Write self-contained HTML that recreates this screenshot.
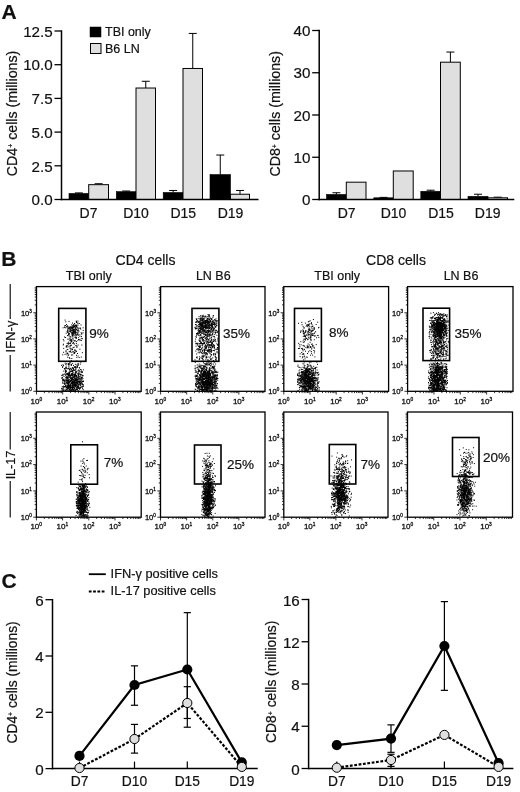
<!DOCTYPE html>
<html><head><meta charset="utf-8"><title>Figure</title>
<style>html,body{margin:0;padding:0;background:#fff}svg{display:block}text{font-family:"Liberation Sans", Arial, Helvetica, sans-serif;fill:#111;stroke:#111;stroke-width:0.2px}.s{stroke-width:0.3px}</style>
</head><body>
<svg width="520" height="792" viewBox="0 0 520 792">
<rect width="520" height="792" fill="#fff"/>
<text x="1.4" y="18.9" font-size="21" text-anchor="start" font-weight="bold" >A</text>
<text x="1.2" y="266.4" font-size="21" text-anchor="start" font-weight="bold" >B</text>
<text x="1.6" y="587.8" font-size="21" text-anchor="start" font-weight="bold" >C</text>
<rect x="69.00" y="193.43" width="19.70" height="6.07" fill="#000" stroke="#000" stroke-width="0.6"/>
<line x1="78.85" y1="193.434" x2="78.85" y2="192.8948" stroke="#000" stroke-width="1" />
<line x1="74.85" y1="192.8948" x2="82.85" y2="192.8948" stroke="#000" stroke-width="1" />
<line x1="98.6" y1="184.672" x2="98.6" y2="183.7284" stroke="#000" stroke-width="1" />
<line x1="94.6" y1="183.7284" x2="102.6" y2="183.7284" stroke="#000" stroke-width="1" />
<rect x="88.70" y="184.67" width="19.80" height="14.83" fill="#dfdfdf" stroke="#000" stroke-width="1"/>
<rect x="116.30" y="191.68" width="19.70" height="7.82" fill="#000" stroke="#000" stroke-width="0.6"/>
<line x1="126.15" y1="191.6816" x2="126.15" y2="191.0076" stroke="#000" stroke-width="1" />
<line x1="122.15" y1="191.0076" x2="130.15" y2="191.0076" stroke="#000" stroke-width="1" />
<line x1="145.75" y1="88.02040000000001" x2="145.75" y2="81.2804" stroke="#000" stroke-width="1" />
<line x1="141.75" y1="81.2804" x2="149.75" y2="81.2804" stroke="#000" stroke-width="1" />
<rect x="136.00" y="88.02" width="19.50" height="111.48" fill="#dfdfdf" stroke="#000" stroke-width="1"/>
<rect x="163.20" y="192.49" width="19.80" height="7.01" fill="#000" stroke="#000" stroke-width="0.6"/>
<line x1="173.1" y1="192.4904" x2="173.1" y2="190.4684" stroke="#000" stroke-width="1" />
<line x1="169.1" y1="190.4684" x2="177.1" y2="190.4684" stroke="#000" stroke-width="1" />
<line x1="192.75" y1="68.47439999999997" x2="192.75" y2="33.4264" stroke="#000" stroke-width="1" />
<line x1="188.75" y1="33.4264" x2="196.75" y2="33.4264" stroke="#000" stroke-width="1" />
<rect x="183.00" y="68.47" width="19.50" height="131.03" fill="#dfdfdf" stroke="#000" stroke-width="1"/>
<rect x="210.00" y="174.56" width="20.50" height="24.94" fill="#000" stroke="#000" stroke-width="0.6"/>
<line x1="220.25" y1="174.562" x2="220.25" y2="155.016" stroke="#000" stroke-width="1" />
<line x1="216.25" y1="155.016" x2="224.25" y2="155.016" stroke="#000" stroke-width="1" />
<line x1="240.0" y1="194.2428" x2="240.0" y2="190.4684" stroke="#000" stroke-width="1" />
<line x1="236.0" y1="190.4684" x2="244.0" y2="190.4684" stroke="#000" stroke-width="1" />
<rect x="230.50" y="194.24" width="19.00" height="5.26" fill="#dfdfdf" stroke="#000" stroke-width="1"/>
<line x1="61.5" y1="30.3" x2="61.5" y2="200.2" stroke="#000" stroke-width="1.5" />
<line x1="60.8" y1="199.5" x2="258.5" y2="199.5" stroke="#000" stroke-width="1.5" />
<line x1="54.5" y1="199.5" x2="61.5" y2="199.5" stroke="#000" stroke-width="1.3" />
<text x="52.7" y="205.2" font-size="15.2" text-anchor="end" font-weight="normal" >0.0</text>
<line x1="54.5" y1="165.8" x2="61.5" y2="165.8" stroke="#000" stroke-width="1.3" />
<text x="52.7" y="171.5" font-size="15.2" text-anchor="end" font-weight="normal" >2.5</text>
<line x1="54.5" y1="132.1" x2="61.5" y2="132.1" stroke="#000" stroke-width="1.3" />
<text x="52.7" y="137.79999999999998" font-size="15.2" text-anchor="end" font-weight="normal" >5.0</text>
<line x1="54.5" y1="98.39999999999999" x2="61.5" y2="98.39999999999999" stroke="#000" stroke-width="1.3" />
<text x="52.7" y="104.1" font-size="15.2" text-anchor="end" font-weight="normal" >7.5</text>
<line x1="54.5" y1="64.69999999999999" x2="61.5" y2="64.69999999999999" stroke="#000" stroke-width="1.3" />
<text x="52.7" y="70.39999999999999" font-size="15.2" text-anchor="end" font-weight="normal" >10.0</text>
<line x1="54.5" y1="31.0" x2="61.5" y2="31.0" stroke="#000" stroke-width="1.3" />
<text x="52.7" y="36.7" font-size="15.2" text-anchor="end" font-weight="normal" >12.5</text>
<text x="88.5" y="217.6" font-size="14" text-anchor="middle" font-weight="normal" >D7</text>
<text x="136" y="217.6" font-size="14" text-anchor="middle" font-weight="normal" >D10</text>
<text x="183.3" y="217.6" font-size="14" text-anchor="middle" font-weight="normal" >D15</text>
<text x="230.5" y="217.6" font-size="14" text-anchor="middle" font-weight="normal" >D19</text>
<text transform="translate(16.6,113.5) rotate(-90)" font-size="14.2" text-anchor="middle">CD4<tspan font-size="7" dy="-3.2">+</tspan><tspan dy="3.2" font-size="14"> </tspan>cells (millions)</text>
<rect x="326.50" y="194.43" width="19.80" height="5.07" fill="#000" stroke="#000" stroke-width="0.6"/>
<line x1="336.4" y1="194.43" x2="336.4" y2="192.74" stroke="#000" stroke-width="1" />
<line x1="332.4" y1="192.74" x2="340.4" y2="192.74" stroke="#000" stroke-width="1" />
<rect x="346.30" y="182.18" width="19.70" height="17.32" fill="#dfdfdf" stroke="#000" stroke-width="1"/>
<rect x="373.80" y="197.81" width="19.50" height="1.69" fill="#000" stroke="#000" stroke-width="0.6"/>
<line x1="383.55" y1="197.81" x2="383.55" y2="197.3875" stroke="#000" stroke-width="1" />
<line x1="379.55" y1="197.3875" x2="387.55" y2="197.3875" stroke="#000" stroke-width="1" />
<rect x="393.30" y="170.98" width="19.90" height="28.52" fill="#dfdfdf" stroke="#000" stroke-width="1"/>
<rect x="420.80" y="191.26" width="19.70" height="8.24" fill="#000" stroke="#000" stroke-width="0.6"/>
<line x1="430.65" y1="191.26125" x2="430.65" y2="190.205" stroke="#000" stroke-width="1" />
<line x1="426.65" y1="190.205" x2="434.65" y2="190.205" stroke="#000" stroke-width="1" />
<line x1="450.4" y1="62.1875" x2="450.4" y2="52.047500000000014" stroke="#000" stroke-width="1" />
<line x1="446.4" y1="52.047500000000014" x2="454.4" y2="52.047500000000014" stroke="#000" stroke-width="1" />
<rect x="440.50" y="62.19" width="19.80" height="137.31" fill="#dfdfdf" stroke="#000" stroke-width="1"/>
<rect x="468.00" y="196.33" width="20.00" height="3.17" fill="#000" stroke="#000" stroke-width="0.6"/>
<line x1="478.0" y1="196.33125" x2="478.0" y2="194.21875" stroke="#000" stroke-width="1" />
<line x1="474.0" y1="194.21875" x2="482.0" y2="194.21875" stroke="#000" stroke-width="1" />
<line x1="497.75" y1="197.81" x2="497.75" y2="197.17625" stroke="#000" stroke-width="1" />
<line x1="493.75" y1="197.17625" x2="501.75" y2="197.17625" stroke="#000" stroke-width="1" />
<rect x="488.00" y="197.81" width="19.50" height="1.69" fill="#dfdfdf" stroke="#000" stroke-width="1"/>
<line x1="319.2" y1="29.8" x2="319.2" y2="200.2" stroke="#000" stroke-width="1.5" />
<line x1="318.5" y1="199.5" x2="514.3" y2="199.5" stroke="#000" stroke-width="1.5" />
<line x1="312.2" y1="199.5" x2="319.2" y2="199.5" stroke="#000" stroke-width="1.3" />
<text x="310.4" y="205.2" font-size="15.2" text-anchor="end" font-weight="normal" >0</text>
<line x1="312.2" y1="157.25" x2="319.2" y2="157.25" stroke="#000" stroke-width="1.3" />
<text x="310.4" y="162.95" font-size="15.2" text-anchor="end" font-weight="normal" >10</text>
<line x1="312.2" y1="115.0" x2="319.2" y2="115.0" stroke="#000" stroke-width="1.3" />
<text x="310.4" y="120.7" font-size="15.2" text-anchor="end" font-weight="normal" >20</text>
<line x1="312.2" y1="72.75000000000001" x2="319.2" y2="72.75000000000001" stroke="#000" stroke-width="1.3" />
<text x="310.4" y="78.45000000000002" font-size="15.2" text-anchor="end" font-weight="normal" >30</text>
<line x1="312.2" y1="30.5" x2="319.2" y2="30.5" stroke="#000" stroke-width="1.3" />
<text x="310.4" y="36.2" font-size="15.2" text-anchor="end" font-weight="normal" >40</text>
<text x="346.7" y="217.6" font-size="14" text-anchor="middle" font-weight="normal" >D7</text>
<text x="393.5" y="217.6" font-size="14" text-anchor="middle" font-weight="normal" >D10</text>
<text x="441" y="217.6" font-size="14" text-anchor="middle" font-weight="normal" >D15</text>
<text x="487.7" y="217.6" font-size="14" text-anchor="middle" font-weight="normal" >D19</text>
<text transform="translate(279.7,113.8) rotate(-90)" font-size="14.2" text-anchor="middle">CD8<tspan font-size="7" dy="-3.2">+</tspan><tspan dy="3.2" font-size="14"> </tspan>cells (millions)</text>
<rect x="90.00" y="27.00" width="11.00" height="10.00" fill="#000" stroke="#000" stroke-width="0.5"/>
<rect x="90.50" y="43.50" width="10.50" height="10.00" fill="#dfdfdf" stroke="#000" stroke-width="1"/>
<text x="105" y="36.3" font-size="12.5" text-anchor="start" font-weight="normal" >TBI only</text>
<text x="105" y="53.3" font-size="12.5" text-anchor="start" font-weight="normal" >B6 LN</text>
<text x="145.5" y="265" font-size="14" text-anchor="middle" font-weight="normal" >CD4 cells</text>
<text x="396" y="265" font-size="14" text-anchor="middle" font-weight="normal" >CD8 cells</text>
<text x="88.8" y="280" font-size="12.5" text-anchor="middle" font-weight="normal" >TBI only</text>
<text x="213.3" y="280" font-size="12.5" text-anchor="middle" font-weight="normal" >LN B6</text>
<text x="337.2" y="280" font-size="12.5" text-anchor="middle" font-weight="normal" >TBI only</text>
<text x="461" y="280" font-size="12.5" text-anchor="middle" font-weight="normal" >LN B6</text>
<path d="M70.3 385.6h1.0M70.5 378.2h1.0M66.0 379.1h1.0M79.2 384.8h1.0M78.7 383.2h1.0M74.6 382.7h1.0M61.2 388.7h1.0M75.3 385.5h1.0M61.0 365.3h1.0M66.2 376.8h1.0M74.0 380.6h1.0M75.4 375.2h1.0M74.0 384.5h1.0M68.0 374.3h1.0M69.8 380.0h1.0M76.1 383.2h1.0M69.1 372.4h1.0M66.7 383.2h1.0M74.8 367.6h1.0M71.3 373.6h1.0M75.2 380.4h1.0M62.5 388.5h1.0M76.4 389.5h1.0M81.4 384.3h1.0M72.8 369.3h1.0M76.0 375.5h1.0M69.1 369.6h1.0M65.7 376.2h1.0M80.4 362.7h1.0M62.5 383.2h1.0M81.4 386.2h1.0M74.3 374.4h1.0M64.7 389.8h1.0M79.2 382.4h1.0M73.6 384.9h1.0M82.4 386.6h1.0M75.4 385.9h1.0M78.2 385.8h1.0M77.5 364.7h1.0M70.8 390.2h1.0M75.6 379.6h1.0M74.1 386.8h1.0M67.7 377.3h1.0M78.8 381.2h1.0M66.3 389.5h1.0M81.5 377.0h1.0M63.0 379.8h1.0M71.0 378.3h1.0M81.1 371.8h1.0M80.2 369.6h1.0M66.9 386.7h1.0M79.3 388.7h1.0M74.2 382.3h1.0M73.0 386.2h1.0M70.9 383.5h1.0M75.7 381.0h1.0M77.0 386.1h1.0M69.2 377.6h1.0M71.9 389.3h1.0M69.8 384.5h1.0M64.7 383.2h1.0M74.6 383.1h1.0M69.2 386.9h1.0M73.8 376.3h1.0M68.4 380.1h1.0M70.5 380.4h1.0M78.6 370.5h1.0M71.6 389.6h1.0M69.8 386.6h1.0M79.1 368.0h1.0M76.4 367.6h1.0M71.0 382.7h1.0M77.2 382.3h1.0M78.8 378.4h1.0M77.9 378.6h1.0M72.9 387.3h1.0M73.4 386.7h1.0M62.1 367.4h1.0M76.0 372.3h1.0M65.3 367.8h1.0M80.2 387.7h1.0M81.6 372.6h1.0M72.0 370.7h1.0M78.4 379.4h1.0M71.4 375.6h1.0M74.6 384.7h1.0M81.7 371.8h1.0M81.4 379.4h1.0M67.2 390.2h1.0M72.7 382.1h1.0M81.3 378.6h1.0M74.1 375.5h1.0M71.9 388.5h1.0M71.6 390.4h1.0M67.6 388.9h1.0M64.0 380.9h1.0M70.8 380.7h1.0M68.2 383.1h1.0M75.5 390.0h1.0M70.7 369.7h1.0M68.4 390.7h1.0M61.3 375.6h1.0M78.5 388.1h1.0M72.0 388.2h1.0M73.1 370.4h1.0M61.8 375.2h1.0M78.0 375.9h1.0M66.1 374.1h1.0M62.0 379.9h1.0M64.3 384.3h1.0M67.8 363.5h1.0M76.7 378.5h1.0M73.9 376.9h1.0M77.1 387.7h1.0M76.3 383.9h1.0M80.7 386.9h1.0M70.1 376.8h1.0M66.0 387.2h1.0M75.6 389.1h1.0M66.1 380.2h1.0M73.9 388.4h1.0M71.8 379.2h1.0M65.4 377.8h1.0M77.8 381.9h1.0M66.5 373.4h1.0M76.0 385.3h1.0M82.9 384.8h1.0M71.6 385.7h1.0M74.1 374.7h1.0M62.9 375.0h1.0M73.9 382.7h1.0M69.4 372.2h1.0M64.2 368.9h1.0M66.3 383.3h1.0M71.6 385.7h1.0M67.3 379.9h1.0M75.0 384.4h1.0M76.1 382.9h1.0M69.9 388.1h1.0M72.3 373.6h1.0M67.9 381.0h1.0M71.3 382.4h1.0M72.0 382.6h1.0M71.1 369.7h1.0M74.7 390.5h1.0M74.8 379.3h1.0M74.9 372.3h1.0M66.0 387.7h1.0M69.5 368.7h1.0M67.0 385.7h1.0M75.2 382.6h1.0M81.6 387.4h1.0M71.9 386.4h1.0M82.8 389.7h1.0M78.7 371.3h1.0M71.0 387.6h1.0M70.1 390.6h1.0M75.9 389.2h1.0M80.1 379.1h1.0M69.8 388.9h1.0M78.4 381.1h1.0M64.4 382.7h1.0M77.1 381.2h1.0M77.5 385.9h1.0M73.3 381.5h1.0M70.4 387.2h1.0M65.1 375.3h1.0M72.0 367.8h1.0M69.2 362.9h1.0M67.6 386.1h1.0M75.7 380.5h1.0M70.5 368.2h1.0M79.1 373.1h1.0M70.8 364.6h1.0M77.1 389.4h1.0M76.1 365.1h1.0M67.9 368.4h1.0M72.2 383.2h1.0M76.1 387.3h1.0M63.5 376.5h1.0M65.1 371.3h1.0M71.5 381.0h1.0M75.2 366.7h1.0M64.0 380.8h1.0M70.7 378.2h1.0M71.6 374.2h1.0M76.6 384.2h1.0M71.4 375.0h1.0M65.6 381.3h1.0M62.2 382.8h1.0M73.0 368.6h1.0M70.4 378.2h1.0M75.0 386.5h1.0M71.8 373.3h1.0M71.1 380.4h1.0M76.8 383.6h1.0M67.3 368.8h1.0M69.6 374.3h1.0M64.8 380.0h1.0M68.8 381.9h1.0M75.4 377.3h1.0M79.2 382.1h1.0M67.1 383.2h1.0M77.0 389.5h1.0M75.3 379.6h1.0M75.3 371.3h1.0M79.7 371.8h1.0M70.5 381.2h1.0M79.6 381.2h1.0M66.8 383.3h1.0M75.8 387.4h1.0M82.8 381.2h1.0M73.7 377.1h1.0M81.2 374.7h1.0M76.4 376.7h1.0M67.5 387.5h1.0M80.7 380.9h1.0M67.6 388.3h1.0M71.7 383.8h1.0M72.0 388.1h1.0M67.8 380.6h1.0M80.9 370.1h1.0M62.2 366.4h1.0M79.6 376.9h1.0M71.6 378.2h1.0M71.2 371.2h1.0M72.2 368.1h1.0M71.5 383.8h1.0M75.0 378.9h1.0M66.1 382.4h1.0M77.0 380.0h1.0M68.9 374.7h1.0M65.9 377.8h1.0M73.9 385.6h1.0M67.4 381.1h1.0M68.6 382.5h1.0M73.0 384.7h1.0M70.4 384.3h1.0M72.3 387.9h1.0M72.0 371.7h1.0M65.2 386.6h1.0M67.8 386.7h1.0M76.8 383.8h1.0M75.3 380.1h1.0M62.8 380.7h1.0M75.0 376.2h1.0M71.4 387.7h1.0M66.3 386.8h1.0M73.0 379.6h1.0M82.0 383.8h1.0M77.8 374.8h1.0M71.9 380.9h1.0M77.8 365.3h1.0M76.8 379.8h1.0M74.9 384.3h1.0M62.3 379.1h1.0M81.7 375.8h1.0M65.4 368.8h1.0M64.1 384.0h1.0M68.6 374.9h1.0M75.4 385.9h1.0M65.4 370.5h1.0M73.9 383.2h1.0M63.5 379.2h1.0M68.5 385.1h1.0M71.2 380.2h1.0M69.7 390.5h1.0M81.0 377.7h1.0M77.5 374.2h1.0M72.5 387.7h1.0M81.8 377.6h1.0M71.5 382.8h1.0M62.3 381.1h1.0M67.6 384.3h1.0M64.7 363.2h1.0M72.2 383.3h1.0M68.4 389.0h1.0M70.2 375.5h1.0M75.1 366.9h1.0M67.6 380.8h1.0M77.5 379.5h1.0M74.0 375.1h1.0M67.8 381.2h1.0M73.1 390.2h1.0M75.9 388.2h1.0M73.3 383.3h1.0M78.0 384.3h1.0M82.8 369.9h1.0M77.3 377.6h1.0M72.0 378.7h1.0M68.8 373.5h1.0M67.9 386.8h1.0M72.2 381.6h1.0M70.9 389.2h1.0M75.2 379.7h1.0M76.3 379.6h1.0M75.0 372.4h1.0M79.0 384.1h1.0M74.2 389.0h1.0M73.3 379.7h1.0M61.9 389.7h1.0M72.2 378.4h1.0M74.3 381.7h1.0M76.4 377.7h1.0M69.2 387.1h1.0M80.7 377.7h1.0M69.9 387.6h1.0M82.9 381.4h1.0M80.0 374.6h1.0M73.3 380.3h1.0M68.3 385.5h1.0M65.1 385.5h1.0M75.7 378.5h1.0M75.5 367.1h1.0M76.9 367.1h1.0M67.5 376.0h1.0M69.4 388.7h1.0M72.5 377.4h1.0M72.0 384.3h1.0M80.1 383.4h1.0M71.7 384.8h1.0M78.3 387.0h1.0M70.2 371.5h1.0M72.7 390.3h1.0M64.9 371.8h1.0M71.8 363.6h1.0M70.3 377.1h1.0M74.9 374.7h1.0M66.3 377.5h1.0M71.7 375.0h1.0M72.1 387.8h1.0M66.9 377.2h1.0M67.3 380.7h1.0M75.4 368.8h1.0M75.0 380.8h1.0M79.8 364.2h1.0M77.2 382.9h1.0M75.1 385.0h1.0M80.5 379.0h1.0M77.7 377.3h1.0M76.7 373.7h1.0M74.9 379.6h1.0M64.6 373.9h1.0M73.3 389.5h1.0M74.8 385.7h1.0M69.5 376.1h1.0M77.8 381.6h1.0M70.2 375.8h1.0M70.3 386.6h1.0M74.3 370.1h1.0M74.8 382.6h1.0M65.5 388.0h1.0M70.2 378.0h1.0M67.5 384.9h1.0M67.8 388.3h1.0M69.2 385.5h1.0M71.4 375.0h1.0M61.3 388.7h1.0M68.2 382.3h1.0M80.2 382.1h1.0M63.0 365.7h1.0M79.7 387.7h1.0M66.7 388.7h1.0M75.2 386.8h1.0M77.9 387.6h1.0M73.1 385.4h1.0M69.9 381.3h1.0M77.8 377.0h1.0M79.5 373.9h1.0M73.7 376.3h1.0M73.0 374.8h1.0M61.6 390.8h1.0M74.0 376.0h1.0M73.3 389.9h1.0M65.6 380.0h1.0M75.5 385.7h1.0M80.1 384.0h1.0M72.1 378.5h1.0M73.7 377.2h1.0M65.3 374.3h1.0M68.1 375.5h1.0M64.5 386.7h1.0M63.5 386.9h1.0M65.4 384.2h1.0M80.9 382.8h1.0M67.2 381.4h1.0M73.0 365.4h1.0M68.1 382.5h1.0M69.0 381.7h1.0M76.8 387.9h1.0M77.9 386.3h1.0M70.1 380.8h1.0M70.2 378.2h1.0M70.8 365.5h1.0M69.8 380.8h1.0M65.7 380.8h1.0M75.4 379.5h1.0M70.7 364.6h1.0M75.4 378.3h1.0M77.5 384.3h1.0M72.1 375.7h1.0M76.1 376.6h1.0M73.5 376.4h1.0M73.3 387.8h1.0M66.3 380.7h1.0M76.0 382.3h1.0M66.1 363.7h1.0M78.0 388.3h1.0M68.0 374.6h1.0M77.8 372.8h1.0M67.5 374.4h1.0M73.5 374.3h1.0M80.5 380.3h1.0M68.2 383.0h1.0M71.9 378.2h1.0M74.1 374.8h1.0M63.8 374.2h1.0M71.9 381.5h1.0M75.6 382.1h1.0M66.8 374.6h1.0M75.2 385.8h1.0M71.2 379.4h1.0M78.1 381.1h1.0M76.8 386.2h1.0M68.3 377.8h1.0M66.7 373.8h1.0M72.1 386.1h1.0M79.6 388.3h1.0M79.8 369.6h1.0M67.8 385.1h1.0M81.3 381.9h1.0M66.4 377.8h1.0M67.7 373.3h1.0M81.8 375.4h1.0M79.7 384.0h1.0M68.0 384.7h1.0M82.5 386.6h1.0M80.2 381.9h1.0M75.4 379.2h1.0M62.7 380.4h1.0M73.6 375.9h1.0M70.0 388.1h1.0M74.1 367.0h1.0M71.8 370.9h1.0M71.6 371.1h1.0M72.5 385.2h1.0M72.2 383.5h1.0M67.8 364.6h1.0M70.8 374.1h1.0M65.4 377.8h1.0M73.9 370.4h1.0M76.4 379.6h1.0M72.8 379.9h1.0M71.7 387.6h1.0M71.9 373.0h1.0M76.2 375.5h1.0M65.2 370.9h1.0M67.9 364.2h1.0M62.4 386.6h1.0M67.0 377.7h1.0M72.9 382.7h1.0M70.0 385.1h1.0M73.9 381.5h1.0M68.7 369.1h1.0M68.5 367.1h1.0M80.0 385.8h1.0M77.8 363.8h1.0M75.4 384.8h1.0M73.3 382.5h1.0M78.8 367.6h1.0M63.9 368.5h1.0M68.4 375.6h1.0M74.4 383.4h1.0M72.2 374.9h1.0M69.1 389.6h1.0M77.0 381.9h1.0M68.1 386.8h1.0M79.5 378.6h1.0M77.4 371.0h1.0M78.6 382.8h1.0M61.7 387.0h1.0M67.6 379.5h1.0M73.8 378.0h1.0M73.7 376.0h1.0M76.4 381.0h1.0M79.5 381.3h1.0M75.0 390.6h1.0M71.0 387.1h1.0M69.6 371.0h1.0M79.1 389.2h1.0M82.0 388.7h1.0M68.3 366.0h1.0M67.8 374.9h1.0M66.7 386.2h1.0M74.1 378.6h1.0M73.1 379.7h1.0M73.4 387.8h1.0M78.2 374.8h1.0M72.7 391.0h1.0M61.3 378.0h1.0M72.2 368.0h1.0M68.6 387.5h1.0M66.4 368.4h1.0M75.4 389.5h1.0M73.3 369.3h1.0M77.1 388.1h1.0M75.6 376.6h1.0M74.0 388.1h1.0M68.4 364.4h1.0M74.1 385.3h1.0M72.1 389.0h1.0M68.2 380.3h1.0M70.0 386.1h1.0M82.4 378.7h1.0M77.1 386.3h1.0M71.3 371.4h1.0M75.5 384.8h1.0M70.7 382.5h1.0M62.7 390.4h1.0M69.3 371.1h1.0M67.1 373.6h1.0M77.6 390.5h1.0M63.2 389.3h1.0M77.8 375.8h1.0M62.3 374.3h1.0M67.9 384.1h1.0M69.7 362.7h1.0M73.5 367.2h1.0M77.9 370.1h1.0M67.5 373.3h1.0M77.5 386.4h1.0M74.1 367.1h1.0M68.6 376.0h1.0M65.6 385.6h1.0M67.2 374.6h1.0M73.1 372.2h1.0M79.9 383.7h1.0M79.3 377.0h1.0M78.8 388.0h1.0M62.0 377.4h1.0M62.7 380.0h1.0M75.8 371.4h1.0M63.4 390.5h1.0M70.6 383.4h1.0M71.0 390.0h1.0M78.7 381.8h1.0M63.2 387.7h1.0M68.9 386.7h1.0M79.4 376.9h1.0M68.5 384.9h1.0M75.4 369.1h1.0M63.8 383.2h1.0M77.0 366.0h1.0M66.7 382.5h1.0M68.8 379.6h1.0M75.1 373.7h1.0M75.0 375.3h1.0M68.5 385.8h1.0M68.3 383.6h1.0M82.4 381.2h1.0M71.1 387.6h1.0M69.6 390.7h1.0M63.7 386.6h1.0M68.7 373.8h1.0M81.4 372.2h1.0M71.2 379.8h1.0M69.3 375.3h1.0M74.9 384.0h1.0M69.9 385.3h1.0M81.5 372.0h1.0M63.2 371.1h1.0M65.3 364.4h1.0M74.9 364.3h1.0M61.5 378.2h1.0M67.2 378.6h1.0M72.4 385.9h1.0M69.7 381.1h1.0M68.4 382.0h1.0M64.4 381.6h1.0M63.8 383.3h1.0M65.7 366.1h1.0M67.2 387.6h1.0M74.5 380.1h1.0M66.0 371.3h1.0M80.8 383.2h1.0M64.5 380.3h1.0M73.4 379.6h1.0M70.2 368.6h1.0M67.1 388.6h1.0M73.7 390.3h1.0M64.7 386.4h1.0M74.5 374.4h1.0M75.1 372.9h1.0M66.8 380.8h1.0M65.5 367.8h1.0M69.2 387.9h1.0M64.5 369.2h1.0M82.1 384.6h1.0M78.1 373.6h1.0M77.2 383.3h1.0M76.2 381.2h1.0M79.8 375.2h1.0M65.7 367.7h1.0M79.5 374.4h1.0M65.2 372.5h1.0M69.1 369.6h1.0M70.1 375.4h1.0M68.4 372.4h1.0M72.2 376.9h1.0M72.7 383.2h1.0M68.5 373.8h1.0M77.0 366.8h1.0M67.4 378.4h1.0M69.8 389.9h1.0M69.1 389.7h1.0M62.5 364.7h1.0M79.9 384.9h1.0M75.2 382.1h1.0M75.1 370.1h1.0M78.2 376.2h1.0M78.4 381.8h1.0M79.3 379.8h1.0M69.4 383.2h1.0M69.2 376.1h1.0M72.7 382.3h1.0M81.9 381.4h1.0M72.8 382.2h1.0M71.1 374.4h1.0M71.6 375.2h1.0M82.7 385.8h1.0M69.1 363.8h1.0M71.7 377.3h1.0M64.9 370.8h1.0M71.8 379.7h1.0M81.4 382.2h1.0M73.1 377.7h1.0M69.7 381.3h1.0M66.3 389.7h1.0M62.9 386.1h1.0M65.9 390.8h1.0M67.4 374.2h1.0M82.7 375.7h1.0M67.1 377.9h1.0M68.5 364.9h1.0M67.5 376.4h1.0M64.9 390.6h1.0M73.9 374.1h1.0M77.1 381.1h1.0M64.4 386.6h1.0M77.5 363.8h1.0" stroke="#000" stroke-width="1.0" stroke-opacity="1" fill="none"/>
<path d="M80.7 332.7h1.0M75.9 322.1h1.0M69.3 328.9h1.0M77.3 323.9h1.0M68.5 321.4h1.0M71.4 332.1h1.0M64.9 327.8h1.0M74.8 337.6h1.0M75.5 329.1h1.0M67.2 326.3h1.0M69.5 331.2h1.0M72.3 338.0h1.0M73.8 325.7h1.0M79.4 334.8h1.0M73.0 327.3h1.0M64.1 325.9h1.0M76.6 326.9h1.0M66.6 331.4h1.0M73.6 333.2h1.0M75.4 336.8h1.0M68.7 334.9h1.0M68.1 333.6h1.0M73.3 331.6h1.0M76.9 330.4h1.0M77.5 334.4h1.0M73.1 327.9h1.0M69.1 328.1h1.0M71.6 330.4h1.0M76.0 326.6h1.0M69.3 329.1h1.0M73.4 325.8h1.0M79.8 328.0h1.0M72.5 331.8h1.0M73.4 333.2h1.0M73.8 331.2h1.0M64.0 327.3h1.0M73.9 329.6h1.0M68.8 327.9h1.0M80.8 338.3h1.0M72.2 336.3h1.0M65.4 321.8h1.0M70.3 326.6h1.0M70.0 331.3h1.0M72.7 331.7h1.0M72.3 334.7h1.0M80.5 324.9h1.0M73.2 329.3h1.0M74.1 323.6h1.0M64.6 320.1h1.0M74.9 331.4h1.0M70.8 327.1h1.0M66.1 326.4h1.0M75.6 332.9h1.0M72.4 332.8h1.0M69.8 330.8h1.0M72.7 333.0h1.0M72.2 329.9h1.0M71.9 327.6h1.0M82.6 332.8h1.0M74.4 340.8h1.0M78.8 323.5h1.0M75.6 334.3h1.0M81.0 336.4h1.0M76.0 325.2h1.0M68.6 331.7h1.0M74.8 325.9h1.0M70.8 328.7h1.0M72.8 332.0h1.0M71.2 324.9h1.0M78.1 337.7h1.0M72.0 335.1h1.0M74.5 333.5h1.0M74.7 327.1h1.0M75.1 335.0h1.0M68.5 339.3h1.0M81.9 338.7h1.0M81.5 333.8h1.0M71.0 327.8h1.0M68.8 331.0h1.0M72.4 333.5h1.0M63.4 340.9h1.0M82.7 330.4h1.0M75.5 332.6h1.0M73.7 329.6h1.0M71.9 326.8h1.0M73.3 330.4h1.0M73.9 326.7h1.0M72.7 330.7h1.0M75.2 325.7h1.0M74.4 334.9h1.0M75.2 328.8h1.0M70.3 329.4h1.0M75.8 337.5h1.0M71.8 327.6h1.0M74.2 331.4h1.0M68.4 327.2h1.0M72.0 333.5h1.0M67.1 325.9h1.0M74.7 325.0h1.0M73.0 332.1h1.0M72.0 325.9h1.0M72.2 329.0h1.0M74.0 326.7h1.0M77.4 323.0h1.0M71.7 330.5h1.0M76.8 327.8h1.0M75.0 327.9h1.0M75.8 338.3h1.0M70.7 332.5h1.0M68.3 334.9h1.0M77.9 330.7h1.0M67.4 332.3h1.0M77.7 335.4h1.0M76.2 322.3h1.0M69.4 336.9h1.0M67.0 335.6h1.0M81.0 333.9h1.0M77.5 329.0h1.0M67.0 330.0h1.0M71.6 330.3h1.0M75.6 329.8h1.0M73.4 332.4h1.0M72.5 338.8h1.0M74.5 330.9h1.0M71.6 327.7h1.0M78.5 331.2h1.0M67.6 328.0h1.0M71.9 328.5h1.0M77.4 325.3h1.0M74.7 331.1h1.0M67.2 330.7h1.0M72.1 332.8h1.0M70.5 331.9h1.0M65.0 325.6h1.0M76.0 335.2h1.0M72.4 327.8h1.0M77.4 321.1h1.0M68.9 333.5h1.0M75.4 325.9h1.0M64.0 337.0h1.0M73.2 326.5h1.0M72.7 334.6h1.0M75.8 321.1h1.0M76.0 322.5h1.0M77.6 332.3h1.0M82.6 327.8h1.0M72.5 335.2h1.0M69.6 327.3h1.0M70.8 330.2h1.0M67.6 332.7h1.0M74.9 330.8h1.0M80.2 329.0h1.0M78.4 328.0h1.0M75.9 321.8h1.0M73.4 329.7h1.0M70.3 327.8h1.0M70.9 327.3h1.0M62.6 327.8h1.0M70.0 328.1h1.0M67.7 329.9h1.0M76.0 329.4h1.0M70.3 336.6h1.0M76.9 334.6h1.0M77.7 329.0h1.0M71.9 335.5h1.0M70.0 330.0h1.0M74.2 332.2h1.0M71.3 334.9h1.0M71.7 333.8h1.0M77.3 333.5h1.0M75.8 325.3h1.0M66.6 327.7h1.0M74.6 337.3h1.0M67.0 331.9h1.0M68.7 327.2h1.0M71.3 333.6h1.0M73.5 335.8h1.0M68.1 334.5h1.0M76.7 330.8h1.0M74.6 328.0h1.0M67.6 328.7h1.0M69.6 343.5h1.0M70.3 337.9h1.0M73.4 331.9h1.0M75.8 327.0h1.0M76.6 332.2h1.0M65.7 333.2h1.0M75.0 332.5h1.0M79.6 328.6h1.0M74.8 333.9h1.0M68.4 335.9h1.0M66.0 324.6h1.0M74.9 325.6h1.0M72.0 323.1h1.0M72.8 325.4h1.0M74.0 323.6h1.0M74.5 329.3h1.0M72.8 330.2h1.0M73.1 324.6h1.0M68.3 328.5h1.0" stroke="#000" stroke-width="1.0" stroke-opacity="1" fill="none"/>
<path d="M68.2 342.1h1.0M66.7 349.6h1.0M71.3 340.4h1.0M67.1 353.5h1.0M68.7 351.7h1.0M66.6 347.0h1.0M73.7 353.2h1.0M76.0 355.3h1.0M70.1 345.3h1.0M75.9 343.6h1.0M75.3 345.6h1.0M62.2 354.8h1.0M73.6 347.2h1.0M66.6 343.3h1.0M79.6 340.4h1.0M66.0 345.9h1.0M70.0 339.7h1.0M67.8 355.4h1.0M69.3 338.3h1.0M75.9 351.5h1.0M66.8 353.0h1.0M62.8 339.6h1.0M77.6 345.0h1.0M65.5 351.1h1.0M76.6 346.8h1.0M63.0 344.2h1.0M74.1 353.1h1.0M81.3 345.0h1.0M69.6 346.7h1.0M78.0 339.5h1.0M76.0 341.6h1.0M74.3 352.5h1.0M66.1 346.3h1.0M73.2 351.7h1.0M67.3 339.1h1.0M71.0 345.2h1.0M64.5 354.4h1.0M69.3 358.5h1.0M76.3 347.2h1.0M75.6 338.1h1.0M70.4 342.4h1.0M65.7 347.1h1.0M71.3 358.5h1.0M67.4 343.3h1.0M74.1 350.2h1.0M72.1 343.2h1.0M74.5 349.9h1.0M62.8 344.9h1.0M65.1 337.5h1.0M72.7 347.5h1.0M72.6 340.0h1.0M71.0 339.7h1.0M73.9 352.5h1.0M80.8 357.1h1.0M68.0 343.3h1.0M67.3 349.4h1.0M81.9 352.7h1.0M65.5 351.1h1.0M72.0 349.4h1.0M80.9 340.4h1.0M73.7 340.8h1.0M72.2 354.9h1.0M71.3 341.5h1.0M63.2 348.4h1.0M72.1 351.9h1.0M70.0 351.0h1.0M76.1 345.8h1.0M69.7 345.5h1.0M67.2 345.3h1.0M70.5 348.7h1.0M78.7 357.5h1.0M69.8 351.8h1.0M73.5 353.1h1.0M72.1 349.1h1.0M69.7 340.7h1.0M76.4 357.4h1.0M75.3 350.5h1.0M73.3 343.4h1.0M63.1 352.3h1.0M73.0 342.6h1.0M67.2 357.2h1.0M68.4 346.8h1.0M69.5 348.2h1.0M71.0 341.0h1.0M77.4 340.7h1.0M69.5 351.4h1.0M69.3 343.5h1.0M73.8 344.1h1.0M65.8 346.2h1.0M70.9 360.6h1.0M66.5 354.8h1.0M68.1 344.2h1.0M70.4 349.2h1.0M76.3 361.0h1.0M68.8 357.6h1.0M77.0 353.5h1.0M68.2 354.2h1.0M71.5 349.8h1.0M70.7 352.3h1.0M77.6 356.0h1.0M71.0 355.0h1.0M79.3 339.5h1.0M79.4 336.3h1.0M74.7 351.8h1.0M79.4 349.2h1.0M69.6 340.6h1.0M65.7 353.1h1.0M70.8 341.3h1.0M74.7 340.9h1.0M69.8 343.3h1.0" stroke="#000" stroke-width="1.0" stroke-opacity="1" fill="none"/>
<rect x="36.50" y="286.60" width="104.70" height="104.70" fill="none" stroke="#000" stroke-width="1.3"/>
<line x1="33.3" y1="391.3" x2="36.5" y2="391.3" stroke="#000" stroke-width="0.8" />
<line x1="36.5" y1="391.3" x2="36.5" y2="394.5" stroke="#000" stroke-width="0.8" />
<line x1="34.7" y1="383.4205398634953" x2="36.5" y2="383.4205398634953" stroke="#000" stroke-width="0.8" />
<line x1="44.379460136504704" y1="391.3" x2="44.379460136504704" y2="393.1" stroke="#000" stroke-width="0.8" />
<line x1="34.7" y1="378.81135115771286" x2="36.5" y2="378.81135115771286" stroke="#000" stroke-width="0.8" />
<line x1="48.98864884228716" y1="391.3" x2="48.98864884228716" y2="393.1" stroke="#000" stroke-width="0.8" />
<line x1="34.7" y1="375.5410797269906" x2="36.5" y2="375.5410797269906" stroke="#000" stroke-width="0.8" />
<line x1="52.258920273009416" y1="391.3" x2="52.258920273009416" y2="393.1" stroke="#000" stroke-width="0.8" />
<line x1="34.7" y1="373.0044601365047" x2="36.5" y2="373.0044601365047" stroke="#000" stroke-width="0.8" />
<line x1="54.79553986349529" y1="391.3" x2="54.79553986349529" y2="393.1" stroke="#000" stroke-width="0.8" />
<line x1="34.7" y1="370.9318910212081" x2="36.5" y2="370.9318910212081" stroke="#000" stroke-width="0.8" />
<line x1="56.86810897879187" y1="391.3" x2="56.86810897879187" y2="393.1" stroke="#000" stroke-width="0.8" />
<line x1="34.7" y1="369.17955880262684" x2="36.5" y2="369.17955880262684" stroke="#000" stroke-width="0.8" />
<line x1="58.62044119737317" y1="391.3" x2="58.62044119737317" y2="393.1" stroke="#000" stroke-width="0.8" />
<line x1="34.7" y1="367.6616195904859" x2="36.5" y2="367.6616195904859" stroke="#000" stroke-width="0.8" />
<line x1="60.13838040951412" y1="391.3" x2="60.13838040951412" y2="393.1" stroke="#000" stroke-width="0.8" />
<line x1="34.7" y1="366.32270231542566" x2="36.5" y2="366.32270231542566" stroke="#000" stroke-width="0.8" />
<line x1="61.477297684574324" y1="391.3" x2="61.477297684574324" y2="393.1" stroke="#000" stroke-width="0.8" />
<line x1="33.3" y1="365.125" x2="36.5" y2="365.125" stroke="#000" stroke-width="0.8" />
<line x1="62.675" y1="391.3" x2="62.675" y2="394.5" stroke="#000" stroke-width="0.8" />
<line x1="34.7" y1="357.2455398634953" x2="36.5" y2="357.2455398634953" stroke="#000" stroke-width="0.8" />
<line x1="70.5544601365047" y1="391.3" x2="70.5544601365047" y2="393.1" stroke="#000" stroke-width="0.8" />
<line x1="34.7" y1="352.63635115771285" x2="36.5" y2="352.63635115771285" stroke="#000" stroke-width="0.8" />
<line x1="75.16364884228716" y1="391.3" x2="75.16364884228716" y2="393.1" stroke="#000" stroke-width="0.8" />
<line x1="34.7" y1="349.3660797269906" x2="36.5" y2="349.3660797269906" stroke="#000" stroke-width="0.8" />
<line x1="78.43392027300942" y1="391.3" x2="78.43392027300942" y2="393.1" stroke="#000" stroke-width="0.8" />
<line x1="34.7" y1="346.82946013650474" x2="36.5" y2="346.82946013650474" stroke="#000" stroke-width="0.8" />
<line x1="80.97053986349528" y1="391.3" x2="80.97053986349528" y2="393.1" stroke="#000" stroke-width="0.8" />
<line x1="34.7" y1="344.75689102120816" x2="36.5" y2="344.75689102120816" stroke="#000" stroke-width="0.8" />
<line x1="83.04310897879186" y1="391.3" x2="83.04310897879186" y2="393.1" stroke="#000" stroke-width="0.8" />
<line x1="34.7" y1="343.00455880262683" x2="36.5" y2="343.00455880262683" stroke="#000" stroke-width="0.8" />
<line x1="84.79544119737318" y1="391.3" x2="84.79544119737318" y2="393.1" stroke="#000" stroke-width="0.8" />
<line x1="34.7" y1="341.4866195904859" x2="36.5" y2="341.4866195904859" stroke="#000" stroke-width="0.8" />
<line x1="86.31338040951411" y1="391.3" x2="86.31338040951411" y2="393.1" stroke="#000" stroke-width="0.8" />
<line x1="34.7" y1="340.1477023154257" x2="36.5" y2="340.1477023154257" stroke="#000" stroke-width="0.8" />
<line x1="87.65229768457432" y1="391.3" x2="87.65229768457432" y2="393.1" stroke="#000" stroke-width="0.8" />
<line x1="33.3" y1="338.95000000000005" x2="36.5" y2="338.95000000000005" stroke="#000" stroke-width="0.8" />
<line x1="88.85" y1="391.3" x2="88.85" y2="394.5" stroke="#000" stroke-width="0.8" />
<line x1="34.7" y1="331.0705398634953" x2="36.5" y2="331.0705398634953" stroke="#000" stroke-width="0.8" />
<line x1="96.72946013650471" y1="391.3" x2="96.72946013650471" y2="393.1" stroke="#000" stroke-width="0.8" />
<line x1="34.7" y1="326.46135115771284" x2="36.5" y2="326.46135115771284" stroke="#000" stroke-width="0.8" />
<line x1="101.33864884228716" y1="391.3" x2="101.33864884228716" y2="393.1" stroke="#000" stroke-width="0.8" />
<line x1="34.7" y1="323.1910797269906" x2="36.5" y2="323.1910797269906" stroke="#000" stroke-width="0.8" />
<line x1="104.60892027300942" y1="391.3" x2="104.60892027300942" y2="393.1" stroke="#000" stroke-width="0.8" />
<line x1="34.7" y1="320.6544601365047" x2="36.5" y2="320.6544601365047" stroke="#000" stroke-width="0.8" />
<line x1="107.14553986349529" y1="391.3" x2="107.14553986349529" y2="393.1" stroke="#000" stroke-width="0.8" />
<line x1="34.7" y1="318.58189102120815" x2="36.5" y2="318.58189102120815" stroke="#000" stroke-width="0.8" />
<line x1="109.21810897879188" y1="391.3" x2="109.21810897879188" y2="393.1" stroke="#000" stroke-width="0.8" />
<line x1="34.7" y1="316.8295588026268" x2="36.5" y2="316.8295588026268" stroke="#000" stroke-width="0.8" />
<line x1="110.97044119737316" y1="391.3" x2="110.97044119737316" y2="393.1" stroke="#000" stroke-width="0.8" />
<line x1="34.7" y1="315.31161959048586" x2="36.5" y2="315.31161959048586" stroke="#000" stroke-width="0.8" />
<line x1="112.48838040951412" y1="391.3" x2="112.48838040951412" y2="393.1" stroke="#000" stroke-width="0.8" />
<line x1="34.7" y1="313.9727023154257" x2="36.5" y2="313.9727023154257" stroke="#000" stroke-width="0.8" />
<line x1="113.82729768457432" y1="391.3" x2="113.82729768457432" y2="393.1" stroke="#000" stroke-width="0.8" />
<line x1="33.3" y1="312.77500000000003" x2="36.5" y2="312.77500000000003" stroke="#000" stroke-width="0.8" />
<line x1="115.02499999999999" y1="391.3" x2="115.02499999999999" y2="394.5" stroke="#000" stroke-width="0.8" />
<line x1="34.7" y1="304.8955398634953" x2="36.5" y2="304.8955398634953" stroke="#000" stroke-width="0.8" />
<line x1="122.9044601365047" y1="391.3" x2="122.9044601365047" y2="393.1" stroke="#000" stroke-width="0.8" />
<line x1="34.7" y1="300.28635115771283" x2="36.5" y2="300.28635115771283" stroke="#000" stroke-width="0.8" />
<line x1="127.51364884228715" y1="391.3" x2="127.51364884228715" y2="393.1" stroke="#000" stroke-width="0.8" />
<line x1="34.7" y1="297.0160797269906" x2="36.5" y2="297.0160797269906" stroke="#000" stroke-width="0.8" />
<line x1="130.78392027300941" y1="391.3" x2="130.78392027300941" y2="393.1" stroke="#000" stroke-width="0.8" />
<line x1="34.7" y1="294.4794601365047" x2="36.5" y2="294.4794601365047" stroke="#000" stroke-width="0.8" />
<line x1="133.3205398634953" y1="391.3" x2="133.3205398634953" y2="393.1" stroke="#000" stroke-width="0.8" />
<line x1="34.7" y1="292.40689102120814" x2="36.5" y2="292.40689102120814" stroke="#000" stroke-width="0.8" />
<line x1="135.39310897879187" y1="391.3" x2="135.39310897879187" y2="393.1" stroke="#000" stroke-width="0.8" />
<line x1="34.7" y1="290.65455880262687" x2="36.5" y2="290.65455880262687" stroke="#000" stroke-width="0.8" />
<line x1="137.14544119737315" y1="391.3" x2="137.14544119737315" y2="393.1" stroke="#000" stroke-width="0.8" />
<line x1="34.7" y1="289.1366195904859" x2="36.5" y2="289.1366195904859" stroke="#000" stroke-width="0.8" />
<line x1="138.6633804095141" y1="391.3" x2="138.6633804095141" y2="393.1" stroke="#000" stroke-width="0.8" />
<line x1="34.7" y1="287.7977023154257" x2="36.5" y2="287.7977023154257" stroke="#000" stroke-width="0.8" />
<line x1="140.00229768457433" y1="391.3" x2="140.00229768457433" y2="393.1" stroke="#000" stroke-width="0.8" />
<text class="s" x="31.9" y="394.0" font-size="7.6" text-anchor="end">10<tspan font-size="4.6" dy="-2.9">0</tspan></text>
<text class="s" x="30.5" y="404" font-size="8">10<tspan font-size="4.8" dy="-3">0</tspan></text>
<text class="s" x="31.9" y="367.8" font-size="7.6" text-anchor="end">10<tspan font-size="4.6" dy="-2.9">1</tspan></text>
<text class="s" x="56.7" y="404" font-size="8">10<tspan font-size="4.8" dy="-3">1</tspan></text>
<text class="s" x="31.9" y="341.7" font-size="7.6" text-anchor="end">10<tspan font-size="4.6" dy="-2.9">2</tspan></text>
<text class="s" x="82.8" y="404" font-size="8">10<tspan font-size="4.8" dy="-3">2</tspan></text>
<text class="s" x="31.9" y="315.5" font-size="7.6" text-anchor="end">10<tspan font-size="4.6" dy="-2.9">3</tspan></text>
<text class="s" x="109.0" y="404" font-size="8">10<tspan font-size="4.8" dy="-3">3</tspan></text>
<rect x="58.70" y="308.40" width="27.20" height="52.90" fill="none" stroke="#000" stroke-width="1.6"/>
<text x="89.3" y="337.7" font-size="13.5" text-anchor="start" font-weight="normal" >9%</text>
<path d="M204.9 366.9h1.0M207.9 381.6h1.0M208.4 386.1h1.0M203.8 389.3h1.0M211.9 382.9h1.0M203.2 376.7h1.0M210.8 371.1h1.0M204.9 374.3h1.0M196.2 386.4h1.0M205.8 381.3h1.0M212.1 367.6h1.0M205.5 383.6h1.0M211.8 371.2h1.0M211.0 383.0h1.0M206.0 377.2h1.0M203.6 372.5h1.0M205.8 364.1h1.0M205.4 384.8h1.0M212.9 377.9h1.0M215.7 375.1h1.0M205.1 364.1h1.0M200.7 373.9h1.0M216.2 385.7h1.0M198.5 385.7h1.0M209.3 378.9h1.0M206.2 378.3h1.0M202.3 365.4h1.0M215.8 378.6h1.0M200.9 379.1h1.0M212.1 384.1h1.0M202.0 384.2h1.0M204.6 385.5h1.0M203.2 368.1h1.0M206.4 387.7h1.0M198.4 380.1h1.0M212.0 377.7h1.0M211.7 390.0h1.0M194.7 376.5h1.0M199.7 375.2h1.0M207.3 364.1h1.0M210.4 385.9h1.0M203.0 385.7h1.0M211.3 383.7h1.0M202.8 382.4h1.0M202.4 390.0h1.0M203.2 385.1h1.0M206.9 381.6h1.0M215.6 388.2h1.0M214.9 379.6h1.0M212.3 387.6h1.0M201.8 383.3h1.0M205.1 380.7h1.0M214.8 374.7h1.0M194.6 365.9h1.0M202.9 375.4h1.0M206.1 385.9h1.0M209.1 374.6h1.0M215.1 364.0h1.0M211.6 368.0h1.0M203.9 386.1h1.0M208.8 374.0h1.0M200.0 389.4h1.0M206.1 383.6h1.0M197.0 375.8h1.0M210.6 368.3h1.0M197.8 381.4h1.0M209.2 387.3h1.0M203.5 379.2h1.0M204.4 376.0h1.0M207.7 382.4h1.0M201.8 383.2h1.0M205.9 380.3h1.0M213.4 366.1h1.0M207.7 371.8h1.0M198.7 380.1h1.0M202.0 389.2h1.0M199.4 366.5h1.0M209.5 377.9h1.0M203.9 390.3h1.0M200.0 377.8h1.0M207.0 384.6h1.0M202.5 389.9h1.0M215.5 378.0h1.0M206.9 378.1h1.0M201.7 370.0h1.0M213.7 378.0h1.0M202.5 374.9h1.0M210.5 382.0h1.0M202.7 372.2h1.0M214.8 387.7h1.0M199.6 389.5h1.0M198.6 386.5h1.0M199.5 377.4h1.0M209.3 384.7h1.0M212.8 373.8h1.0M205.9 385.0h1.0M200.8 379.7h1.0M197.1 381.8h1.0M212.4 388.0h1.0M203.6 379.1h1.0M203.7 382.9h1.0M195.5 376.5h1.0M206.1 376.6h1.0M217.2 380.2h1.0M202.7 384.5h1.0M214.7 378.1h1.0M206.6 376.2h1.0M206.4 377.9h1.0M206.6 389.7h1.0M215.4 382.2h1.0M207.4 388.4h1.0M204.1 371.9h1.0M213.5 372.9h1.0M212.3 372.7h1.0M200.5 365.8h1.0M210.9 387.1h1.0M205.6 378.4h1.0M203.5 378.5h1.0M203.6 374.8h1.0M208.7 390.2h1.0M210.9 370.9h1.0M207.1 382.2h1.0M203.1 384.4h1.0M212.2 373.1h1.0M201.3 365.8h1.0M207.1 380.5h1.0M203.8 385.3h1.0M206.6 378.7h1.0M203.0 372.9h1.0M201.9 381.8h1.0M209.9 373.6h1.0M212.7 372.1h1.0M211.6 384.7h1.0M204.2 379.6h1.0M209.2 388.5h1.0M197.0 383.4h1.0M201.0 386.4h1.0M215.2 381.4h1.0M205.3 382.6h1.0M209.8 382.4h1.0M203.3 374.7h1.0M207.8 380.9h1.0M194.8 375.3h1.0M214.4 369.8h1.0M199.3 371.5h1.0M202.3 386.6h1.0M210.0 363.5h1.0M215.8 375.9h1.0M205.5 370.3h1.0M201.7 374.7h1.0M199.2 378.1h1.0M211.9 384.0h1.0M199.3 382.0h1.0M206.2 387.6h1.0M203.8 384.9h1.0M198.7 383.8h1.0M200.6 377.8h1.0M207.3 383.9h1.0M204.1 388.3h1.0M204.7 369.7h1.0M211.9 377.9h1.0M214.2 375.3h1.0M209.8 383.7h1.0M213.3 385.3h1.0M210.5 376.7h1.0M205.9 382.9h1.0M208.8 387.1h1.0M204.6 374.9h1.0M202.2 384.6h1.0M194.8 370.2h1.0M203.2 376.2h1.0M203.7 378.8h1.0M211.2 363.9h1.0M203.9 385.1h1.0M213.1 371.9h1.0M210.3 378.1h1.0M201.8 373.6h1.0M203.3 373.6h1.0M212.8 384.3h1.0M215.4 384.6h1.0M201.9 390.1h1.0M201.6 377.0h1.0M204.9 381.3h1.0M214.0 375.8h1.0M208.4 380.8h1.0M197.5 371.5h1.0M204.5 384.5h1.0M208.2 385.2h1.0M206.3 377.1h1.0M208.9 372.3h1.0M196.9 378.1h1.0M196.4 376.5h1.0M201.0 376.2h1.0M205.7 374.1h1.0M203.1 366.2h1.0M207.0 373.4h1.0M200.6 383.1h1.0M206.6 381.9h1.0M195.9 383.0h1.0M207.0 372.6h1.0M211.0 380.6h1.0M206.1 377.1h1.0M209.7 381.8h1.0M213.7 384.9h1.0M201.8 379.1h1.0M212.2 377.8h1.0M208.6 385.5h1.0M206.9 382.9h1.0M206.9 374.4h1.0M214.2 379.8h1.0M201.8 374.8h1.0M208.4 371.5h1.0M214.9 390.2h1.0M215.2 386.2h1.0M214.4 385.3h1.0M215.3 376.7h1.0M206.9 387.8h1.0M205.4 390.6h1.0M206.6 387.0h1.0M206.6 368.1h1.0M209.8 375.8h1.0M206.1 364.3h1.0M204.7 388.9h1.0M199.7 375.3h1.0M208.9 376.7h1.0M205.5 382.9h1.0M209.5 384.1h1.0M204.8 377.4h1.0M203.0 362.8h1.0M207.8 380.7h1.0M205.3 378.7h1.0M200.9 380.8h1.0M203.0 382.8h1.0M211.9 388.1h1.0M210.9 388.2h1.0M202.6 381.0h1.0M201.0 389.4h1.0M211.7 376.9h1.0M214.4 371.2h1.0M205.4 386.6h1.0M205.8 384.4h1.0M214.0 383.9h1.0M198.5 387.3h1.0M205.3 382.0h1.0M202.1 368.9h1.0M197.5 377.9h1.0M213.8 370.8h1.0M201.1 385.7h1.0M200.8 386.8h1.0M202.7 383.7h1.0M206.7 381.0h1.0M202.3 385.7h1.0M207.1 385.2h1.0M212.8 367.9h1.0M207.9 379.4h1.0M203.9 373.5h1.0M200.6 372.0h1.0M211.1 372.4h1.0M205.7 372.2h1.0M204.4 372.3h1.0M196.5 379.0h1.0M203.3 373.9h1.0M200.0 372.8h1.0M195.0 383.4h1.0M198.1 379.6h1.0M206.7 385.9h1.0M213.7 376.1h1.0M197.5 379.3h1.0M208.0 374.9h1.0M196.3 384.2h1.0M212.9 364.1h1.0M207.4 379.0h1.0M207.5 376.8h1.0M209.0 386.6h1.0M211.2 386.1h1.0M208.8 370.7h1.0M203.1 382.1h1.0M203.4 371.7h1.0M206.2 375.9h1.0M203.2 373.2h1.0M200.9 380.1h1.0M201.6 387.0h1.0M205.0 382.2h1.0M210.1 383.0h1.0M204.9 373.9h1.0M203.7 387.0h1.0M207.5 377.6h1.0M196.9 367.6h1.0M208.2 390.0h1.0M208.6 369.0h1.0M204.5 382.9h1.0M199.7 384.0h1.0M204.6 373.7h1.0M197.5 388.1h1.0M208.4 373.2h1.0M199.1 388.8h1.0M210.1 378.3h1.0M216.9 378.5h1.0M198.8 390.6h1.0M204.7 384.0h1.0M206.3 372.2h1.0M197.9 379.3h1.0M215.6 372.2h1.0M215.3 382.9h1.0M198.4 383.3h1.0M209.9 373.1h1.0M198.4 384.9h1.0M200.5 368.0h1.0M204.4 382.5h1.0M202.2 370.7h1.0M207.4 365.7h1.0M209.6 385.3h1.0M217.4 388.7h1.0M208.4 383.3h1.0M206.2 369.4h1.0M216.0 385.6h1.0M204.1 371.0h1.0M216.1 385.7h1.0M197.9 386.9h1.0M208.7 377.4h1.0M201.7 390.4h1.0M205.2 387.9h1.0M203.9 387.4h1.0M211.6 372.1h1.0M198.7 380.4h1.0M211.7 383.4h1.0M214.4 369.0h1.0M209.4 375.6h1.0M206.7 383.8h1.0M199.4 379.0h1.0M198.1 383.3h1.0M200.2 376.7h1.0M207.5 375.3h1.0M213.8 375.4h1.0M211.8 383.5h1.0M199.0 379.1h1.0M200.3 377.8h1.0M209.0 369.6h1.0M213.0 384.4h1.0M204.6 378.8h1.0M207.8 378.4h1.0M202.4 377.8h1.0M213.9 375.6h1.0M208.6 371.0h1.0M201.2 369.0h1.0M204.7 387.0h1.0M208.1 376.7h1.0M210.1 378.0h1.0M208.5 383.4h1.0M197.2 387.7h1.0M204.4 376.2h1.0M216.1 385.8h1.0M204.6 387.3h1.0M200.7 377.1h1.0M202.2 379.1h1.0M211.3 376.8h1.0M208.2 376.7h1.0M204.6 382.5h1.0M198.7 389.8h1.0M212.5 386.6h1.0M205.0 371.5h1.0M204.5 377.0h1.0M207.7 377.0h1.0M213.9 376.9h1.0M204.4 389.1h1.0M206.0 370.5h1.0M208.8 379.3h1.0M198.9 374.5h1.0M209.3 383.6h1.0M208.8 375.7h1.0M207.6 379.9h1.0M204.8 378.6h1.0M202.2 389.5h1.0M205.2 384.3h1.0M203.1 379.5h1.0M199.6 375.3h1.0M214.2 383.3h1.0M214.3 388.4h1.0M212.2 389.7h1.0M201.9 388.0h1.0M203.8 376.4h1.0M211.6 373.6h1.0M207.8 384.2h1.0M208.5 377.9h1.0M197.3 381.3h1.0M211.8 387.8h1.0M210.5 390.6h1.0M199.3 380.6h1.0M208.3 389.7h1.0M207.1 385.5h1.0M196.3 375.1h1.0M209.1 386.8h1.0M212.9 382.7h1.0M200.2 380.2h1.0M208.3 378.6h1.0M201.5 377.9h1.0M195.9 372.1h1.0M205.4 377.9h1.0M208.0 380.7h1.0M198.1 371.7h1.0M208.5 373.4h1.0M208.9 371.7h1.0M206.9 380.4h1.0M212.7 377.6h1.0M203.5 383.1h1.0M204.3 376.4h1.0M203.8 385.1h1.0M207.6 387.0h1.0M197.9 382.3h1.0M206.1 368.2h1.0M213.0 368.0h1.0M215.3 388.8h1.0M203.6 385.3h1.0M216.2 378.1h1.0M205.9 376.2h1.0M213.8 362.3h1.0M215.6 372.6h1.0M212.2 366.9h1.0M199.7 375.8h1.0M211.6 367.0h1.0M210.1 375.5h1.0M214.4 378.3h1.0M209.3 379.5h1.0M206.5 386.9h1.0M201.0 382.7h1.0M201.6 368.0h1.0M196.5 390.9h1.0M208.9 367.9h1.0M203.5 383.1h1.0M198.3 367.0h1.0M212.4 367.3h1.0M214.1 381.3h1.0M209.4 381.4h1.0M208.8 372.3h1.0M199.9 374.9h1.0M203.5 386.4h1.0M201.7 375.9h1.0M210.7 384.8h1.0M203.7 371.7h1.0M199.3 367.2h1.0M213.7 390.4h1.0M208.2 387.6h1.0M212.4 378.8h1.0M194.6 368.8h1.0M199.5 387.5h1.0M214.0 378.1h1.0M210.5 380.6h1.0M208.0 376.3h1.0M205.8 381.0h1.0M206.0 389.4h1.0M213.2 387.8h1.0M211.5 372.8h1.0M214.1 372.7h1.0M214.7 386.8h1.0M201.4 374.6h1.0M195.6 379.1h1.0M212.9 375.2h1.0M202.4 370.5h1.0M195.0 385.8h1.0M214.8 371.8h1.0M206.0 378.6h1.0M204.3 385.4h1.0M211.7 390.4h1.0M204.1 379.7h1.0M197.0 390.4h1.0M202.4 375.3h1.0M206.5 373.6h1.0M199.0 378.4h1.0M216.0 379.2h1.0M209.6 368.3h1.0M203.3 367.6h1.0M205.3 386.3h1.0M207.8 373.0h1.0M211.4 389.3h1.0M209.0 377.3h1.0M205.7 375.5h1.0M205.1 383.8h1.0M204.0 389.5h1.0M208.3 388.1h1.0M210.4 378.9h1.0M202.8 389.7h1.0M210.2 385.4h1.0M200.6 386.5h1.0M211.4 379.4h1.0M198.1 369.1h1.0M204.4 385.7h1.0M206.4 370.9h1.0M196.3 376.2h1.0M206.1 373.8h1.0M200.3 379.6h1.0M202.3 375.9h1.0M206.3 378.4h1.0M210.2 370.7h1.0M205.5 387.7h1.0M214.0 385.8h1.0M206.2 367.5h1.0M195.2 389.5h1.0M210.6 386.0h1.0M194.8 362.4h1.0M198.8 370.7h1.0M207.1 372.1h1.0M216.7 375.6h1.0M202.2 388.5h1.0M208.2 373.2h1.0M197.7 378.8h1.0M198.7 364.1h1.0M210.3 387.1h1.0M212.6 384.7h1.0M201.5 370.7h1.0M198.5 387.7h1.0M209.2 364.3h1.0M206.2 370.4h1.0M205.4 364.3h1.0M197.5 366.1h1.0M203.2 369.1h1.0M205.6 384.3h1.0M195.6 370.9h1.0M205.3 387.2h1.0M206.5 384.9h1.0M208.1 373.0h1.0M205.2 377.7h1.0M209.3 374.2h1.0M215.9 381.3h1.0M209.6 386.5h1.0M213.1 384.5h1.0M209.8 385.1h1.0M201.6 375.0h1.0M209.1 370.6h1.0M214.2 382.9h1.0M203.8 382.5h1.0M198.3 370.5h1.0M199.9 376.4h1.0M196.7 380.1h1.0M212.1 379.1h1.0M208.7 380.7h1.0M202.3 381.7h1.0M195.8 384.9h1.0M204.0 371.4h1.0M203.5 385.9h1.0M201.3 385.2h1.0M198.5 380.0h1.0M207.8 387.7h1.0M195.9 375.8h1.0M217.4 378.5h1.0M204.1 366.9h1.0M210.4 383.3h1.0M204.3 368.5h1.0M205.4 389.4h1.0M212.0 380.6h1.0M210.2 382.5h1.0M208.6 371.7h1.0M208.7 383.6h1.0M216.6 372.6h1.0M208.3 384.1h1.0M198.3 376.8h1.0M207.3 387.6h1.0M213.4 379.8h1.0M205.2 372.2h1.0M211.1 365.0h1.0M206.8 382.1h1.0M205.3 381.8h1.0M211.9 367.2h1.0M204.0 381.6h1.0M212.6 373.9h1.0M211.6 384.4h1.0M195.7 367.8h1.0M196.0 382.2h1.0M207.4 387.5h1.0M211.7 376.1h1.0M213.4 388.3h1.0M209.3 385.3h1.0M197.1 384.2h1.0M198.8 370.3h1.0M203.6 382.2h1.0M205.6 378.0h1.0M199.0 382.7h1.0M200.8 368.4h1.0M203.2 371.5h1.0M204.0 379.1h1.0M206.9 389.9h1.0M209.1 364.7h1.0M198.3 370.0h1.0M209.0 382.0h1.0M208.1 381.7h1.0M215.0 375.6h1.0M210.8 377.6h1.0M206.8 382.4h1.0M206.1 376.8h1.0M216.9 378.6h1.0M210.4 390.2h1.0M215.7 390.8h1.0M196.3 380.8h1.0M195.6 372.0h1.0M208.1 382.4h1.0M200.4 378.9h1.0M205.3 381.7h1.0M206.0 379.0h1.0M212.1 366.6h1.0M202.6 382.2h1.0M203.2 376.0h1.0M202.9 382.9h1.0M214.7 379.3h1.0M204.1 384.2h1.0M204.3 363.6h1.0M207.9 377.6h1.0M202.0 386.7h1.0M206.3 375.9h1.0M206.1 379.9h1.0M209.1 383.0h1.0M202.7 369.6h1.0M198.3 379.7h1.0M198.0 387.8h1.0M196.7 364.9h1.0M204.6 365.0h1.0M217.4 372.1h1.0M205.6 378.8h1.0M200.3 365.1h1.0M195.8 386.0h1.0M205.9 388.6h1.0M202.4 387.5h1.0M212.3 386.5h1.0M216.1 379.4h1.0M216.8 374.7h1.0M206.1 373.8h1.0M206.0 390.3h1.0M211.0 381.9h1.0M208.3 362.3h1.0M208.4 370.3h1.0M200.2 389.3h1.0M210.1 379.9h1.0M196.0 378.5h1.0M210.1 384.3h1.0M211.4 381.6h1.0M209.4 389.6h1.0M201.9 368.3h1.0M205.7 366.0h1.0M206.1 387.9h1.0M216.6 383.4h1.0M207.4 387.7h1.0M215.8 378.1h1.0M197.4 373.9h1.0M197.2 373.0h1.0M205.2 384.1h1.0M207.1 381.6h1.0M203.5 384.8h1.0M212.2 387.8h1.0M216.5 378.4h1.0M207.4 384.7h1.0M203.6 389.7h1.0M203.2 371.9h1.0M205.6 377.0h1.0M211.8 377.6h1.0M206.9 379.0h1.0M208.4 375.3h1.0M213.7 368.2h1.0M203.3 374.6h1.0M210.5 381.4h1.0M209.4 378.0h1.0M201.0 370.9h1.0M203.7 376.2h1.0M208.0 384.2h1.0M212.8 380.0h1.0M200.8 371.5h1.0M206.4 384.2h1.0M205.9 389.6h1.0M202.6 380.4h1.0M204.5 389.6h1.0M206.5 374.6h1.0M207.7 386.9h1.0M201.0 386.7h1.0M201.0 373.1h1.0M207.5 378.9h1.0M199.1 366.3h1.0M206.2 383.2h1.0M202.8 382.7h1.0M195.3 384.5h1.0M208.9 383.5h1.0M201.7 381.7h1.0M206.9 390.6h1.0M207.9 383.3h1.0M200.9 388.8h1.0M214.2 376.6h1.0M210.5 383.8h1.0M205.7 369.4h1.0M208.1 377.6h1.0M214.0 377.2h1.0M206.3 386.5h1.0M209.2 376.3h1.0M210.8 384.5h1.0M212.9 376.4h1.0M205.7 377.5h1.0M200.1 383.3h1.0M203.7 384.5h1.0M214.0 380.0h1.0M206.4 382.2h1.0M201.2 372.1h1.0M213.8 382.6h1.0M205.5 369.8h1.0M198.0 373.0h1.0M216.8 376.0h1.0M210.2 374.3h1.0M209.6 377.7h1.0M208.4 378.8h1.0M206.4 383.4h1.0M202.4 382.9h1.0M197.4 388.8h1.0M202.5 376.7h1.0M208.4 375.8h1.0M213.7 381.0h1.0M202.9 389.3h1.0M212.7 382.3h1.0M215.6 381.0h1.0M205.6 390.9h1.0M195.8 375.6h1.0M209.4 386.1h1.0M208.3 384.9h1.0M196.9 379.3h1.0M207.8 379.0h1.0M206.4 386.4h1.0M199.4 375.9h1.0M198.7 365.8h1.0M211.3 379.1h1.0M212.7 377.7h1.0M207.0 382.0h1.0M204.6 388.2h1.0M198.5 386.3h1.0M213.4 367.7h1.0M201.2 372.1h1.0M209.9 385.5h1.0M200.9 371.0h1.0M210.7 362.7h1.0M210.5 379.6h1.0M202.0 378.6h1.0M204.1 374.5h1.0M206.6 389.6h1.0M195.6 379.0h1.0M216.3 387.6h1.0M200.4 373.8h1.0M200.1 366.8h1.0M213.9 381.6h1.0M201.2 368.3h1.0M203.4 376.5h1.0M206.8 390.5h1.0M210.6 379.4h1.0M210.1 377.2h1.0M205.4 372.5h1.0M199.8 367.9h1.0M209.5 385.6h1.0M207.2 387.9h1.0M209.7 382.1h1.0M199.9 386.2h1.0M214.2 386.6h1.0M214.6 376.8h1.0M202.0 383.1h1.0M204.7 381.2h1.0M204.1 376.2h1.0M207.4 364.0h1.0M199.8 371.1h1.0M204.3 387.6h1.0M210.1 370.0h1.0M214.4 366.1h1.0M202.1 377.8h1.0M214.6 382.0h1.0M205.1 373.9h1.0M206.6 381.4h1.0M211.1 381.2h1.0M207.4 380.9h1.0M209.9 380.0h1.0M201.7 390.4h1.0M202.9 389.5h1.0M200.6 381.9h1.0M208.8 382.3h1.0M207.6 384.4h1.0M198.3 371.2h1.0M205.1 372.8h1.0M201.5 381.3h1.0M214.1 376.0h1.0M209.8 382.6h1.0M203.6 372.7h1.0M205.0 374.6h1.0M209.7 365.5h1.0M213.7 387.7h1.0M210.1 366.0h1.0M206.4 385.0h1.0M201.3 371.1h1.0M209.0 385.5h1.0M203.1 378.9h1.0M202.5 376.0h1.0M205.6 390.4h1.0M195.0 378.0h1.0M217.0 383.8h1.0M207.1 388.3h1.0M199.1 370.4h1.0M194.7 368.2h1.0M207.7 388.5h1.0M203.2 375.0h1.0M208.8 386.4h1.0M207.8 364.3h1.0M207.7 373.6h1.0M215.0 385.2h1.0M207.9 382.5h1.0M202.0 380.6h1.0M201.5 382.4h1.0M212.1 388.3h1.0M199.4 379.9h1.0M204.2 370.2h1.0M206.5 376.8h1.0M212.3 384.8h1.0M200.7 381.7h1.0M203.6 375.4h1.0M202.7 390.3h1.0M203.2 366.0h1.0M200.7 388.1h1.0M203.6 378.1h1.0M196.4 384.5h1.0M205.7 383.4h1.0M211.4 388.3h1.0M201.7 375.8h1.0M216.6 387.3h1.0M207.0 371.4h1.0M212.0 385.6h1.0M211.5 383.3h1.0M206.4 376.2h1.0M208.1 383.1h1.0M210.4 390.5h1.0M208.1 376.3h1.0M200.3 384.7h1.0M209.7 385.7h1.0M209.4 380.2h1.0M201.4 376.5h1.0M195.2 384.1h1.0M205.6 376.3h1.0M203.2 386.8h1.0M210.0 380.7h1.0M209.8 374.7h1.0M203.5 385.9h1.0M194.7 389.2h1.0M212.0 372.1h1.0M211.9 378.6h1.0M213.5 367.4h1.0M205.3 389.5h1.0M201.4 387.0h1.0M203.6 384.0h1.0M197.6 387.8h1.0M214.9 371.2h1.0M204.4 366.1h1.0M208.1 374.7h1.0M202.2 373.7h1.0M208.0 376.9h1.0M199.9 379.0h1.0M208.8 373.5h1.0M213.6 366.5h1.0M208.8 377.6h1.0M216.7 375.4h1.0M201.5 369.3h1.0M198.6 378.1h1.0M208.8 363.2h1.0M207.4 389.0h1.0M206.0 385.1h1.0M205.3 382.8h1.0M207.4 374.8h1.0M208.4 382.4h1.0M205.7 375.0h1.0M199.1 383.2h1.0M212.2 374.8h1.0M215.2 372.4h1.0M203.0 379.1h1.0M194.8 372.2h1.0M198.0 379.8h1.0M203.6 375.7h1.0M201.7 387.5h1.0M216.4 377.4h1.0M215.1 383.6h1.0M195.9 386.9h1.0M203.2 382.7h1.0M207.6 372.8h1.0M207.6 375.0h1.0M199.7 384.6h1.0M207.8 388.3h1.0M195.6 381.0h1.0M215.0 381.0h1.0M207.2 375.5h1.0M213.5 374.9h1.0M206.8 362.9h1.0M206.4 382.9h1.0M202.4 379.2h1.0M197.4 369.1h1.0M197.6 386.6h1.0M205.7 388.2h1.0M198.6 386.2h1.0M203.0 381.8h1.0M212.4 381.3h1.0M203.6 366.4h1.0M206.4 387.9h1.0M201.7 380.4h1.0M203.9 366.3h1.0M203.4 367.2h1.0M208.1 379.7h1.0M213.1 377.7h1.0M208.3 382.8h1.0M209.1 368.0h1.0M210.9 388.8h1.0M206.1 387.0h1.0M209.8 388.8h1.0M201.6 375.8h1.0M208.6 386.4h1.0M209.9 384.0h1.0M202.7 390.8h1.0M209.2 390.4h1.0M201.4 382.1h1.0M202.7 378.3h1.0M207.3 384.1h1.0M200.6 385.8h1.0M200.2 384.8h1.0M203.5 372.6h1.0M205.3 380.6h1.0M212.6 369.2h1.0M212.2 376.6h1.0M200.6 384.1h1.0M196.3 376.6h1.0M210.1 387.8h1.0M213.4 368.2h1.0M197.1 373.7h1.0M199.2 378.2h1.0M207.4 385.1h1.0M216.1 371.3h1.0M212.1 382.3h1.0M197.9 382.3h1.0M200.9 390.0h1.0M215.0 375.5h1.0M199.8 382.2h1.0M198.7 389.0h1.0M207.2 374.2h1.0M201.2 387.5h1.0M200.5 379.2h1.0M210.5 381.8h1.0M209.0 386.2h1.0M211.1 383.5h1.0M204.8 366.7h1.0M201.8 383.4h1.0M205.8 363.2h1.0M203.7 383.6h1.0M214.2 370.2h1.0M208.3 381.7h1.0M207.0 382.3h1.0M203.4 368.7h1.0M209.2 384.5h1.0M199.6 384.6h1.0M205.9 387.5h1.0M204.8 375.6h1.0" stroke="#000" stroke-width="1.0" stroke-opacity="1" fill="none"/>
<path d="M207.0 327.9h1.0M199.7 332.2h1.0M212.4 327.4h1.0M204.8 323.7h1.0M195.6 328.6h1.0M199.7 322.2h1.0M211.5 319.9h1.0M202.4 329.7h1.0M216.6 321.2h1.0M212.1 321.4h1.0M207.8 327.7h1.0M198.7 330.6h1.0M216.3 325.3h1.0M207.1 318.6h1.0M216.2 325.3h1.0M197.8 329.2h1.0M196.7 321.2h1.0M201.6 321.8h1.0M202.1 328.0h1.0M214.3 319.5h1.0M208.1 315.1h1.0M214.6 324.5h1.0M201.3 333.4h1.0M204.9 332.5h1.0M211.9 334.1h1.0M200.7 325.3h1.0M207.7 323.9h1.0M214.6 321.1h1.0M211.5 332.5h1.0M200.1 322.0h1.0M207.8 324.0h1.0M206.0 322.5h1.0M205.0 327.7h1.0M210.0 320.7h1.0M204.8 320.8h1.0M204.4 317.1h1.0M211.2 328.7h1.0M204.8 321.2h1.0M202.8 321.3h1.0M196.2 334.0h1.0M198.5 328.2h1.0M209.1 316.3h1.0M202.5 325.5h1.0M205.5 321.9h1.0M204.6 323.4h1.0M213.0 324.5h1.0M205.3 322.1h1.0M201.7 320.9h1.0M205.6 335.1h1.0M212.2 326.3h1.0M215.5 330.6h1.0M206.7 324.1h1.0M198.9 326.4h1.0M203.6 316.3h1.0M197.8 335.6h1.0M206.8 327.7h1.0M206.7 322.4h1.0M208.3 331.0h1.0M203.6 327.8h1.0M211.7 322.3h1.0M206.5 320.9h1.0M209.1 323.0h1.0M212.4 320.8h1.0M215.6 323.3h1.0M200.5 320.0h1.0M209.5 320.3h1.0M216.3 332.1h1.0M208.6 317.2h1.0M205.4 321.0h1.0M194.6 327.3h1.0M210.4 332.1h1.0M199.7 323.1h1.0M207.1 327.6h1.0M198.6 326.2h1.0M204.9 330.2h1.0M195.9 321.9h1.0M202.5 323.3h1.0M209.8 321.5h1.0M210.5 330.6h1.0M211.3 323.9h1.0M200.5 323.6h1.0M209.5 325.7h1.0M209.0 328.2h1.0M200.2 319.9h1.0M214.1 322.3h1.0M196.0 335.2h1.0M200.5 319.9h1.0M211.3 318.8h1.0M200.3 330.8h1.0M200.6 338.8h1.0M206.1 339.8h1.0M206.3 325.3h1.0M201.7 323.8h1.0M202.5 324.9h1.0M210.1 318.0h1.0M214.5 324.6h1.0M205.4 324.7h1.0M211.5 326.8h1.0M210.6 324.1h1.0M204.8 324.7h1.0M196.0 319.5h1.0M209.5 325.3h1.0M210.4 334.4h1.0M216.7 332.6h1.0M204.1 336.3h1.0M200.2 324.5h1.0M211.5 323.8h1.0M204.8 323.1h1.0M213.1 330.8h1.0M205.1 328.1h1.0M199.7 331.1h1.0M213.9 324.7h1.0M203.5 322.3h1.0M204.4 318.1h1.0M197.4 334.1h1.0M205.4 328.0h1.0M207.4 327.6h1.0M196.3 319.8h1.0M209.3 330.5h1.0M198.6 321.8h1.0M199.1 328.6h1.0M207.6 325.2h1.0M201.6 326.9h1.0M205.7 320.9h1.0M207.5 321.3h1.0M211.2 328.4h1.0M201.4 328.2h1.0M205.9 321.1h1.0M200.0 315.9h1.0M198.7 326.9h1.0M212.7 321.5h1.0M206.5 326.9h1.0M210.2 327.4h1.0M212.9 329.2h1.0M200.9 327.2h1.0M205.6 328.2h1.0M203.7 329.6h1.0M213.4 320.4h1.0M202.2 326.4h1.0M208.4 325.8h1.0M210.5 318.5h1.0M210.2 331.4h1.0M212.2 327.3h1.0M204.1 327.2h1.0M205.1 316.3h1.0M201.9 324.8h1.0M202.4 319.9h1.0M204.1 323.0h1.0M205.9 324.7h1.0M206.5 330.5h1.0M206.3 327.2h1.0M203.1 328.7h1.0M203.5 321.6h1.0M198.1 329.9h1.0M202.3 326.3h1.0M212.3 327.9h1.0M211.2 328.8h1.0M201.6 325.3h1.0M202.1 319.4h1.0M207.3 320.7h1.0M215.6 320.9h1.0M202.2 325.5h1.0M202.4 325.3h1.0M201.9 317.2h1.0M214.6 327.4h1.0M206.4 322.4h1.0M204.6 326.6h1.0M197.2 320.6h1.0M200.2 331.9h1.0M199.2 331.4h1.0M202.7 340.0h1.0M205.0 325.2h1.0M213.6 329.8h1.0M211.1 319.1h1.0M212.3 334.2h1.0M204.9 322.3h1.0M199.0 330.6h1.0M207.3 325.0h1.0M198.1 333.9h1.0M210.8 324.9h1.0M214.4 319.8h1.0M210.8 319.5h1.0M214.0 323.5h1.0M212.8 322.7h1.0M207.9 331.3h1.0M200.1 325.5h1.0M200.5 329.7h1.0M201.9 322.9h1.0M204.3 331.4h1.0M199.3 324.9h1.0M203.5 322.0h1.0M200.8 324.1h1.0M206.7 316.5h1.0M206.9 318.5h1.0M205.6 337.5h1.0M199.7 324.6h1.0M204.0 330.4h1.0M202.7 315.2h1.0M195.8 326.0h1.0M207.0 330.9h1.0M202.3 328.7h1.0M199.1 332.1h1.0M205.1 321.3h1.0M206.6 334.6h1.0M200.4 318.2h1.0M199.4 318.6h1.0M205.2 326.9h1.0M204.5 326.1h1.0M212.6 323.4h1.0M207.0 321.3h1.0M204.0 327.3h1.0M208.3 316.4h1.0M199.8 325.4h1.0M204.6 331.3h1.0M212.5 316.0h1.0M199.7 327.1h1.0M199.1 338.7h1.0M206.9 327.9h1.0M202.9 337.2h1.0M208.7 321.1h1.0M213.0 315.7h1.0M202.0 326.6h1.0M206.3 319.7h1.0M215.0 333.1h1.0M199.9 327.1h1.0M201.7 322.6h1.0M211.4 325.7h1.0M204.8 325.6h1.0M198.5 331.7h1.0M201.0 332.2h1.0M202.8 322.5h1.0M214.4 326.1h1.0M201.7 322.1h1.0M209.1 335.3h1.0M209.2 322.8h1.0M198.8 321.3h1.0M204.8 326.3h1.0M201.6 332.0h1.0M199.8 321.1h1.0M208.5 327.6h1.0M203.2 330.3h1.0M197.1 334.0h1.0M206.2 335.8h1.0M205.8 332.3h1.0M204.3 326.1h1.0M208.6 315.4h1.0M204.3 334.4h1.0M211.0 326.8h1.0M206.7 332.6h1.0M207.5 314.6h1.0M199.8 323.4h1.0M206.4 322.5h1.0M204.9 334.2h1.0M211.1 328.3h1.0M205.6 325.4h1.0M207.7 326.3h1.0M201.2 329.3h1.0M200.5 324.8h1.0M203.4 318.7h1.0M209.1 324.6h1.0M198.5 324.6h1.0M197.2 332.9h1.0M208.6 335.9h1.0M202.1 328.9h1.0M199.7 320.3h1.0M205.0 327.3h1.0M211.0 323.5h1.0M212.1 330.3h1.0M200.3 324.0h1.0M200.0 334.4h1.0M202.2 329.9h1.0M211.0 323.6h1.0M202.6 326.9h1.0M200.9 318.1h1.0M199.7 326.9h1.0M206.6 334.7h1.0M194.6 327.8h1.0M198.6 331.3h1.0M209.7 325.7h1.0M214.3 323.0h1.0M202.3 319.2h1.0M201.6 325.6h1.0M209.5 332.0h1.0M203.9 321.0h1.0M203.5 322.7h1.0M202.7 322.8h1.0M200.3 324.7h1.0M202.4 324.1h1.0M197.2 325.8h1.0M208.9 328.5h1.0M202.2 318.8h1.0M197.7 318.6h1.0M201.7 323.3h1.0M194.9 328.7h1.0M196.3 321.3h1.0M201.2 329.5h1.0M216.5 323.1h1.0M203.9 322.9h1.0M204.3 324.1h1.0M204.9 320.7h1.0M207.6 322.2h1.0M208.9 319.1h1.0M195.0 328.8h1.0M202.7 318.7h1.0M208.1 322.2h1.0M209.9 322.0h1.0M210.9 325.8h1.0M207.6 325.9h1.0M203.3 323.0h1.0M208.2 328.9h1.0M203.1 337.2h1.0M215.5 318.8h1.0M211.9 324.6h1.0M206.9 320.7h1.0M215.3 320.5h1.0M205.0 321.1h1.0M217.0 331.8h1.0M197.7 322.6h1.0M207.7 322.7h1.0M203.4 319.2h1.0M207.0 319.1h1.0M210.4 338.0h1.0M203.6 333.9h1.0M207.7 321.4h1.0M203.5 319.8h1.0M206.2 328.8h1.0M211.0 323.5h1.0M198.4 324.6h1.0M215.4 326.5h1.0M202.9 328.0h1.0M199.9 332.3h1.0M202.2 320.3h1.0M202.1 324.5h1.0M211.4 322.0h1.0M195.0 324.6h1.0M208.6 333.3h1.0M198.9 333.0h1.0M209.5 327.5h1.0M201.0 320.2h1.0M199.9 330.1h1.0M206.8 330.8h1.0M216.2 325.1h1.0M205.2 335.4h1.0M197.8 322.6h1.0M203.3 323.0h1.0M206.3 320.5h1.0M212.4 317.7h1.0M200.7 315.9h1.0M197.2 328.2h1.0M209.2 324.0h1.0M210.5 328.4h1.0M202.1 324.8h1.0M207.7 335.9h1.0M202.9 327.0h1.0M208.7 331.6h1.0M208.0 330.8h1.0M199.2 323.6h1.0M206.0 326.5h1.0M206.4 317.9h1.0M201.4 324.1h1.0M206.5 320.4h1.0M204.9 321.1h1.0M197.7 321.5h1.0M200.8 329.5h1.0M213.4 328.1h1.0M204.3 322.0h1.0M196.2 322.2h1.0M214.7 331.2h1.0M206.8 323.7h1.0M205.5 327.3h1.0M205.5 327.3h1.0M201.0 325.3h1.0M203.4 330.8h1.0M198.2 332.0h1.0M205.0 322.3h1.0M205.6 325.7h1.0M204.1 327.3h1.0M202.1 315.9h1.0M209.6 324.9h1.0M215.3 327.1h1.0M201.4 328.0h1.0M199.1 324.5h1.0M196.0 328.6h1.0M208.8 319.5h1.0M208.2 330.1h1.0M210.3 321.4h1.0M201.4 319.0h1.0M197.9 326.7h1.0M205.7 332.0h1.0M207.1 323.3h1.0M197.1 333.3h1.0M206.5 324.9h1.0M199.6 319.4h1.0M209.2 319.8h1.0M208.9 328.4h1.0M203.3 316.4h1.0M207.9 332.6h1.0M200.6 318.3h1.0M211.9 325.8h1.0M201.8 331.6h1.0M203.9 327.5h1.0M203.1 321.0h1.0M206.8 320.5h1.0M195.0 322.2h1.0M212.8 330.9h1.0M215.0 326.4h1.0M202.9 327.5h1.0M199.9 329.0h1.0M202.9 326.4h1.0M200.5 324.3h1.0M211.3 323.9h1.0M201.5 326.6h1.0M210.7 324.1h1.0M198.6 316.7h1.0M197.6 330.7h1.0M205.0 327.6h1.0M211.8 326.6h1.0M208.3 322.4h1.0M196.0 328.4h1.0M204.9 328.1h1.0M199.2 324.3h1.0M217.4 320.6h1.0M206.1 332.0h1.0M204.1 325.7h1.0M202.9 331.9h1.0M205.0 323.1h1.0M208.1 323.8h1.0M202.5 333.3h1.0M211.3 325.6h1.0M210.3 329.4h1.0M208.9 325.3h1.0M205.9 327.2h1.0M208.8 326.9h1.0M202.3 324.7h1.0M208.2 319.8h1.0M205.4 329.1h1.0M206.5 323.6h1.0M205.4 322.5h1.0M211.3 323.1h1.0M195.7 318.7h1.0M207.3 326.2h1.0M202.7 318.1h1.0M204.6 320.6h1.0M201.6 325.1h1.0M201.0 326.7h1.0M201.2 322.6h1.0M204.2 332.8h1.0M214.8 330.1h1.0M201.2 325.1h1.0M210.9 329.3h1.0M195.9 324.8h1.0M201.2 329.0h1.0M209.2 322.3h1.0M205.0 335.1h1.0M202.4 322.6h1.0M214.2 324.9h1.0M208.3 318.5h1.0M216.0 330.3h1.0M207.6 328.8h1.0M202.6 322.6h1.0M196.3 327.0h1.0M212.8 329.6h1.0M210.9 328.8h1.0M200.1 318.2h1.0M209.3 326.0h1.0M211.3 323.6h1.0M200.3 327.4h1.0M202.2 316.5h1.0M201.9 320.5h1.0M199.0 322.2h1.0M211.1 337.4h1.0M215.6 322.9h1.0M212.2 324.7h1.0M207.9 321.5h1.0M205.1 316.3h1.0M216.0 321.1h1.0M208.9 322.0h1.0M207.1 318.9h1.0M203.3 329.9h1.0M209.0 314.9h1.0" stroke="#000" stroke-width="1.0" stroke-opacity="1" fill="none"/>
<path d="M211.8 334.9h1.0M208.0 350.6h1.0M201.6 343.4h1.0M204.3 349.6h1.0M212.3 357.8h1.0M204.2 352.7h1.0M205.1 346.9h1.0M199.7 349.5h1.0M205.9 346.2h1.0M210.9 344.4h1.0M206.0 348.0h1.0M214.9 354.3h1.0M198.8 340.7h1.0M206.1 353.4h1.0M212.6 344.4h1.0M215.6 358.3h1.0M216.9 347.9h1.0M209.9 333.1h1.0M210.9 355.2h1.0M205.3 355.0h1.0M210.0 359.2h1.0M195.1 339.1h1.0M199.4 337.2h1.0M217.3 338.2h1.0M200.3 342.7h1.0M212.1 342.2h1.0M211.0 350.9h1.0M201.6 325.9h1.0M199.7 335.5h1.0M217.2 340.0h1.0M198.7 349.4h1.0M206.4 338.1h1.0M213.5 354.0h1.0M207.9 339.7h1.0M200.0 328.6h1.0M208.6 349.5h1.0M199.7 346.4h1.0M203.1 341.9h1.0M210.3 345.0h1.0M212.8 350.5h1.0M214.0 347.2h1.0M207.7 334.3h1.0M206.5 353.7h1.0M199.0 346.5h1.0M200.9 337.5h1.0M201.8 357.0h1.0M210.7 345.9h1.0M205.4 347.2h1.0M208.0 347.7h1.0M200.1 323.8h1.0M210.8 335.8h1.0M205.0 345.3h1.0M201.9 350.7h1.0M204.1 343.7h1.0M199.4 343.7h1.0M198.9 346.5h1.0M215.1 354.7h1.0M208.9 334.4h1.0M213.1 354.1h1.0M206.1 343.2h1.0M213.5 336.8h1.0M212.8 329.0h1.0M206.1 357.8h1.0M201.8 351.2h1.0M206.7 333.6h1.0M201.7 355.8h1.0M214.2 340.9h1.0M213.7 340.0h1.0M207.7 345.9h1.0M197.4 348.8h1.0M203.3 322.6h1.0M200.3 338.8h1.0M200.3 337.7h1.0M201.3 325.1h1.0M212.1 346.7h1.0M207.8 343.8h1.0M206.4 343.8h1.0M198.5 333.0h1.0M206.5 354.8h1.0M207.6 359.9h1.0M196.6 343.8h1.0M201.7 356.6h1.0M217.7 341.6h1.0M211.0 344.0h1.0M199.1 345.1h1.0M198.8 359.4h1.0M210.1 356.3h1.0M208.5 325.2h1.0M211.5 346.8h1.0M213.0 360.7h1.0M199.0 352.8h1.0M208.3 344.6h1.0M204.0 350.6h1.0M210.0 351.7h1.0M203.2 334.7h1.0M215.1 357.2h1.0M202.1 345.8h1.0M211.6 330.9h1.0M207.9 340.0h1.0M207.5 342.4h1.0M207.2 330.6h1.0M197.2 333.3h1.0M212.2 345.2h1.0M213.9 328.5h1.0M201.9 358.6h1.0M200.5 330.0h1.0M200.9 343.1h1.0M205.9 357.3h1.0M215.1 359.4h1.0M210.0 341.7h1.0M202.6 333.3h1.0M214.8 356.8h1.0M206.6 338.3h1.0M210.6 350.2h1.0M207.1 336.0h1.0M207.6 341.1h1.0M211.1 351.2h1.0M209.0 342.3h1.0M216.5 352.7h1.0M214.7 353.3h1.0M210.6 349.4h1.0M198.6 330.3h1.0M199.6 351.3h1.0M212.3 347.6h1.0M203.3 330.6h1.0M195.4 343.2h1.0M210.8 352.4h1.0M204.5 353.1h1.0M205.7 339.8h1.0M203.4 352.5h1.0M212.6 336.3h1.0M199.2 347.1h1.0M197.4 349.6h1.0M209.5 340.7h1.0M205.8 350.2h1.0M210.1 354.0h1.0M214.0 345.4h1.0M196.1 357.6h1.0M211.3 340.5h1.0M213.1 355.0h1.0M205.0 325.6h1.0M202.8 339.5h1.0M200.3 345.3h1.0M198.6 349.4h1.0M213.1 341.4h1.0M209.7 344.9h1.0M214.8 339.9h1.0M211.0 339.3h1.0M207.6 345.9h1.0M213.5 332.4h1.0M196.7 358.0h1.0M208.6 360.6h1.0M198.9 347.8h1.0M205.6 342.1h1.0M210.9 345.1h1.0M200.9 352.6h1.0M215.3 341.7h1.0M203.8 349.2h1.0M213.7 350.6h1.0M199.4 341.1h1.0M213.2 345.0h1.0M201.7 353.5h1.0M198.6 339.9h1.0M201.3 349.1h1.0M202.7 355.6h1.0M201.6 343.6h1.0M209.9 347.8h1.0M199.1 359.0h1.0M209.9 341.8h1.0M207.4 336.5h1.0M197.6 343.4h1.0M208.5 346.9h1.0M200.7 334.0h1.0M194.5 359.8h1.0M208.5 339.1h1.0M214.1 350.7h1.0M203.2 340.7h1.0M213.8 348.8h1.0M217.2 349.1h1.0M202.0 340.8h1.0M201.2 348.2h1.0M207.7 351.2h1.0M209.1 336.9h1.0M204.6 337.9h1.0M209.3 334.6h1.0M202.0 338.6h1.0M201.8 343.8h1.0M216.3 343.8h1.0M196.2 343.4h1.0M211.1 350.8h1.0M213.6 346.8h1.0M214.3 334.4h1.0M204.8 338.5h1.0M207.2 360.0h1.0M202.6 359.8h1.0M199.0 358.3h1.0M212.8 345.2h1.0M207.0 345.9h1.0M207.2 344.5h1.0M199.3 343.5h1.0M206.8 338.2h1.0M194.8 341.3h1.0M204.1 346.2h1.0M206.7 339.7h1.0M205.8 346.1h1.0M205.4 359.3h1.0M206.9 333.2h1.0M195.3 351.1h1.0M203.7 340.7h1.0M196.8 343.3h1.0M205.4 340.1h1.0M203.6 353.7h1.0M211.3 350.7h1.0M204.8 334.3h1.0M211.3 358.9h1.0M214.7 356.1h1.0M207.9 349.2h1.0M205.9 356.8h1.0M211.3 343.2h1.0M206.0 332.1h1.0M201.0 343.4h1.0M212.2 346.7h1.0M204.0 351.4h1.0M205.6 347.4h1.0M210.5 341.8h1.0M206.8 350.4h1.0M203.6 349.4h1.0M208.3 352.2h1.0M199.3 341.4h1.0M203.1 356.3h1.0M207.7 331.7h1.0M208.3 334.8h1.0M199.8 347.2h1.0M215.7 360.0h1.0M203.5 343.4h1.0M216.6 348.9h1.0M206.6 357.1h1.0M209.3 338.8h1.0M195.6 346.1h1.0M209.5 357.8h1.0M210.2 359.1h1.0M211.4 347.8h1.0M208.9 349.4h1.0M201.7 345.0h1.0M206.9 342.1h1.0M196.0 333.5h1.0M209.4 350.5h1.0M206.7 335.9h1.0M211.8 342.6h1.0M209.6 342.2h1.0M216.1 357.8h1.0M207.8 331.2h1.0M203.4 343.6h1.0M209.1 344.9h1.0M208.3 331.9h1.0M201.6 358.5h1.0M196.1 354.0h1.0M196.6 356.8h1.0M203.2 356.7h1.0M214.0 347.6h1.0M202.8 337.5h1.0M208.8 345.0h1.0M202.8 332.1h1.0M205.0 345.0h1.0M212.7 341.5h1.0M195.4 336.7h1.0M205.7 348.2h1.0M210.9 342.7h1.0M209.7 347.2h1.0M217.5 345.5h1.0M207.0 350.9h1.0M214.3 338.0h1.0M202.8 343.6h1.0M213.3 346.2h1.0M212.2 333.7h1.0M216.4 349.6h1.0M197.9 346.5h1.0M211.1 354.5h1.0M207.2 341.5h1.0M211.2 339.4h1.0M205.5 352.6h1.0M196.2 349.3h1.0M197.6 345.2h1.0M210.9 345.6h1.0M212.2 346.8h1.0M204.6 350.3h1.0M204.4 347.2h1.0M213.1 341.1h1.0M213.8 336.4h1.0M204.5 330.9h1.0M202.4 359.8h1.0M208.4 357.0h1.0M196.0 337.2h1.0M209.2 353.2h1.0M211.7 331.5h1.0M209.5 345.4h1.0M206.8 350.1h1.0M204.1 331.3h1.0M198.7 333.4h1.0M197.0 344.8h1.0M214.9 339.8h1.0M200.8 336.0h1.0M202.7 343.9h1.0M199.5 350.2h1.0M197.8 350.8h1.0M201.5 352.8h1.0M200.0 349.8h1.0M209.0 345.3h1.0M217.1 347.5h1.0M200.0 352.0h1.0M200.4 341.3h1.0M206.1 347.6h1.0M217.6 330.8h1.0M204.2 355.8h1.0M204.9 348.8h1.0M216.4 335.3h1.0M206.3 352.9h1.0M202.0 330.8h1.0M199.2 347.7h1.0M215.0 332.6h1.0M213.1 354.0h1.0M217.0 344.7h1.0M202.2 347.3h1.0M216.5 351.4h1.0M217.6 352.8h1.0M202.0 337.2h1.0M203.6 343.2h1.0M199.8 341.0h1.0M205.6 341.4h1.0M206.8 354.2h1.0M200.4 342.5h1.0M210.6 359.1h1.0M212.0 343.6h1.0M203.3 343.3h1.0M197.7 352.7h1.0M201.9 339.7h1.0M209.5 347.0h1.0M202.0 344.0h1.0M202.6 357.7h1.0M212.8 339.7h1.0M205.7 357.9h1.0M209.0 351.8h1.0M208.3 351.1h1.0M209.3 350.6h1.0M202.5 353.8h1.0M206.4 336.9h1.0M199.1 347.4h1.0M208.3 326.8h1.0M195.5 343.8h1.0M201.9 350.9h1.0M215.6 360.1h1.0M199.1 356.8h1.0M197.7 348.7h1.0M207.2 351.4h1.0M200.5 357.7h1.0M205.5 345.8h1.0M204.2 336.7h1.0M210.9 348.9h1.0M200.1 343.5h1.0M206.1 353.5h1.0M204.8 354.2h1.0M209.1 330.7h1.0M201.3 328.3h1.0M204.0 342.4h1.0M210.0 347.5h1.0M205.6 357.0h1.0M210.1 335.3h1.0M201.3 348.9h1.0M217.6 344.3h1.0M204.8 348.3h1.0M211.3 345.2h1.0M208.0 342.3h1.0M202.2 339.1h1.0M210.5 341.1h1.0M209.8 349.5h1.0M212.7 322.6h1.0M199.4 335.3h1.0M204.9 353.0h1.0M215.3 349.3h1.0M203.4 350.7h1.0" stroke="#000" stroke-width="1.0" stroke-opacity="1" fill="none"/>
<rect x="160.60" y="286.60" width="104.40" height="104.70" fill="none" stroke="#000" stroke-width="1.3"/>
<line x1="157.4" y1="391.3" x2="160.6" y2="391.3" stroke="#000" stroke-width="0.8" />
<line x1="160.6" y1="391.3" x2="160.6" y2="394.5" stroke="#000" stroke-width="0.8" />
<line x1="158.79999999999998" y1="383.4205398634953" x2="160.6" y2="383.4205398634953" stroke="#000" stroke-width="0.8" />
<line x1="168.4568828868299" y1="391.3" x2="168.4568828868299" y2="393.1" stroke="#000" stroke-width="0.8" />
<line x1="158.79999999999998" y1="378.81135115771286" x2="160.6" y2="378.81135115771286" stroke="#000" stroke-width="0.8" />
<line x1="173.0528647481832" y1="391.3" x2="173.0528647481832" y2="393.1" stroke="#000" stroke-width="0.8" />
<line x1="158.79999999999998" y1="375.5410797269906" x2="160.6" y2="375.5410797269906" stroke="#000" stroke-width="0.8" />
<line x1="176.3137657736598" y1="391.3" x2="176.3137657736598" y2="393.1" stroke="#000" stroke-width="0.8" />
<line x1="158.79999999999998" y1="373.0044601365047" x2="160.6" y2="373.0044601365047" stroke="#000" stroke-width="0.8" />
<line x1="178.84311711317008" y1="391.3" x2="178.84311711317008" y2="393.1" stroke="#000" stroke-width="0.8" />
<line x1="158.79999999999998" y1="370.9318910212081" x2="160.6" y2="370.9318910212081" stroke="#000" stroke-width="0.8" />
<line x1="180.9097476350131" y1="391.3" x2="180.9097476350131" y2="393.1" stroke="#000" stroke-width="0.8" />
<line x1="158.79999999999998" y1="369.17955880262684" x2="160.6" y2="369.17955880262684" stroke="#000" stroke-width="0.8" />
<line x1="182.6570588443721" y1="391.3" x2="182.6570588443721" y2="393.1" stroke="#000" stroke-width="0.8" />
<line x1="158.79999999999998" y1="367.6616195904859" x2="160.6" y2="367.6616195904859" stroke="#000" stroke-width="0.8" />
<line x1="184.17064866048972" y1="391.3" x2="184.17064866048972" y2="393.1" stroke="#000" stroke-width="0.8" />
<line x1="158.79999999999998" y1="366.32270231542566" x2="160.6" y2="366.32270231542566" stroke="#000" stroke-width="0.8" />
<line x1="185.50572949636637" y1="391.3" x2="185.50572949636637" y2="393.1" stroke="#000" stroke-width="0.8" />
<line x1="157.4" y1="365.125" x2="160.6" y2="365.125" stroke="#000" stroke-width="0.8" />
<line x1="186.7" y1="391.3" x2="186.7" y2="394.5" stroke="#000" stroke-width="0.8" />
<line x1="158.79999999999998" y1="357.2455398634953" x2="160.6" y2="357.2455398634953" stroke="#000" stroke-width="0.8" />
<line x1="194.5568828868299" y1="391.3" x2="194.5568828868299" y2="393.1" stroke="#000" stroke-width="0.8" />
<line x1="158.79999999999998" y1="352.63635115771285" x2="160.6" y2="352.63635115771285" stroke="#000" stroke-width="0.8" />
<line x1="199.1528647481832" y1="391.3" x2="199.1528647481832" y2="393.1" stroke="#000" stroke-width="0.8" />
<line x1="158.79999999999998" y1="349.3660797269906" x2="160.6" y2="349.3660797269906" stroke="#000" stroke-width="0.8" />
<line x1="202.4137657736598" y1="391.3" x2="202.4137657736598" y2="393.1" stroke="#000" stroke-width="0.8" />
<line x1="158.79999999999998" y1="346.82946013650474" x2="160.6" y2="346.82946013650474" stroke="#000" stroke-width="0.8" />
<line x1="204.9431171131701" y1="391.3" x2="204.9431171131701" y2="393.1" stroke="#000" stroke-width="0.8" />
<line x1="158.79999999999998" y1="344.75689102120816" x2="160.6" y2="344.75689102120816" stroke="#000" stroke-width="0.8" />
<line x1="207.0097476350131" y1="391.3" x2="207.0097476350131" y2="393.1" stroke="#000" stroke-width="0.8" />
<line x1="158.79999999999998" y1="343.00455880262683" x2="160.6" y2="343.00455880262683" stroke="#000" stroke-width="0.8" />
<line x1="208.7570588443721" y1="391.3" x2="208.7570588443721" y2="393.1" stroke="#000" stroke-width="0.8" />
<line x1="158.79999999999998" y1="341.4866195904859" x2="160.6" y2="341.4866195904859" stroke="#000" stroke-width="0.8" />
<line x1="210.2706486604897" y1="391.3" x2="210.2706486604897" y2="393.1" stroke="#000" stroke-width="0.8" />
<line x1="158.79999999999998" y1="340.1477023154257" x2="160.6" y2="340.1477023154257" stroke="#000" stroke-width="0.8" />
<line x1="211.60572949636637" y1="391.3" x2="211.60572949636637" y2="393.1" stroke="#000" stroke-width="0.8" />
<line x1="157.4" y1="338.95000000000005" x2="160.6" y2="338.95000000000005" stroke="#000" stroke-width="0.8" />
<line x1="212.8" y1="391.3" x2="212.8" y2="394.5" stroke="#000" stroke-width="0.8" />
<line x1="158.79999999999998" y1="331.0705398634953" x2="160.6" y2="331.0705398634953" stroke="#000" stroke-width="0.8" />
<line x1="220.65688288682992" y1="391.3" x2="220.65688288682992" y2="393.1" stroke="#000" stroke-width="0.8" />
<line x1="158.79999999999998" y1="326.46135115771284" x2="160.6" y2="326.46135115771284" stroke="#000" stroke-width="0.8" />
<line x1="225.25286474818319" y1="391.3" x2="225.25286474818319" y2="393.1" stroke="#000" stroke-width="0.8" />
<line x1="158.79999999999998" y1="323.1910797269906" x2="160.6" y2="323.1910797269906" stroke="#000" stroke-width="0.8" />
<line x1="228.51376577365983" y1="391.3" x2="228.51376577365983" y2="393.1" stroke="#000" stroke-width="0.8" />
<line x1="158.79999999999998" y1="320.6544601365047" x2="160.6" y2="320.6544601365047" stroke="#000" stroke-width="0.8" />
<line x1="231.04311711317007" y1="391.3" x2="231.04311711317007" y2="393.1" stroke="#000" stroke-width="0.8" />
<line x1="158.79999999999998" y1="318.58189102120815" x2="160.6" y2="318.58189102120815" stroke="#000" stroke-width="0.8" />
<line x1="233.1097476350131" y1="391.3" x2="233.1097476350131" y2="393.1" stroke="#000" stroke-width="0.8" />
<line x1="158.79999999999998" y1="316.8295588026268" x2="160.6" y2="316.8295588026268" stroke="#000" stroke-width="0.8" />
<line x1="234.8570588443721" y1="391.3" x2="234.8570588443721" y2="393.1" stroke="#000" stroke-width="0.8" />
<line x1="158.79999999999998" y1="315.31161959048586" x2="160.6" y2="315.31161959048586" stroke="#000" stroke-width="0.8" />
<line x1="236.37064866048973" y1="391.3" x2="236.37064866048973" y2="393.1" stroke="#000" stroke-width="0.8" />
<line x1="158.79999999999998" y1="313.9727023154257" x2="160.6" y2="313.9727023154257" stroke="#000" stroke-width="0.8" />
<line x1="237.70572949636636" y1="391.3" x2="237.70572949636636" y2="393.1" stroke="#000" stroke-width="0.8" />
<line x1="157.4" y1="312.77500000000003" x2="160.6" y2="312.77500000000003" stroke="#000" stroke-width="0.8" />
<line x1="238.9" y1="391.3" x2="238.9" y2="394.5" stroke="#000" stroke-width="0.8" />
<line x1="158.79999999999998" y1="304.8955398634953" x2="160.6" y2="304.8955398634953" stroke="#000" stroke-width="0.8" />
<line x1="246.7568828868299" y1="391.3" x2="246.7568828868299" y2="393.1" stroke="#000" stroke-width="0.8" />
<line x1="158.79999999999998" y1="300.28635115771283" x2="160.6" y2="300.28635115771283" stroke="#000" stroke-width="0.8" />
<line x1="251.3528647481832" y1="391.3" x2="251.3528647481832" y2="393.1" stroke="#000" stroke-width="0.8" />
<line x1="158.79999999999998" y1="297.0160797269906" x2="160.6" y2="297.0160797269906" stroke="#000" stroke-width="0.8" />
<line x1="254.61376577365982" y1="391.3" x2="254.61376577365982" y2="393.1" stroke="#000" stroke-width="0.8" />
<line x1="158.79999999999998" y1="294.4794601365047" x2="160.6" y2="294.4794601365047" stroke="#000" stroke-width="0.8" />
<line x1="257.1431171131701" y1="391.3" x2="257.1431171131701" y2="393.1" stroke="#000" stroke-width="0.8" />
<line x1="158.79999999999998" y1="292.40689102120814" x2="160.6" y2="292.40689102120814" stroke="#000" stroke-width="0.8" />
<line x1="259.2097476350131" y1="391.3" x2="259.2097476350131" y2="393.1" stroke="#000" stroke-width="0.8" />
<line x1="158.79999999999998" y1="290.65455880262687" x2="160.6" y2="290.65455880262687" stroke="#000" stroke-width="0.8" />
<line x1="260.9570588443721" y1="391.3" x2="260.9570588443721" y2="393.1" stroke="#000" stroke-width="0.8" />
<line x1="158.79999999999998" y1="289.1366195904859" x2="160.6" y2="289.1366195904859" stroke="#000" stroke-width="0.8" />
<line x1="262.4706486604897" y1="391.3" x2="262.4706486604897" y2="393.1" stroke="#000" stroke-width="0.8" />
<line x1="158.79999999999998" y1="287.7977023154257" x2="160.6" y2="287.7977023154257" stroke="#000" stroke-width="0.8" />
<line x1="263.8057294963664" y1="391.3" x2="263.8057294963664" y2="393.1" stroke="#000" stroke-width="0.8" />
<text class="s" x="156.0" y="394.0" font-size="7.6" text-anchor="end">10<tspan font-size="4.6" dy="-2.9">0</tspan></text>
<text class="s" x="154.6" y="404" font-size="8">10<tspan font-size="4.8" dy="-3">0</tspan></text>
<text class="s" x="156.0" y="367.8" font-size="7.6" text-anchor="end">10<tspan font-size="4.6" dy="-2.9">1</tspan></text>
<text class="s" x="180.7" y="404" font-size="8">10<tspan font-size="4.8" dy="-3">1</tspan></text>
<text class="s" x="156.0" y="341.7" font-size="7.6" text-anchor="end">10<tspan font-size="4.6" dy="-2.9">2</tspan></text>
<text class="s" x="206.8" y="404" font-size="8">10<tspan font-size="4.8" dy="-3">2</tspan></text>
<text class="s" x="156.0" y="315.5" font-size="7.6" text-anchor="end">10<tspan font-size="4.6" dy="-2.9">3</tspan></text>
<text class="s" x="232.9" y="404" font-size="8">10<tspan font-size="4.8" dy="-3">3</tspan></text>
<rect x="192.00" y="308.40" width="26.90" height="52.90" fill="none" stroke="#000" stroke-width="1.6"/>
<text x="223" y="338" font-size="13.5" text-anchor="start" font-weight="normal" >35%</text>
<path d="M307.0 385.8h1.0M301.5 372.5h1.0M303.5 380.7h1.0M308.9 378.2h1.0M308.9 386.3h1.0M300.8 380.2h1.0M298.6 376.7h1.0M311.9 375.4h1.0M317.0 384.9h1.0M311.8 381.8h1.0M311.6 389.5h1.0M307.6 376.9h1.0M306.0 377.4h1.0M303.2 367.9h1.0M304.3 383.5h1.0M304.4 375.1h1.0M309.2 384.6h1.0M304.7 383.4h1.0M301.8 387.7h1.0M301.7 378.4h1.0M307.7 377.7h1.0M315.2 367.4h1.0M307.7 371.1h1.0M308.7 370.9h1.0M310.1 385.1h1.0M316.2 390.4h1.0M304.5 388.4h1.0M304.5 380.1h1.0M304.3 367.3h1.0M310.2 365.2h1.0M305.7 385.1h1.0M307.6 368.7h1.0M303.5 386.3h1.0M297.2 384.6h1.0M304.4 387.0h1.0M297.9 379.9h1.0M310.8 376.0h1.0M305.1 373.4h1.0M313.0 370.7h1.0M302.1 378.4h1.0M308.5 374.5h1.0M310.1 383.7h1.0M308.5 380.5h1.0M309.5 371.9h1.0M300.5 377.7h1.0M301.1 386.5h1.0M317.4 390.6h1.0M309.4 383.6h1.0M303.3 370.9h1.0M309.9 369.5h1.0M308.6 379.9h1.0M311.0 381.4h1.0M307.6 376.5h1.0M297.7 378.3h1.0M310.7 389.1h1.0M314.4 373.2h1.0M302.0 386.5h1.0M308.7 369.2h1.0M297.2 382.2h1.0M304.6 373.0h1.0M297.8 375.4h1.0M318.7 381.8h1.0M305.6 372.0h1.0M308.8 377.3h1.0M309.4 374.1h1.0M314.9 380.6h1.0M309.7 382.2h1.0M313.3 385.8h1.0M305.1 386.6h1.0M304.9 382.0h1.0M315.8 372.7h1.0M301.4 377.9h1.0M315.5 377.5h1.0M308.0 378.2h1.0M310.6 386.2h1.0M311.0 387.0h1.0M317.4 379.7h1.0M310.8 379.5h1.0M307.2 382.7h1.0M306.7 383.7h1.0M302.4 379.8h1.0M303.7 371.9h1.0M303.2 377.1h1.0M306.2 368.8h1.0M305.6 372.2h1.0M302.6 382.5h1.0M313.0 383.2h1.0M304.4 377.6h1.0M314.2 368.3h1.0M313.1 369.3h1.0M303.6 381.4h1.0M309.7 380.6h1.0M312.1 381.3h1.0M302.7 389.8h1.0M315.1 391.0h1.0M304.8 387.0h1.0M298.3 373.0h1.0M313.3 384.9h1.0M309.4 379.5h1.0M307.0 382.8h1.0M311.1 378.9h1.0M302.2 378.2h1.0M317.6 375.6h1.0M312.7 382.0h1.0M311.0 378.9h1.0M302.1 388.8h1.0M305.6 378.1h1.0M308.9 379.5h1.0M305.3 374.0h1.0M308.4 383.5h1.0M316.9 380.8h1.0M297.5 384.6h1.0M302.7 379.7h1.0M306.0 369.2h1.0M310.1 374.2h1.0M297.0 375.4h1.0M313.7 382.5h1.0M304.2 379.0h1.0M312.2 376.9h1.0M309.2 388.6h1.0M302.1 376.4h1.0M309.4 381.1h1.0M306.3 376.9h1.0M314.3 368.4h1.0M307.3 381.7h1.0M307.2 370.2h1.0M306.3 382.2h1.0M303.3 383.5h1.0M307.5 384.1h1.0M306.1 377.4h1.0M308.0 389.5h1.0M311.9 380.4h1.0M304.5 389.3h1.0M309.9 387.9h1.0M305.5 374.3h1.0M308.0 376.1h1.0M313.2 387.7h1.0M314.2 389.1h1.0M304.4 374.3h1.0M312.2 388.9h1.0M307.3 372.0h1.0M298.8 383.1h1.0M302.5 375.7h1.0M309.4 389.2h1.0M314.0 380.7h1.0M305.2 386.0h1.0M300.9 371.4h1.0M312.5 381.0h1.0M312.5 377.8h1.0M300.6 367.9h1.0M308.5 388.1h1.0M309.0 380.7h1.0M304.8 389.5h1.0M306.7 369.7h1.0M314.4 375.9h1.0M309.1 381.0h1.0M312.7 382.9h1.0M313.6 382.7h1.0M304.5 377.0h1.0M310.5 374.5h1.0M312.0 379.1h1.0M302.0 374.2h1.0M311.2 381.2h1.0M305.5 381.0h1.0M308.0 377.4h1.0M308.0 373.2h1.0M301.3 379.7h1.0M317.7 372.3h1.0M306.2 368.6h1.0M307.9 382.7h1.0M311.0 370.5h1.0M303.8 375.9h1.0M305.9 380.7h1.0M304.3 387.2h1.0M315.3 372.6h1.0M312.7 381.2h1.0M313.8 389.3h1.0M310.5 367.9h1.0M307.7 377.1h1.0M309.4 381.3h1.0M312.7 368.4h1.0M303.0 380.4h1.0M308.7 377.8h1.0M306.8 381.4h1.0M312.7 380.1h1.0M308.3 366.7h1.0M308.9 362.9h1.0M309.2 380.2h1.0M307.0 375.3h1.0M304.7 387.5h1.0M308.9 380.8h1.0M304.4 382.7h1.0M313.4 380.8h1.0M305.0 371.7h1.0M307.5 373.8h1.0M299.2 387.8h1.0M303.6 365.0h1.0M306.4 370.6h1.0M301.0 386.6h1.0M309.2 382.7h1.0M305.9 384.8h1.0M315.3 384.8h1.0M306.1 370.0h1.0M310.5 371.1h1.0M303.6 384.9h1.0M298.4 367.3h1.0M309.0 386.5h1.0M305.1 380.8h1.0M304.8 390.4h1.0M300.1 375.7h1.0M298.7 373.8h1.0M306.9 381.2h1.0M316.7 379.3h1.0M308.9 383.8h1.0M307.8 382.2h1.0M306.4 381.0h1.0M306.7 388.8h1.0M307.1 381.5h1.0M306.7 387.0h1.0M304.4 388.4h1.0M303.9 386.5h1.0M317.4 382.8h1.0M306.5 371.7h1.0M311.0 381.1h1.0M311.9 375.8h1.0M309.2 378.4h1.0M299.9 380.9h1.0M310.6 385.7h1.0M300.9 372.9h1.0M301.7 373.0h1.0M305.5 383.1h1.0M317.4 382.5h1.0M314.9 368.0h1.0M315.4 387.3h1.0M309.4 387.5h1.0M311.4 367.3h1.0M305.1 375.8h1.0M305.1 383.5h1.0M308.0 376.1h1.0M309.9 385.9h1.0M302.0 372.2h1.0M307.1 375.5h1.0M303.7 379.9h1.0M307.2 385.5h1.0M311.5 384.5h1.0M313.1 373.4h1.0M310.3 383.9h1.0M301.3 375.7h1.0M309.4 381.6h1.0M300.2 376.6h1.0M315.3 387.7h1.0M302.1 379.6h1.0M312.2 378.3h1.0M300.9 385.6h1.0M307.8 371.1h1.0M305.4 369.8h1.0M307.2 375.4h1.0M301.6 377.4h1.0M301.2 381.6h1.0M304.6 368.6h1.0M308.3 375.0h1.0M303.9 372.8h1.0M312.6 377.8h1.0M306.2 382.4h1.0M300.3 382.8h1.0M306.1 384.5h1.0M304.9 381.3h1.0M309.8 388.6h1.0M303.3 388.7h1.0M301.6 379.5h1.0M307.7 382.1h1.0M306.0 388.3h1.0M297.2 381.6h1.0M309.9 381.1h1.0M308.4 388.4h1.0M302.6 385.7h1.0M312.8 379.2h1.0M302.4 372.6h1.0M309.3 374.6h1.0M299.9 378.7h1.0M315.3 386.4h1.0M301.5 389.2h1.0M304.0 385.7h1.0M310.1 377.5h1.0M306.2 390.2h1.0M309.7 380.5h1.0M312.1 384.8h1.0M308.8 368.6h1.0M307.7 377.2h1.0M311.0 376.2h1.0M309.4 372.7h1.0M311.9 375.2h1.0M306.8 385.6h1.0M305.2 381.1h1.0M297.2 373.9h1.0M310.7 388.4h1.0M304.4 381.7h1.0M305.9 371.6h1.0M298.6 370.9h1.0M314.1 377.9h1.0M317.6 386.0h1.0M309.1 386.1h1.0M311.3 388.3h1.0M301.7 376.6h1.0M304.0 381.8h1.0M305.6 371.3h1.0M318.5 374.2h1.0M309.1 380.7h1.0M302.4 386.6h1.0M309.5 378.5h1.0M311.6 375.4h1.0M311.8 386.4h1.0M297.4 379.5h1.0M308.7 387.0h1.0M307.8 380.9h1.0M305.1 378.7h1.0M307.0 372.6h1.0M310.5 378.4h1.0M309.8 377.0h1.0M309.2 382.0h1.0M311.8 384.7h1.0M312.1 379.7h1.0M306.7 378.9h1.0M300.2 380.0h1.0M312.9 387.1h1.0M302.4 383.4h1.0M311.1 370.3h1.0M308.9 383.6h1.0M311.1 383.0h1.0M297.5 365.1h1.0M317.8 377.9h1.0M313.9 391.0h1.0M307.5 372.0h1.0M314.4 380.7h1.0M309.8 384.8h1.0M312.2 389.0h1.0M299.3 369.9h1.0M307.8 381.1h1.0M311.2 379.9h1.0M314.5 390.1h1.0M312.6 374.8h1.0M306.5 380.5h1.0M301.1 374.1h1.0M307.9 371.4h1.0M309.9 384.7h1.0M305.7 378.3h1.0M310.3 384.8h1.0M309.0 371.4h1.0M303.5 378.1h1.0M297.1 374.7h1.0M303.0 387.3h1.0M304.8 377.1h1.0M302.8 377.5h1.0M298.4 383.1h1.0M313.5 382.2h1.0M304.1 390.9h1.0M309.7 372.9h1.0M303.9 376.2h1.0M306.8 390.5h1.0M303.2 379.8h1.0M307.6 371.6h1.0M304.4 385.8h1.0M313.2 366.3h1.0M310.8 378.7h1.0M314.0 385.9h1.0M317.7 383.4h1.0M304.9 374.5h1.0M299.2 385.4h1.0M309.8 387.4h1.0M308.9 369.2h1.0M304.8 379.1h1.0M307.9 387.0h1.0M314.7 383.2h1.0M300.5 382.9h1.0M305.8 389.8h1.0M312.9 377.4h1.0M312.1 381.1h1.0M300.8 380.5h1.0M315.4 375.0h1.0M308.2 382.0h1.0M304.7 370.7h1.0M303.3 373.3h1.0M312.9 383.0h1.0M310.8 371.7h1.0M309.7 382.1h1.0M312.7 375.3h1.0M316.8 373.7h1.0M300.9 369.5h1.0M312.2 385.7h1.0M308.9 374.2h1.0M306.8 380.1h1.0M313.5 385.0h1.0M314.3 377.8h1.0M308.8 378.4h1.0M303.9 378.7h1.0M305.5 385.0h1.0M305.4 381.6h1.0M302.6 371.4h1.0M314.8 373.3h1.0M316.9 388.4h1.0M304.7 381.2h1.0M306.0 376.3h1.0M313.8 380.0h1.0M312.2 375.6h1.0M305.5 372.4h1.0M306.1 389.2h1.0M306.1 375.4h1.0M310.5 388.7h1.0M305.9 378.5h1.0M306.2 384.2h1.0M307.3 378.5h1.0M304.8 370.3h1.0M298.9 382.3h1.0M303.5 380.3h1.0M306.0 377.0h1.0M301.0 377.0h1.0M305.4 372.0h1.0M301.8 387.8h1.0M312.1 382.0h1.0M313.7 374.6h1.0M302.6 372.1h1.0M306.8 374.7h1.0M310.5 372.4h1.0M307.5 365.7h1.0M306.8 389.2h1.0M305.6 383.4h1.0M312.9 372.4h1.0M300.1 381.6h1.0M308.5 378.9h1.0M301.7 390.5h1.0M300.7 379.0h1.0M306.8 386.7h1.0M304.6 374.6h1.0M317.9 374.4h1.0M311.3 379.8h1.0M304.4 380.7h1.0M305.6 383.4h1.0M307.4 373.4h1.0M317.0 386.0h1.0M308.3 378.6h1.0M314.6 377.5h1.0M302.6 386.4h1.0M301.8 374.8h1.0M314.9 368.5h1.0M306.7 381.9h1.0M308.4 369.6h1.0M305.8 378.4h1.0M317.5 388.9h1.0M302.9 387.8h1.0M310.6 380.1h1.0M305.7 378.9h1.0M298.6 376.1h1.0M317.1 378.1h1.0M310.4 362.2h1.0M305.6 371.1h1.0M311.5 368.1h1.0M301.4 372.4h1.0M309.2 387.5h1.0M307.9 374.5h1.0M308.9 380.9h1.0M311.5 383.7h1.0M318.9 390.1h1.0M303.6 387.2h1.0M311.2 373.2h1.0M303.0 374.7h1.0M305.9 390.6h1.0M304.0 381.6h1.0M311.0 388.6h1.0M308.8 372.9h1.0M319.0 387.8h1.0M314.6 384.2h1.0M309.6 385.9h1.0M298.9 387.4h1.0M301.7 384.3h1.0M301.5 386.6h1.0M308.1 385.0h1.0M302.1 378.8h1.0M306.7 378.8h1.0M304.7 374.2h1.0M311.2 378.0h1.0M302.6 383.9h1.0M302.6 379.6h1.0M304.3 373.8h1.0M305.8 374.6h1.0M300.2 383.8h1.0M305.4 369.6h1.0M304.9 382.5h1.0M309.4 383.9h1.0M308.4 385.7h1.0M304.4 374.8h1.0M310.4 377.8h1.0M307.1 386.1h1.0M312.1 390.5h1.0M303.3 378.1h1.0M310.1 369.8h1.0M300.2 385.7h1.0M303.7 373.8h1.0M311.4 385.1h1.0M312.0 378.4h1.0M305.5 378.4h1.0M308.7 365.2h1.0M303.3 386.5h1.0M302.8 380.5h1.0M307.7 385.1h1.0M304.5 372.2h1.0M316.3 367.3h1.0M307.6 379.5h1.0M312.3 373.1h1.0M302.7 375.2h1.0M304.3 383.0h1.0M302.8 379.1h1.0M302.4 378.6h1.0M312.6 385.5h1.0M308.0 385.9h1.0M309.2 381.7h1.0M305.3 371.9h1.0M311.7 386.9h1.0M312.1 378.1h1.0M301.6 378.1h1.0M305.4 380.9h1.0M312.4 373.9h1.0M304.4 386.4h1.0M309.9 374.4h1.0M301.4 374.9h1.0M307.4 383.0h1.0M306.7 376.3h1.0M306.1 380.4h1.0M310.3 381.7h1.0M302.7 371.9h1.0M315.1 380.3h1.0M306.1 380.8h1.0M313.2 378.6h1.0M308.0 379.2h1.0M310.2 373.2h1.0M308.2 389.0h1.0M313.5 385.8h1.0M300.6 372.5h1.0M311.4 379.0h1.0M304.7 373.7h1.0M315.1 371.8h1.0M307.6 370.2h1.0M302.5 367.2h1.0M308.9 372.7h1.0M299.2 389.7h1.0M303.1 372.8h1.0M308.0 379.6h1.0M313.1 381.8h1.0M315.7 389.8h1.0M316.7 389.7h1.0M307.5 385.2h1.0M307.2 369.0h1.0M300.7 386.8h1.0M300.2 380.5h1.0M301.5 382.9h1.0M306.0 377.4h1.0M302.5 363.8h1.0M307.5 371.0h1.0M305.5 383.9h1.0M312.7 386.5h1.0M315.0 370.0h1.0M309.2 372.4h1.0M309.2 377.0h1.0M303.6 389.3h1.0M306.1 372.4h1.0M302.5 386.2h1.0M308.0 390.1h1.0M305.6 373.7h1.0M303.6 373.1h1.0M305.4 390.8h1.0M310.6 379.6h1.0M310.4 383.1h1.0M305.4 380.7h1.0M306.1 390.5h1.0M309.2 387.1h1.0M311.9 376.1h1.0M312.1 387.3h1.0M305.6 378.2h1.0M302.5 378.9h1.0M306.7 369.9h1.0M313.3 375.1h1.0M308.4 385.7h1.0M304.1 367.0h1.0M312.3 384.2h1.0M305.7 389.8h1.0M311.9 373.6h1.0M306.7 367.4h1.0M302.6 387.4h1.0M299.0 378.7h1.0M309.5 386.9h1.0M316.3 362.1h1.0M307.4 383.0h1.0M307.2 376.3h1.0M307.0 380.1h1.0M310.7 386.3h1.0M312.4 385.6h1.0M308.9 376.9h1.0M317.1 372.6h1.0M300.8 377.1h1.0M309.3 387.2h1.0M307.7 386.2h1.0M303.3 376.3h1.0M307.8 370.6h1.0M308.1 378.0h1.0M310.8 373.2h1.0M304.3 376.6h1.0M305.1 373.3h1.0M305.7 370.6h1.0M310.0 386.2h1.0M307.0 379.6h1.0M302.3 373.6h1.0M305.9 374.0h1.0M300.8 382.3h1.0M307.0 377.9h1.0M302.7 380.6h1.0M303.4 377.7h1.0M308.1 386.6h1.0M311.1 376.3h1.0M313.5 372.1h1.0M305.2 378.1h1.0M300.6 379.9h1.0M304.8 375.2h1.0M313.5 375.0h1.0M316.1 387.5h1.0M310.5 376.5h1.0M304.4 365.6h1.0M308.5 378.9h1.0M309.2 375.8h1.0M309.7 369.5h1.0M313.9 378.3h1.0M306.2 369.1h1.0M301.8 386.5h1.0M303.2 380.7h1.0M311.8 370.8h1.0M304.5 372.1h1.0M299.7 375.7h1.0M312.9 381.4h1.0M310.7 380.0h1.0M304.8 381.7h1.0M316.6 383.9h1.0M310.3 365.6h1.0M302.8 387.3h1.0M313.6 377.9h1.0M305.9 377.5h1.0M311.3 381.2h1.0M315.1 390.2h1.0M305.4 376.3h1.0M305.8 374.2h1.0M304.8 380.5h1.0M311.8 368.8h1.0M299.6 375.0h1.0M305.5 384.5h1.0M304.3 379.3h1.0M307.4 390.1h1.0M308.7 381.2h1.0M304.2 382.3h1.0M309.2 378.3h1.0M307.0 366.8h1.0M304.3 390.2h1.0M314.6 380.4h1.0M304.9 388.8h1.0M313.2 372.8h1.0M305.9 371.6h1.0M308.5 377.9h1.0M299.1 372.9h1.0M308.4 369.2h1.0M312.8 384.5h1.0M302.2 386.3h1.0M299.9 378.5h1.0M310.5 376.9h1.0M306.5 386.0h1.0M309.5 379.0h1.0M317.0 364.3h1.0M311.7 380.7h1.0M310.8 383.5h1.0M306.0 381.0h1.0M306.9 390.1h1.0M305.7 376.8h1.0M310.5 386.0h1.0M309.4 383.2h1.0M314.9 389.7h1.0M308.2 379.4h1.0M310.6 366.5h1.0M304.3 375.5h1.0M308.0 378.0h1.0M307.0 378.5h1.0M313.6 387.4h1.0M312.0 390.4h1.0M305.1 375.9h1.0M303.2 381.8h1.0M312.4 372.8h1.0M304.2 370.6h1.0M317.6 387.2h1.0M308.2 371.5h1.0M301.6 376.0h1.0M307.2 371.1h1.0M305.9 390.5h1.0M307.1 381.8h1.0M306.3 375.6h1.0M299.7 380.4h1.0M301.6 376.8h1.0M298.6 380.3h1.0M311.9 374.5h1.0M308.8 369.2h1.0M310.1 385.2h1.0M305.0 387.9h1.0M302.4 381.4h1.0M316.0 380.8h1.0M301.1 390.0h1.0M309.9 378.8h1.0M297.4 366.3h1.0M308.6 374.4h1.0M302.6 384.8h1.0M298.4 383.9h1.0M316.6 370.0h1.0M307.4 376.1h1.0M306.6 381.7h1.0M308.5 387.9h1.0M309.8 389.2h1.0M312.4 389.6h1.0M303.5 384.2h1.0M305.1 374.4h1.0M317.4 383.3h1.0M307.3 364.6h1.0M305.8 387.0h1.0M306.0 376.8h1.0M314.8 378.6h1.0M305.3 380.2h1.0M305.8 389.2h1.0M310.1 380.5h1.0M305.1 379.2h1.0M316.0 378.6h1.0M310.5 368.7h1.0M308.7 386.4h1.0M313.8 383.5h1.0M310.1 383.5h1.0M308.1 374.6h1.0M310.2 380.1h1.0M310.4 387.1h1.0M307.9 377.6h1.0M308.7 371.3h1.0M308.5 374.1h1.0M309.4 382.0h1.0M305.9 371.6h1.0M307.3 375.7h1.0M306.3 386.4h1.0M312.1 370.9h1.0M313.0 383.2h1.0M305.4 369.1h1.0M307.5 383.2h1.0M301.6 371.5h1.0M317.5 381.9h1.0M311.2 376.4h1.0M299.1 379.6h1.0M314.1 375.8h1.0M297.6 379.7h1.0M305.6 381.1h1.0M301.6 378.6h1.0M304.2 387.9h1.0M307.9 387.8h1.0M306.8 364.3h1.0M311.7 387.8h1.0M306.7 367.1h1.0M304.5 384.2h1.0M314.3 378.3h1.0M304.1 375.0h1.0M312.4 387.8h1.0M297.5 390.5h1.0M302.2 369.5h1.0M298.7 375.3h1.0M300.5 375.8h1.0M307.9 384.2h1.0M304.5 368.6h1.0M304.9 375.7h1.0M297.6 382.1h1.0M299.3 367.4h1.0M315.0 388.3h1.0M314.7 381.9h1.0M304.9 380.3h1.0M299.9 386.8h1.0M308.5 378.6h1.0M297.2 380.1h1.0M311.7 378.3h1.0M307.8 385.3h1.0M308.1 389.2h1.0M303.6 362.9h1.0M299.8 386.2h1.0M312.7 381.0h1.0M309.9 381.6h1.0M308.0 377.3h1.0M304.9 390.3h1.0M305.6 380.7h1.0M313.4 388.7h1.0M305.0 383.0h1.0M301.7 382.0h1.0M308.7 381.0h1.0M307.9 383.9h1.0M307.5 377.2h1.0M302.0 379.1h1.0M315.5 379.2h1.0M303.6 377.3h1.0" stroke="#000" stroke-width="1.0" stroke-opacity="1" fill="none"/>
<path d="M302.9 333.4h1.0M303.8 335.5h1.0M312.0 333.8h1.0M312.5 330.6h1.0M300.5 330.7h1.0M310.8 323.5h1.0M302.8 336.4h1.0M309.9 337.6h1.0M310.9 331.3h1.0M309.9 335.2h1.0M307.9 330.0h1.0M309.4 329.5h1.0M318.4 327.3h1.0M301.5 324.7h1.0M312.6 329.0h1.0M308.7 330.0h1.0M309.3 323.9h1.0M308.4 328.2h1.0M312.7 334.0h1.0M302.6 326.3h1.0M310.5 336.8h1.0M311.4 330.3h1.0M312.9 319.5h1.0M305.7 326.2h1.0M303.6 333.8h1.0M309.3 332.4h1.0M307.5 334.0h1.0M311.4 328.2h1.0M312.1 326.5h1.0M315.7 324.6h1.0M306.8 325.7h1.0M308.2 337.4h1.0M304.8 339.7h1.0M314.2 332.9h1.0M305.5 335.4h1.0M312.2 330.8h1.0M302.3 329.9h1.0M310.6 339.3h1.0M300.4 331.8h1.0M313.5 327.7h1.0M306.1 325.1h1.0M311.4 335.1h1.0M310.6 332.2h1.0M312.4 330.4h1.0M311.2 335.0h1.0M313.7 333.5h1.0M308.4 334.5h1.0M301.3 322.4h1.0M315.1 331.7h1.0M303.5 328.2h1.0M307.4 331.4h1.0M304.7 335.9h1.0M300.6 344.8h1.0M303.3 339.2h1.0M311.0 322.7h1.0M302.7 331.3h1.0M309.2 328.9h1.0M308.1 331.8h1.0M303.1 331.3h1.0M318.0 327.8h1.0M303.6 334.3h1.0M313.9 336.1h1.0M305.3 330.6h1.0M308.9 330.0h1.0M309.8 336.3h1.0M310.5 330.9h1.0M307.2 339.8h1.0M302.7 340.9h1.0M311.3 331.4h1.0M304.8 340.0h1.0M313.4 335.5h1.0M317.2 322.2h1.0M308.5 329.5h1.0M304.9 331.4h1.0M310.4 333.6h1.0M307.4 324.5h1.0M310.5 334.0h1.0M317.4 335.6h1.0M308.1 325.3h1.0M308.9 334.7h1.0M310.3 337.6h1.0M303.5 327.6h1.0M308.8 324.9h1.0M305.4 337.8h1.0M309.4 330.5h1.0M305.5 331.2h1.0M307.9 325.7h1.0M311.5 324.7h1.0M313.7 329.3h1.0M298.0 323.3h1.0M309.3 326.7h1.0M316.1 337.8h1.0M317.4 335.4h1.0M314.1 328.0h1.0M313.8 328.8h1.0M307.8 324.3h1.0M308.3 333.0h1.0M307.8 325.5h1.0M312.1 335.5h1.0M307.7 334.9h1.0M312.4 326.1h1.0M307.9 321.8h1.0M303.5 333.1h1.0M304.1 332.9h1.0M309.7 320.8h1.0M305.9 338.5h1.0M308.1 331.6h1.0M304.9 323.1h1.0M307.2 326.7h1.0M308.6 321.4h1.0" stroke="#000" stroke-width="1.0" stroke-opacity="1" fill="none"/>
<path d="M303.8 349.6h1.0M303.1 353.8h1.0M303.4 345.9h1.0M314.1 351.2h1.0M305.9 334.9h1.0M299.6 356.6h1.0M310.1 347.5h1.0M313.8 348.2h1.0M303.9 346.2h1.0M307.1 346.9h1.0M308.9 345.0h1.0M304.2 339.1h1.0M298.2 343.3h1.0M300.0 332.2h1.0M302.9 330.8h1.0M314.4 356.9h1.0M310.9 326.9h1.0M307.7 339.0h1.0M298.9 344.9h1.0M313.3 350.5h1.0M300.3 341.7h1.0M303.8 356.1h1.0M307.1 339.2h1.0M303.0 331.3h1.0M303.3 354.2h1.0M298.0 348.5h1.0M307.0 353.5h1.0M301.8 354.3h1.0M299.4 346.8h1.0M306.5 348.0h1.0M302.6 353.9h1.0M302.8 342.4h1.0M311.2 348.1h1.0M303.7 356.9h1.0M310.1 355.2h1.0M306.7 357.2h1.0M305.2 338.1h1.0M307.5 335.8h1.0M313.8 352.9h1.0M299.1 348.4h1.0M311.8 344.1h1.0M309.6 342.3h1.0M307.2 346.3h1.0M310.0 339.2h1.0M301.9 349.6h1.0M305.0 351.2h1.0M305.0 336.5h1.0M311.2 349.1h1.0M311.2 344.3h1.0M305.7 357.1h1.0M310.1 346.5h1.0M308.0 351.8h1.0M303.7 349.2h1.0M302.7 332.2h1.0M308.5 347.8h1.0M310.8 351.5h1.0M311.0 353.3h1.0M302.2 356.8h1.0M301.2 352.5h1.0M312.1 355.1h1.0M315.2 335.9h1.0M309.4 350.7h1.0M313.8 339.8h1.0M307.6 344.0h1.0M306.7 345.8h1.0M306.8 332.8h1.0M307.3 347.5h1.0M304.0 341.8h1.0M303.1 359.9h1.0M312.2 345.5h1.0M302.6 350.8h1.0M304.5 358.9h1.0M313.1 346.0h1.0M310.6 340.6h1.0M299.6 353.8h1.0M315.7 344.6h1.0M304.9 332.6h1.0M318.3 337.4h1.0M302.6 345.4h1.0M313.6 347.4h1.0M307.4 347.2h1.0M311.8 346.7h1.0M308.3 346.4h1.0M301.9 357.8h1.0M304.0 336.4h1.0M305.3 347.3h1.0M311.6 335.2h1.0M301.1 348.4h1.0M309.4 338.2h1.0M301.8 348.4h1.0" stroke="#000" stroke-width="1.0" stroke-opacity="1" fill="none"/>
<rect x="283.80" y="286.60" width="104.80" height="104.70" fill="none" stroke="#000" stroke-width="1.3"/>
<line x1="280.6" y1="391.3" x2="283.8" y2="391.3" stroke="#000" stroke-width="0.8" />
<line x1="283.8" y1="391.3" x2="283.8" y2="394.5" stroke="#000" stroke-width="0.8" />
<line x1="282.0" y1="383.4205398634953" x2="283.8" y2="383.4205398634953" stroke="#000" stroke-width="0.8" />
<line x1="291.6869858863963" y1="391.3" x2="291.6869858863963" y2="393.1" stroke="#000" stroke-width="0.8" />
<line x1="282.0" y1="378.81135115771286" x2="283.8" y2="378.81135115771286" stroke="#000" stroke-width="0.8" />
<line x1="296.3005768736552" y1="391.3" x2="296.3005768736552" y2="393.1" stroke="#000" stroke-width="0.8" />
<line x1="282.0" y1="375.5410797269906" x2="283.8" y2="375.5410797269906" stroke="#000" stroke-width="0.8" />
<line x1="299.5739717727926" y1="391.3" x2="299.5739717727926" y2="393.1" stroke="#000" stroke-width="0.8" />
<line x1="282.0" y1="373.0044601365047" x2="283.8" y2="373.0044601365047" stroke="#000" stroke-width="0.8" />
<line x1="302.1130141136037" y1="391.3" x2="302.1130141136037" y2="393.1" stroke="#000" stroke-width="0.8" />
<line x1="282.0" y1="370.9318910212081" x2="283.8" y2="370.9318910212081" stroke="#000" stroke-width="0.8" />
<line x1="304.1875627600515" y1="391.3" x2="304.1875627600515" y2="393.1" stroke="#000" stroke-width="0.8" />
<line x1="282.0" y1="369.17955880262684" x2="283.8" y2="369.17955880262684" stroke="#000" stroke-width="0.8" />
<line x1="305.94156864837356" y1="391.3" x2="305.94156864837356" y2="393.1" stroke="#000" stroke-width="0.8" />
<line x1="282.0" y1="367.6616195904859" x2="283.8" y2="367.6616195904859" stroke="#000" stroke-width="0.8" />
<line x1="307.4609576591889" y1="391.3" x2="307.4609576591889" y2="393.1" stroke="#000" stroke-width="0.8" />
<line x1="282.0" y1="366.32270231542566" x2="283.8" y2="366.32270231542566" stroke="#000" stroke-width="0.8" />
<line x1="308.8011537473103" y1="391.3" x2="308.8011537473103" y2="393.1" stroke="#000" stroke-width="0.8" />
<line x1="280.6" y1="365.125" x2="283.8" y2="365.125" stroke="#000" stroke-width="0.8" />
<line x1="310.0" y1="391.3" x2="310.0" y2="394.5" stroke="#000" stroke-width="0.8" />
<line x1="282.0" y1="357.2455398634953" x2="283.8" y2="357.2455398634953" stroke="#000" stroke-width="0.8" />
<line x1="317.8869858863963" y1="391.3" x2="317.8869858863963" y2="393.1" stroke="#000" stroke-width="0.8" />
<line x1="282.0" y1="352.63635115771285" x2="283.8" y2="352.63635115771285" stroke="#000" stroke-width="0.8" />
<line x1="322.5005768736552" y1="391.3" x2="322.5005768736552" y2="393.1" stroke="#000" stroke-width="0.8" />
<line x1="282.0" y1="349.3660797269906" x2="283.8" y2="349.3660797269906" stroke="#000" stroke-width="0.8" />
<line x1="325.7739717727926" y1="391.3" x2="325.7739717727926" y2="393.1" stroke="#000" stroke-width="0.8" />
<line x1="282.0" y1="346.82946013650474" x2="283.8" y2="346.82946013650474" stroke="#000" stroke-width="0.8" />
<line x1="328.3130141136037" y1="391.3" x2="328.3130141136037" y2="393.1" stroke="#000" stroke-width="0.8" />
<line x1="282.0" y1="344.75689102120816" x2="283.8" y2="344.75689102120816" stroke="#000" stroke-width="0.8" />
<line x1="330.3875627600515" y1="391.3" x2="330.3875627600515" y2="393.1" stroke="#000" stroke-width="0.8" />
<line x1="282.0" y1="343.00455880262683" x2="283.8" y2="343.00455880262683" stroke="#000" stroke-width="0.8" />
<line x1="332.14156864837355" y1="391.3" x2="332.14156864837355" y2="393.1" stroke="#000" stroke-width="0.8" />
<line x1="282.0" y1="341.4866195904859" x2="283.8" y2="341.4866195904859" stroke="#000" stroke-width="0.8" />
<line x1="333.66095765918897" y1="391.3" x2="333.66095765918897" y2="393.1" stroke="#000" stroke-width="0.8" />
<line x1="282.0" y1="340.1477023154257" x2="283.8" y2="340.1477023154257" stroke="#000" stroke-width="0.8" />
<line x1="335.00115374731035" y1="391.3" x2="335.00115374731035" y2="393.1" stroke="#000" stroke-width="0.8" />
<line x1="280.6" y1="338.95000000000005" x2="283.8" y2="338.95000000000005" stroke="#000" stroke-width="0.8" />
<line x1="336.20000000000005" y1="391.3" x2="336.20000000000005" y2="394.5" stroke="#000" stroke-width="0.8" />
<line x1="282.0" y1="331.0705398634953" x2="283.8" y2="331.0705398634953" stroke="#000" stroke-width="0.8" />
<line x1="344.08698588639635" y1="391.3" x2="344.08698588639635" y2="393.1" stroke="#000" stroke-width="0.8" />
<line x1="282.0" y1="326.46135115771284" x2="283.8" y2="326.46135115771284" stroke="#000" stroke-width="0.8" />
<line x1="348.70057687365517" y1="391.3" x2="348.70057687365517" y2="393.1" stroke="#000" stroke-width="0.8" />
<line x1="282.0" y1="323.1910797269906" x2="283.8" y2="323.1910797269906" stroke="#000" stroke-width="0.8" />
<line x1="351.97397177279265" y1="391.3" x2="351.97397177279265" y2="393.1" stroke="#000" stroke-width="0.8" />
<line x1="282.0" y1="320.6544601365047" x2="283.8" y2="320.6544601365047" stroke="#000" stroke-width="0.8" />
<line x1="354.51301411360373" y1="391.3" x2="354.51301411360373" y2="393.1" stroke="#000" stroke-width="0.8" />
<line x1="282.0" y1="318.58189102120815" x2="283.8" y2="318.58189102120815" stroke="#000" stroke-width="0.8" />
<line x1="356.58756276005147" y1="391.3" x2="356.58756276005147" y2="393.1" stroke="#000" stroke-width="0.8" />
<line x1="282.0" y1="316.8295588026268" x2="283.8" y2="316.8295588026268" stroke="#000" stroke-width="0.8" />
<line x1="358.34156864837354" y1="391.3" x2="358.34156864837354" y2="393.1" stroke="#000" stroke-width="0.8" />
<line x1="282.0" y1="315.31161959048586" x2="283.8" y2="315.31161959048586" stroke="#000" stroke-width="0.8" />
<line x1="359.86095765918895" y1="391.3" x2="359.86095765918895" y2="393.1" stroke="#000" stroke-width="0.8" />
<line x1="282.0" y1="313.9727023154257" x2="283.8" y2="313.9727023154257" stroke="#000" stroke-width="0.8" />
<line x1="361.20115374731034" y1="391.3" x2="361.20115374731034" y2="393.1" stroke="#000" stroke-width="0.8" />
<line x1="280.6" y1="312.77500000000003" x2="283.8" y2="312.77500000000003" stroke="#000" stroke-width="0.8" />
<line x1="362.40000000000003" y1="391.3" x2="362.40000000000003" y2="394.5" stroke="#000" stroke-width="0.8" />
<line x1="282.0" y1="304.8955398634953" x2="283.8" y2="304.8955398634953" stroke="#000" stroke-width="0.8" />
<line x1="370.28698588639634" y1="391.3" x2="370.28698588639634" y2="393.1" stroke="#000" stroke-width="0.8" />
<line x1="282.0" y1="300.28635115771283" x2="283.8" y2="300.28635115771283" stroke="#000" stroke-width="0.8" />
<line x1="374.90057687365515" y1="391.3" x2="374.90057687365515" y2="393.1" stroke="#000" stroke-width="0.8" />
<line x1="282.0" y1="297.0160797269906" x2="283.8" y2="297.0160797269906" stroke="#000" stroke-width="0.8" />
<line x1="378.17397177279264" y1="391.3" x2="378.17397177279264" y2="393.1" stroke="#000" stroke-width="0.8" />
<line x1="282.0" y1="294.4794601365047" x2="283.8" y2="294.4794601365047" stroke="#000" stroke-width="0.8" />
<line x1="380.7130141136037" y1="391.3" x2="380.7130141136037" y2="393.1" stroke="#000" stroke-width="0.8" />
<line x1="282.0" y1="292.40689102120814" x2="283.8" y2="292.40689102120814" stroke="#000" stroke-width="0.8" />
<line x1="382.7875627600515" y1="391.3" x2="382.7875627600515" y2="393.1" stroke="#000" stroke-width="0.8" />
<line x1="282.0" y1="290.65455880262687" x2="283.8" y2="290.65455880262687" stroke="#000" stroke-width="0.8" />
<line x1="384.5415686483735" y1="391.3" x2="384.5415686483735" y2="393.1" stroke="#000" stroke-width="0.8" />
<line x1="282.0" y1="289.1366195904859" x2="283.8" y2="289.1366195904859" stroke="#000" stroke-width="0.8" />
<line x1="386.06095765918894" y1="391.3" x2="386.06095765918894" y2="393.1" stroke="#000" stroke-width="0.8" />
<line x1="282.0" y1="287.7977023154257" x2="283.8" y2="287.7977023154257" stroke="#000" stroke-width="0.8" />
<line x1="387.40115374731033" y1="391.3" x2="387.40115374731033" y2="393.1" stroke="#000" stroke-width="0.8" />
<text class="s" x="279.2" y="394.0" font-size="7.6" text-anchor="end">10<tspan font-size="4.6" dy="-2.9">0</tspan></text>
<text class="s" x="277.8" y="404" font-size="8">10<tspan font-size="4.8" dy="-3">0</tspan></text>
<text class="s" x="279.2" y="367.8" font-size="7.6" text-anchor="end">10<tspan font-size="4.6" dy="-2.9">1</tspan></text>
<text class="s" x="304.0" y="404" font-size="8">10<tspan font-size="4.8" dy="-3">1</tspan></text>
<text class="s" x="279.2" y="341.7" font-size="7.6" text-anchor="end">10<tspan font-size="4.6" dy="-2.9">2</tspan></text>
<text class="s" x="330.2" y="404" font-size="8">10<tspan font-size="4.8" dy="-3">2</tspan></text>
<text class="s" x="279.2" y="315.5" font-size="7.6" text-anchor="end">10<tspan font-size="4.6" dy="-2.9">3</tspan></text>
<text class="s" x="356.4" y="404" font-size="8">10<tspan font-size="4.8" dy="-3">3</tspan></text>
<rect x="294.50" y="308.40" width="26.90" height="52.90" fill="none" stroke="#000" stroke-width="1.6"/>
<text x="329" y="337.2" font-size="13.5" text-anchor="start" font-weight="normal" >8%</text>
<path d="M436.7 363.6h1.0M431.7 389.0h1.0M446.4 373.0h1.0M433.7 385.0h1.0M430.7 384.3h1.0M444.3 381.5h1.0M439.3 377.5h1.0M443.1 371.2h1.0M446.3 378.8h1.0M435.7 363.4h1.0M435.1 381.3h1.0M444.4 363.6h1.0M436.8 372.5h1.0M430.9 379.0h1.0M433.3 387.3h1.0M440.4 375.8h1.0M438.2 369.8h1.0M431.7 372.0h1.0M437.2 371.0h1.0M435.2 370.8h1.0M438.8 368.1h1.0M437.4 379.9h1.0M442.8 371.9h1.0M431.2 364.8h1.0M441.7 373.0h1.0M443.0 378.2h1.0M433.8 386.5h1.0M434.1 385.5h1.0M428.4 388.7h1.0M439.3 367.2h1.0M434.6 372.8h1.0M432.7 386.5h1.0M438.3 386.1h1.0M442.2 368.1h1.0M430.1 383.4h1.0M437.7 379.8h1.0M433.0 388.7h1.0M440.2 389.9h1.0M435.5 385.6h1.0M437.2 370.0h1.0M437.1 363.2h1.0M436.5 380.7h1.0M441.3 369.0h1.0M430.2 372.0h1.0M433.3 372.5h1.0M436.9 378.2h1.0M433.5 372.1h1.0M428.2 371.0h1.0M435.9 385.7h1.0M440.0 380.0h1.0M436.7 390.6h1.0M440.6 376.8h1.0M436.2 387.9h1.0M434.2 372.2h1.0M436.0 374.3h1.0M444.5 382.4h1.0M437.0 374.0h1.0M445.3 383.2h1.0M436.3 373.8h1.0M435.9 380.7h1.0M441.9 383.6h1.0M446.2 364.5h1.0M437.7 365.5h1.0M431.8 373.3h1.0M433.9 369.8h1.0M429.1 389.8h1.0M435.7 388.2h1.0M434.2 387.4h1.0M434.4 382.8h1.0M439.9 389.0h1.0M437.9 374.3h1.0M434.0 379.5h1.0M432.5 367.6h1.0M438.2 385.8h1.0M435.9 387.0h1.0M446.2 366.9h1.0M438.9 369.8h1.0M433.9 380.7h1.0M442.1 384.2h1.0M435.5 389.4h1.0M445.5 383.7h1.0M435.9 363.6h1.0M437.2 386.2h1.0M436.1 377.3h1.0M445.6 373.1h1.0M432.3 379.4h1.0M443.7 384.6h1.0M437.9 374.3h1.0M444.3 387.4h1.0M440.9 373.0h1.0M430.4 376.1h1.0M434.7 362.1h1.0M437.4 390.3h1.0M430.5 375.6h1.0M434.4 380.8h1.0M441.8 369.4h1.0M437.0 363.4h1.0M428.8 364.3h1.0M442.1 381.9h1.0M441.5 390.6h1.0M437.8 381.2h1.0M439.7 383.4h1.0M431.6 376.4h1.0M436.7 379.3h1.0M433.4 377.7h1.0M439.1 380.8h1.0M440.7 386.8h1.0M440.6 388.2h1.0M441.0 373.1h1.0M444.4 385.9h1.0M437.8 368.1h1.0M439.9 375.6h1.0M446.0 367.9h1.0M431.4 383.4h1.0M440.6 371.4h1.0M437.5 381.4h1.0M438.4 384.0h1.0M441.8 375.5h1.0M435.4 369.6h1.0M441.6 384.6h1.0M437.3 381.9h1.0M439.3 376.8h1.0M439.3 366.6h1.0M442.3 375.1h1.0M434.3 364.7h1.0M436.8 377.3h1.0M434.0 364.1h1.0M438.4 383.0h1.0M443.8 383.9h1.0M445.9 390.4h1.0M436.9 369.0h1.0M439.9 388.1h1.0M428.9 367.2h1.0M441.3 373.7h1.0M445.5 381.1h1.0M434.5 366.3h1.0M440.8 362.6h1.0M430.3 366.5h1.0M436.3 375.3h1.0M441.4 390.9h1.0M436.4 389.8h1.0M436.3 366.8h1.0M437.5 367.1h1.0M441.2 380.8h1.0M435.9 375.2h1.0M434.3 372.1h1.0M429.7 390.5h1.0M442.4 365.7h1.0M431.1 382.9h1.0M435.8 376.6h1.0M438.9 377.3h1.0M443.5 388.4h1.0M436.2 373.7h1.0M439.5 368.8h1.0M436.7 375.3h1.0M431.5 389.6h1.0M435.3 383.3h1.0M434.6 380.4h1.0M435.0 379.7h1.0M436.9 372.5h1.0M439.9 377.2h1.0M432.1 369.0h1.0M430.3 375.0h1.0M440.0 388.9h1.0M441.4 367.7h1.0M437.7 387.6h1.0M438.8 376.8h1.0M431.0 380.6h1.0M437.1 379.3h1.0M445.8 390.3h1.0M433.1 381.2h1.0M435.8 379.9h1.0M446.5 387.7h1.0M437.7 372.7h1.0M436.6 382.5h1.0M434.7 389.5h1.0M437.6 367.7h1.0M436.0 377.8h1.0M443.0 389.6h1.0M439.2 380.1h1.0M443.1 378.7h1.0M430.5 374.7h1.0M441.2 384.8h1.0M431.4 390.4h1.0M439.2 364.7h1.0M440.1 388.6h1.0M440.4 376.0h1.0M433.1 389.7h1.0M438.7 378.9h1.0M435.3 369.1h1.0M443.6 386.3h1.0M436.2 369.4h1.0M435.3 367.3h1.0M439.0 372.0h1.0M441.4 374.3h1.0M444.5 375.6h1.0M438.6 370.0h1.0M430.4 382.3h1.0M439.4 369.7h1.0M440.6 375.1h1.0M434.4 378.3h1.0M439.7 385.9h1.0M444.3 382.6h1.0M433.5 372.5h1.0M439.5 367.6h1.0M436.6 375.3h1.0M437.0 380.7h1.0M442.4 388.6h1.0M431.6 388.9h1.0M444.7 366.1h1.0M437.9 371.4h1.0M434.3 389.2h1.0M438.9 375.4h1.0M443.9 370.1h1.0M432.8 373.6h1.0M433.4 385.6h1.0M436.2 369.0h1.0M438.4 380.0h1.0M440.9 376.8h1.0M439.7 370.1h1.0M437.6 380.5h1.0M430.8 384.6h1.0M438.3 379.5h1.0M437.5 371.7h1.0M432.8 384.6h1.0M436.3 371.5h1.0M433.5 387.9h1.0M438.0 389.0h1.0M437.4 367.7h1.0M442.3 382.0h1.0M433.9 376.1h1.0M432.1 386.9h1.0M435.2 383.5h1.0M438.9 376.5h1.0M439.5 376.6h1.0M431.0 375.0h1.0M431.0 386.2h1.0M441.1 373.4h1.0M440.9 381.3h1.0M442.9 370.1h1.0M437.6 369.6h1.0M440.2 386.4h1.0M428.0 382.5h1.0M443.6 387.6h1.0M436.5 384.8h1.0M435.8 380.8h1.0M439.0 372.2h1.0M436.2 368.2h1.0M436.2 379.8h1.0M439.9 368.0h1.0M437.9 378.9h1.0M432.0 385.8h1.0M441.8 389.1h1.0M436.8 388.2h1.0M433.1 380.7h1.0M435.9 376.2h1.0M440.1 378.2h1.0M438.3 386.6h1.0M433.3 387.3h1.0M439.6 376.5h1.0M430.6 373.0h1.0M437.3 387.9h1.0M438.6 368.3h1.0M442.2 382.8h1.0M439.9 369.7h1.0M431.4 387.6h1.0M445.2 382.5h1.0M436.4 374.7h1.0M428.1 388.3h1.0M437.0 390.6h1.0M433.6 388.9h1.0M433.6 384.5h1.0M445.0 372.3h1.0M442.5 378.9h1.0M432.4 380.9h1.0M441.0 372.3h1.0M436.0 373.6h1.0M433.3 377.0h1.0M442.0 374.3h1.0M444.3 375.4h1.0M433.7 389.1h1.0M445.2 372.9h1.0M440.7 368.0h1.0M435.3 375.5h1.0M441.4 367.2h1.0M434.7 372.5h1.0M438.0 367.4h1.0M438.7 364.8h1.0M442.0 366.6h1.0M444.3 371.1h1.0M431.6 383.5h1.0M441.1 367.8h1.0M443.0 380.3h1.0M432.9 389.3h1.0M442.0 373.1h1.0M438.2 380.0h1.0M440.7 369.8h1.0M436.2 379.8h1.0M437.7 379.2h1.0M438.9 377.2h1.0M434.8 388.7h1.0M434.0 376.0h1.0M432.7 368.2h1.0M439.9 378.6h1.0M436.8 383.2h1.0M436.6 385.4h1.0M441.3 363.4h1.0M444.7 381.0h1.0M442.1 368.2h1.0M432.9 372.9h1.0M440.5 368.5h1.0M433.7 387.9h1.0M434.0 380.1h1.0M432.6 363.1h1.0M437.0 377.9h1.0M429.7 388.1h1.0M441.9 387.3h1.0M434.7 368.3h1.0M437.0 380.5h1.0M436.6 373.5h1.0M432.1 372.1h1.0M437.0 374.4h1.0M446.5 376.4h1.0M439.9 374.6h1.0M436.5 369.9h1.0M434.9 365.0h1.0M431.8 383.0h1.0M436.8 373.7h1.0M441.4 373.8h1.0M439.8 375.5h1.0M442.7 387.9h1.0M437.8 389.2h1.0M436.8 364.6h1.0M438.6 381.2h1.0M435.5 377.1h1.0M436.0 367.3h1.0M446.8 371.8h1.0M431.7 364.3h1.0M432.9 378.6h1.0M445.4 384.6h1.0M433.6 367.4h1.0M431.5 378.2h1.0M442.2 374.5h1.0M443.4 378.1h1.0M441.1 388.2h1.0M432.1 379.6h1.0M438.4 372.0h1.0M441.2 377.8h1.0M436.7 388.6h1.0M433.4 380.4h1.0M440.4 376.5h1.0M443.3 380.6h1.0M437.1 367.1h1.0M435.7 372.3h1.0M435.9 381.0h1.0M430.3 388.8h1.0M436.1 384.6h1.0M435.9 375.4h1.0M433.9 381.9h1.0M439.7 369.9h1.0M435.8 388.9h1.0M442.2 378.0h1.0M429.8 375.6h1.0M433.6 390.5h1.0M428.4 387.5h1.0M429.2 373.7h1.0M429.9 372.5h1.0M435.1 382.4h1.0M434.3 385.4h1.0M446.9 380.5h1.0M431.3 377.3h1.0M436.9 375.6h1.0M443.7 389.7h1.0M441.1 371.5h1.0M434.2 387.4h1.0M438.2 368.5h1.0M437.5 367.6h1.0M437.2 367.9h1.0M432.5 374.2h1.0M431.1 374.0h1.0M443.2 386.4h1.0M441.2 376.0h1.0M438.2 371.8h1.0M436.5 371.5h1.0M429.7 369.7h1.0M433.4 378.0h1.0M435.0 390.3h1.0M437.3 373.1h1.0M441.1 381.9h1.0M433.8 371.8h1.0M438.2 363.7h1.0M432.6 388.4h1.0M442.1 389.3h1.0M435.1 373.4h1.0M436.0 374.5h1.0M444.3 376.9h1.0M444.7 372.4h1.0M433.5 372.9h1.0M434.2 364.0h1.0M435.9 373.0h1.0M442.6 378.6h1.0M439.0 385.6h1.0M434.4 379.3h1.0M445.0 380.5h1.0M430.3 387.2h1.0M437.2 389.8h1.0M437.7 380.6h1.0M441.0 372.2h1.0M432.8 387.6h1.0M441.1 386.6h1.0M444.8 366.5h1.0M437.7 382.1h1.0M443.0 389.1h1.0M432.4 376.4h1.0M436.6 372.5h1.0M433.0 372.8h1.0M437.9 368.8h1.0M433.9 380.9h1.0M442.9 390.3h1.0M432.6 387.9h1.0M434.6 384.5h1.0M434.6 381.2h1.0M439.7 375.1h1.0M437.9 384.5h1.0M428.6 373.0h1.0M432.3 383.8h1.0M441.1 383.1h1.0M440.6 373.4h1.0M446.0 368.5h1.0M440.2 376.5h1.0M428.3 387.4h1.0M436.0 385.6h1.0M444.2 380.5h1.0M433.9 377.0h1.0M441.5 371.9h1.0M442.4 388.0h1.0M436.8 383.3h1.0M435.7 367.2h1.0M436.9 386.1h1.0M433.1 389.1h1.0M438.6 389.4h1.0M433.4 375.1h1.0M432.1 371.7h1.0M440.2 380.3h1.0M434.8 381.8h1.0M430.4 375.3h1.0M429.4 365.0h1.0M430.2 368.7h1.0M444.2 373.6h1.0M440.8 368.4h1.0M434.5 381.2h1.0M428.9 380.8h1.0M436.8 380.3h1.0M431.4 384.3h1.0M438.1 372.1h1.0M446.2 381.4h1.0M434.8 376.9h1.0M428.1 376.9h1.0M440.4 380.9h1.0M430.7 371.0h1.0M438.0 381.8h1.0M432.5 376.9h1.0M433.1 384.8h1.0M440.8 373.8h1.0M435.0 367.5h1.0M437.3 387.0h1.0M435.7 370.5h1.0M443.0 387.6h1.0M433.9 389.2h1.0M437.3 378.6h1.0M439.1 376.0h1.0M438.5 388.9h1.0M439.9 371.9h1.0M439.8 377.9h1.0M439.1 377.2h1.0M441.1 374.7h1.0M438.7 388.2h1.0M438.4 366.7h1.0M442.6 374.0h1.0M434.3 380.8h1.0M439.8 367.3h1.0M437.4 379.5h1.0M432.6 382.3h1.0M446.1 369.5h1.0M435.5 372.0h1.0M440.2 382.8h1.0M437.2 385.2h1.0M433.2 375.4h1.0M437.2 379.6h1.0M444.5 379.7h1.0M444.4 381.2h1.0M443.6 380.7h1.0M432.5 371.0h1.0M432.9 387.8h1.0M429.2 387.6h1.0M439.4 384.9h1.0M430.9 382.6h1.0M442.5 378.5h1.0M442.9 379.2h1.0M439.3 376.0h1.0M430.1 377.5h1.0M440.1 371.8h1.0M444.5 376.9h1.0M433.3 390.7h1.0M436.5 364.8h1.0M435.0 370.7h1.0M436.4 370.4h1.0M437.8 383.3h1.0M434.3 377.1h1.0M436.6 386.8h1.0M433.5 386.1h1.0M444.1 377.2h1.0M432.2 376.1h1.0M431.0 377.4h1.0M435.4 383.9h1.0M438.0 383.0h1.0M437.2 381.7h1.0M431.3 385.3h1.0M444.4 389.5h1.0M430.2 383.0h1.0M428.6 386.2h1.0M436.3 374.6h1.0M433.4 376.8h1.0M437.4 369.9h1.0M437.7 381.5h1.0M440.3 378.6h1.0M442.9 382.1h1.0M429.9 384.9h1.0M436.5 382.6h1.0M437.6 379.9h1.0M439.5 376.3h1.0M432.8 374.0h1.0M439.2 380.4h1.0M443.6 383.0h1.0M437.7 378.4h1.0M436.2 388.5h1.0M430.6 369.1h1.0M435.0 369.9h1.0M433.4 390.3h1.0M430.3 376.7h1.0M434.3 369.6h1.0M429.4 379.7h1.0M435.3 389.4h1.0M433.1 376.3h1.0M440.0 387.9h1.0M432.3 383.5h1.0M437.3 389.9h1.0M435.2 377.0h1.0M432.8 366.4h1.0M438.9 385.8h1.0M443.5 381.6h1.0M434.9 370.3h1.0M431.1 372.1h1.0M439.3 379.9h1.0M435.9 369.1h1.0M437.3 384.0h1.0M431.8 366.2h1.0M435.7 381.5h1.0M438.2 369.5h1.0M441.7 372.9h1.0M441.2 379.9h1.0M444.1 369.5h1.0M441.4 383.0h1.0M432.5 385.7h1.0M433.3 377.6h1.0M444.5 381.4h1.0M445.5 372.8h1.0M444.6 364.0h1.0M436.5 376.2h1.0M434.8 390.6h1.0M434.2 382.3h1.0M435.2 372.1h1.0M442.3 389.5h1.0M432.6 386.6h1.0M435.3 387.0h1.0M429.4 379.9h1.0M442.4 373.5h1.0M446.1 370.7h1.0M436.4 387.8h1.0M436.3 373.7h1.0M437.4 385.2h1.0M428.4 378.6h1.0M435.2 369.5h1.0M434.6 378.4h1.0M437.8 387.7h1.0M432.5 389.9h1.0M437.7 386.0h1.0M444.3 367.2h1.0M446.2 372.2h1.0M439.7 389.3h1.0M442.5 364.1h1.0M438.4 389.8h1.0M436.8 378.2h1.0M434.5 370.0h1.0M431.4 374.0h1.0M436.2 382.3h1.0M437.0 362.7h1.0M428.9 385.5h1.0M441.4 366.1h1.0M428.4 383.9h1.0M437.3 374.7h1.0M435.5 376.9h1.0M436.9 370.4h1.0M434.4 384.3h1.0M440.4 366.4h1.0M430.1 369.1h1.0M435.4 369.0h1.0M431.5 372.4h1.0M436.5 386.9h1.0M440.6 362.3h1.0M445.7 375.9h1.0M432.0 378.7h1.0M435.3 365.8h1.0M446.1 373.5h1.0M434.2 384.1h1.0M446.7 383.6h1.0M432.5 383.2h1.0M443.6 382.6h1.0M441.1 374.4h1.0M437.1 363.0h1.0M433.5 368.2h1.0M432.4 378.2h1.0M443.9 371.6h1.0M433.2 390.6h1.0M439.5 384.0h1.0M442.1 371.9h1.0M438.7 372.7h1.0M433.5 380.3h1.0M439.9 366.9h1.0M433.3 384.8h1.0M438.4 385.3h1.0M435.8 371.3h1.0M441.8 384.7h1.0M433.3 385.4h1.0M446.2 376.3h1.0M432.1 381.5h1.0M438.0 384.4h1.0M429.8 381.3h1.0M442.4 385.7h1.0M441.0 390.4h1.0M432.9 390.7h1.0M438.6 369.5h1.0M435.9 381.6h1.0M438.6 374.1h1.0M433.0 387.8h1.0M435.2 371.5h1.0M431.6 390.3h1.0M431.6 380.0h1.0M435.0 377.2h1.0M433.0 380.5h1.0M440.8 389.1h1.0M435.5 367.9h1.0M429.3 379.1h1.0M437.7 380.2h1.0M429.8 372.9h1.0M433.4 385.5h1.0M435.2 384.9h1.0M434.7 380.3h1.0M436.8 367.4h1.0M441.0 374.8h1.0M445.2 390.0h1.0M444.0 388.1h1.0M439.7 380.3h1.0M442.0 370.6h1.0M438.3 372.4h1.0M436.0 370.0h1.0M432.9 380.9h1.0M438.2 387.0h1.0M437.0 385.1h1.0M441.3 372.4h1.0M428.2 372.6h1.0M436.1 374.0h1.0M440.1 371.8h1.0M441.3 367.1h1.0M442.8 380.8h1.0M435.3 367.7h1.0M446.7 373.6h1.0M443.0 384.9h1.0M435.5 380.3h1.0M431.2 366.4h1.0M438.2 386.0h1.0M438.4 367.4h1.0M442.2 379.9h1.0M441.6 376.4h1.0M436.0 389.1h1.0M445.1 367.7h1.0M431.4 388.3h1.0M439.5 379.6h1.0M432.1 388.7h1.0M438.5 381.2h1.0M439.6 374.1h1.0M439.7 380.4h1.0M441.5 382.7h1.0M430.4 372.4h1.0M436.0 390.1h1.0M433.9 389.9h1.0M443.5 387.4h1.0M439.3 390.7h1.0M439.7 388.5h1.0M443.5 377.3h1.0M432.6 376.3h1.0M435.9 390.0h1.0M439.3 378.5h1.0M437.4 370.6h1.0M434.0 374.7h1.0M436.2 368.1h1.0M435.3 388.6h1.0M440.0 379.1h1.0M439.4 376.8h1.0M431.0 387.5h1.0M430.8 384.1h1.0M435.6 376.5h1.0M428.4 378.4h1.0M439.7 364.0h1.0M436.3 374.5h1.0M432.0 385.1h1.0M446.6 383.1h1.0M443.2 386.3h1.0M437.1 384.6h1.0M444.8 375.1h1.0M436.7 366.1h1.0M442.4 382.6h1.0M438.0 386.5h1.0M445.1 371.5h1.0M432.7 383.0h1.0M437.2 373.6h1.0M436.8 372.3h1.0M438.2 375.5h1.0M446.9 369.3h1.0M440.7 379.9h1.0M446.2 370.0h1.0M433.9 375.6h1.0M435.3 369.9h1.0M436.7 372.0h1.0M430.0 385.4h1.0M434.6 384.3h1.0M441.0 383.1h1.0M438.2 378.9h1.0M435.6 375.0h1.0M438.3 383.9h1.0M442.6 377.1h1.0M444.2 370.3h1.0M430.9 378.1h1.0M440.1 389.0h1.0M437.9 366.9h1.0M444.2 377.5h1.0M439.9 376.1h1.0M436.9 366.2h1.0M441.2 373.2h1.0M437.3 388.2h1.0M442.0 367.7h1.0M436.5 379.1h1.0M438.0 369.2h1.0M437.9 388.4h1.0M436.0 374.0h1.0M442.5 379.1h1.0M439.5 383.7h1.0M434.4 381.5h1.0M442.9 385.9h1.0M433.7 388.1h1.0M441.5 384.6h1.0M435.2 378.9h1.0M435.1 376.3h1.0M435.9 376.1h1.0M438.0 380.0h1.0M434.1 377.9h1.0M437.0 383.7h1.0M439.9 375.7h1.0M432.9 363.7h1.0M430.6 382.9h1.0M436.6 375.5h1.0M436.6 374.0h1.0M434.0 379.7h1.0M429.5 380.4h1.0M437.0 370.6h1.0M443.2 382.5h1.0M443.5 372.8h1.0M430.6 368.0h1.0M446.1 374.6h1.0M438.6 374.1h1.0M438.2 370.6h1.0M442.4 386.1h1.0M436.6 388.5h1.0M433.1 367.9h1.0M436.1 376.7h1.0M444.3 369.8h1.0M443.8 371.8h1.0M430.5 363.2h1.0M437.3 365.5h1.0M438.7 379.5h1.0M434.6 383.3h1.0M437.6 374.0h1.0M438.6 385.2h1.0M437.4 371.8h1.0M441.8 372.7h1.0M439.5 388.2h1.0M443.2 380.4h1.0M436.4 380.8h1.0M441.1 371.3h1.0M445.9 364.1h1.0M443.0 367.1h1.0M431.5 374.3h1.0M435.9 366.4h1.0M440.9 378.0h1.0M444.9 369.5h1.0M436.3 388.2h1.0M446.2 366.3h1.0M432.9 370.0h1.0M439.9 389.7h1.0M442.0 381.1h1.0M439.2 387.2h1.0M440.3 378.2h1.0M433.7 375.3h1.0M437.6 375.5h1.0M435.6 372.4h1.0M442.2 376.8h1.0M436.9 377.0h1.0M444.7 374.0h1.0M445.3 371.0h1.0M445.9 384.8h1.0M434.8 383.3h1.0M443.8 370.1h1.0M436.3 382.0h1.0M436.4 376.3h1.0M437.6 382.0h1.0M436.8 365.4h1.0M435.1 375.8h1.0M434.0 377.8h1.0M441.1 382.8h1.0M442.2 377.5h1.0M436.2 390.4h1.0M447.0 382.6h1.0M438.4 371.0h1.0M440.9 364.0h1.0M436.6 377.1h1.0M446.0 377.3h1.0M431.1 371.3h1.0M441.3 380.1h1.0M437.7 377.5h1.0M438.2 382.4h1.0M434.9 376.4h1.0M438.8 368.8h1.0M441.0 377.9h1.0M433.5 390.4h1.0M436.3 388.7h1.0M439.7 383.5h1.0M433.5 365.6h1.0M438.9 372.5h1.0M437.0 379.0h1.0M433.0 389.3h1.0M438.9 389.0h1.0M435.9 372.8h1.0M434.6 370.8h1.0M440.0 380.3h1.0M431.6 364.6h1.0M432.7 364.8h1.0M441.4 368.1h1.0M434.3 377.9h1.0M437.7 383.0h1.0M441.7 385.1h1.0M435.6 390.8h1.0M439.6 372.4h1.0M445.7 367.9h1.0M440.1 390.9h1.0M438.2 382.3h1.0M438.2 385.3h1.0M438.8 379.1h1.0M438.9 376.2h1.0M433.9 385.2h1.0M435.4 367.9h1.0M436.0 383.8h1.0M444.0 388.9h1.0M438.8 377.5h1.0M438.6 390.4h1.0M436.8 390.0h1.0M433.2 378.9h1.0M441.7 385.6h1.0M438.6 374.2h1.0M432.9 375.2h1.0M446.1 371.8h1.0M442.1 378.8h1.0M431.5 380.1h1.0M441.6 367.9h1.0M431.2 375.5h1.0M441.5 373.4h1.0M439.8 383.3h1.0M437.6 383.3h1.0M444.4 377.2h1.0M439.3 369.0h1.0M433.6 378.1h1.0M441.9 372.7h1.0M430.0 387.7h1.0M431.8 380.2h1.0M440.2 370.1h1.0M439.3 389.4h1.0M436.0 385.9h1.0M438.2 370.3h1.0M434.2 373.3h1.0M444.7 389.9h1.0M438.8 364.3h1.0" stroke="#000" stroke-width="1.0" stroke-opacity="1" fill="none"/>
<path d="M436.7 324.5h1.0M430.7 327.4h1.0M440.0 317.7h1.0M437.0 324.1h1.0M446.6 332.4h1.0M442.1 328.2h1.0M433.4 334.4h1.0M436.0 313.3h1.0M441.9 325.0h1.0M438.8 331.3h1.0M437.8 330.6h1.0M444.3 325.1h1.0M437.3 327.6h1.0M441.5 324.5h1.0M439.2 322.5h1.0M438.5 331.5h1.0M435.4 326.2h1.0M432.7 322.3h1.0M439.1 331.4h1.0M434.5 326.8h1.0M434.9 329.9h1.0M439.9 330.8h1.0M437.9 317.0h1.0M436.5 317.6h1.0M436.0 327.1h1.0M443.3 322.7h1.0M435.6 329.0h1.0M430.1 342.2h1.0M432.3 335.0h1.0M442.9 334.6h1.0M438.4 332.9h1.0M437.4 334.6h1.0M436.1 321.5h1.0M440.4 324.2h1.0M441.6 321.2h1.0M439.9 320.3h1.0M438.4 343.4h1.0M434.3 318.4h1.0M432.1 325.8h1.0M445.6 324.2h1.0M442.7 326.2h1.0M436.2 342.3h1.0M443.3 313.9h1.0M434.7 330.6h1.0M441.5 325.9h1.0M440.1 331.5h1.0M437.3 334.9h1.0M435.3 333.1h1.0M442.6 329.0h1.0M437.4 327.4h1.0M429.5 329.4h1.0M432.9 312.6h1.0M442.0 320.8h1.0M440.3 327.8h1.0M431.5 320.9h1.0M437.7 331.0h1.0M439.1 318.2h1.0M436.6 328.3h1.0M433.5 324.3h1.0M446.0 334.0h1.0M436.9 334.5h1.0M434.5 338.8h1.0M437.3 328.5h1.0M436.4 328.2h1.0M440.2 327.7h1.0M435.4 333.1h1.0M441.1 327.5h1.0M443.2 322.1h1.0M444.1 326.3h1.0M445.1 324.2h1.0M437.8 329.1h1.0M443.4 338.1h1.0M436.9 322.1h1.0M442.0 336.7h1.0M441.7 325.1h1.0M444.1 327.3h1.0M439.5 332.1h1.0M439.7 332.8h1.0M440.6 331.5h1.0M439.5 335.2h1.0M439.3 338.5h1.0M439.0 333.4h1.0M436.5 329.7h1.0M440.6 328.5h1.0M445.2 327.8h1.0M443.5 330.1h1.0M443.4 320.9h1.0M437.3 334.6h1.0M435.4 330.4h1.0M441.2 328.9h1.0M440.6 331.5h1.0M437.8 330.6h1.0M436.7 324.2h1.0M432.2 326.7h1.0M431.7 327.7h1.0M439.7 319.5h1.0M439.1 329.6h1.0M437.4 320.8h1.0M438.3 330.5h1.0M442.7 341.8h1.0M430.6 330.0h1.0M440.6 322.8h1.0M440.1 343.0h1.0M439.3 337.6h1.0M443.2 324.2h1.0M429.2 336.1h1.0M445.2 314.5h1.0M438.0 322.4h1.0M439.7 328.0h1.0M443.6 323.1h1.0M446.8 314.9h1.0M439.7 347.3h1.0M438.4 332.2h1.0M442.5 324.9h1.0M430.8 329.1h1.0M436.8 331.7h1.0M428.8 326.1h1.0M432.2 317.6h1.0M440.5 335.9h1.0M443.7 322.6h1.0M440.9 314.4h1.0M432.6 331.5h1.0M437.1 320.0h1.0M431.0 325.8h1.0M434.5 335.8h1.0M430.8 322.9h1.0M439.1 335.9h1.0M438.5 341.0h1.0M438.7 326.7h1.0M440.6 330.1h1.0M432.6 320.5h1.0M437.8 330.0h1.0M433.7 322.2h1.0M435.7 330.0h1.0M437.0 332.0h1.0M440.4 320.7h1.0M437.6 318.3h1.0M439.3 333.5h1.0M434.7 314.4h1.0M441.0 325.4h1.0M438.7 330.9h1.0M440.4 334.4h1.0M436.8 325.2h1.0M437.1 330.4h1.0M437.8 337.1h1.0M436.2 327.5h1.0M437.3 343.2h1.0M434.8 320.1h1.0M437.2 333.2h1.0M438.9 326.2h1.0M437.9 325.7h1.0M446.2 330.3h1.0M440.6 334.7h1.0M435.1 318.3h1.0M437.3 338.5h1.0M442.9 323.2h1.0M433.6 334.4h1.0M443.4 319.3h1.0M445.5 321.7h1.0M441.9 326.0h1.0M437.4 322.9h1.0M441.7 332.1h1.0M442.2 325.4h1.0M435.2 343.5h1.0M446.0 326.1h1.0M434.0 338.7h1.0M439.4 327.9h1.0M442.4 330.1h1.0M439.3 342.3h1.0M430.9 332.3h1.0M434.7 328.1h1.0M438.1 329.5h1.0M428.7 332.7h1.0M442.6 332.2h1.0M440.1 323.8h1.0M441.5 329.5h1.0M444.9 333.7h1.0M445.2 331.1h1.0M439.5 323.0h1.0M439.2 324.8h1.0M441.2 337.6h1.0M441.0 334.6h1.0M439.9 330.2h1.0M433.4 328.4h1.0M439.0 327.0h1.0M437.8 329.8h1.0M436.4 326.0h1.0M433.3 344.8h1.0M435.0 318.5h1.0M436.5 324.4h1.0M445.8 335.1h1.0M437.2 331.7h1.0M434.1 315.4h1.0M440.2 331.8h1.0M435.9 327.5h1.0M443.3 328.8h1.0M439.6 331.8h1.0M429.9 317.9h1.0M433.4 329.3h1.0M436.1 313.4h1.0M442.6 326.1h1.0M443.0 342.5h1.0M431.8 318.0h1.0M443.4 338.0h1.0M440.5 330.2h1.0M441.8 332.4h1.0M433.4 333.1h1.0M443.0 324.5h1.0M434.9 323.8h1.0M436.3 331.5h1.0M442.1 327.7h1.0M437.5 314.3h1.0M437.0 320.1h1.0M436.4 330.1h1.0M435.1 323.5h1.0M433.9 325.6h1.0M437.6 335.0h1.0M430.5 334.3h1.0M441.5 323.6h1.0M435.9 329.0h1.0M441.0 326.3h1.0M438.1 327.6h1.0M434.2 329.5h1.0M441.3 327.9h1.0M433.9 327.5h1.0M438.3 329.9h1.0M437.0 333.7h1.0M443.4 333.7h1.0M439.8 336.6h1.0M438.6 326.3h1.0M432.7 327.6h1.0M444.0 320.4h1.0M442.1 318.1h1.0M440.1 341.1h1.0M439.0 318.8h1.0M440.0 326.4h1.0M442.2 323.6h1.0M431.4 324.0h1.0M441.3 335.1h1.0M440.0 327.7h1.0M441.7 326.1h1.0M436.8 329.2h1.0M443.5 323.8h1.0M440.9 322.8h1.0M435.6 328.8h1.0M433.1 321.2h1.0M433.7 323.1h1.0M434.9 344.7h1.0M441.4 328.1h1.0M440.7 322.9h1.0M443.3 324.6h1.0M433.2 322.8h1.0M432.3 317.1h1.0M441.8 323.6h1.0M441.7 323.4h1.0M437.8 323.5h1.0M436.4 322.7h1.0M445.2 327.1h1.0M430.4 340.0h1.0M444.1 335.8h1.0M438.3 326.4h1.0M436.7 328.4h1.0M440.8 327.5h1.0M435.3 320.4h1.0M445.9 339.9h1.0M433.5 322.8h1.0M438.6 331.8h1.0M438.3 329.3h1.0M440.3 335.9h1.0M433.2 335.5h1.0M440.6 331.5h1.0M432.3 325.8h1.0M437.6 332.2h1.0M441.7 332.5h1.0M433.2 336.7h1.0M439.0 334.3h1.0M438.7 322.4h1.0M442.0 324.2h1.0M437.8 335.6h1.0M440.7 340.3h1.0M443.9 319.7h1.0M432.2 336.0h1.0M441.3 325.6h1.0M437.5 323.5h1.0M446.4 326.3h1.0M432.8 334.1h1.0M438.4 330.1h1.0M437.1 327.2h1.0M430.7 331.4h1.0M435.8 324.8h1.0M440.1 336.8h1.0M429.5 326.6h1.0M441.1 334.9h1.0M434.8 329.9h1.0M440.4 334.3h1.0M436.1 326.2h1.0M436.5 335.8h1.0M443.4 324.3h1.0M438.2 329.1h1.0M434.9 326.7h1.0M442.4 333.2h1.0M435.8 322.8h1.0M438.2 316.9h1.0M440.1 328.4h1.0M433.0 325.9h1.0M435.9 325.6h1.0M435.0 337.4h1.0M434.6 333.1h1.0M439.6 338.0h1.0M438.5 327.6h1.0M439.0 314.0h1.0M437.4 319.5h1.0M438.1 339.1h1.0M435.5 330.7h1.0M443.2 334.4h1.0M437.0 315.0h1.0M440.5 331.7h1.0M437.3 324.5h1.0M446.2 316.2h1.0M436.5 323.2h1.0M432.0 322.6h1.0M435.3 336.5h1.0M431.2 317.7h1.0M439.8 316.5h1.0M430.1 323.1h1.0M433.5 320.6h1.0M438.0 330.8h1.0M435.9 325.6h1.0M441.8 326.5h1.0M441.9 323.4h1.0M440.8 336.7h1.0M432.8 349.0h1.0M437.3 325.2h1.0M438.0 330.9h1.0M433.5 327.9h1.0M436.2 337.8h1.0M431.3 332.2h1.0M437.4 322.3h1.0M439.3 325.9h1.0M438.9 329.3h1.0M443.9 324.7h1.0M446.5 336.2h1.0M445.4 329.0h1.0M439.9 320.4h1.0M444.5 319.3h1.0M435.3 327.6h1.0M439.7 330.0h1.0M433.7 325.1h1.0M440.8 336.0h1.0M442.0 330.5h1.0M437.6 323.7h1.0M436.5 326.9h1.0M441.0 324.0h1.0M447.5 320.5h1.0M442.2 326.2h1.0M438.1 324.9h1.0M445.3 325.5h1.0M441.1 328.4h1.0M441.9 331.8h1.0M445.8 322.4h1.0M435.2 339.6h1.0M444.2 328.1h1.0M437.5 329.4h1.0M444.3 322.2h1.0M444.9 327.2h1.0M437.2 324.8h1.0M429.7 329.9h1.0M433.1 323.6h1.0M434.9 329.3h1.0M441.8 327.9h1.0M439.5 330.5h1.0M445.6 331.7h1.0M445.4 327.2h1.0M440.2 323.0h1.0M441.3 321.5h1.0M440.7 323.1h1.0M437.2 336.2h1.0M439.3 333.2h1.0M437.7 314.4h1.0M445.0 326.3h1.0M435.9 334.3h1.0M433.9 322.3h1.0M443.6 322.7h1.0M443.6 325.5h1.0M437.8 328.1h1.0M436.6 335.2h1.0M443.4 328.1h1.0M441.3 331.4h1.0M445.9 316.4h1.0M443.1 334.1h1.0M437.4 327.7h1.0M437.2 336.4h1.0M433.8 331.9h1.0M444.2 331.7h1.0M436.7 324.4h1.0M429.6 320.4h1.0M443.4 320.9h1.0M431.7 325.9h1.0M432.3 330.9h1.0M435.0 334.3h1.0M438.2 317.6h1.0M435.4 323.1h1.0M435.1 336.4h1.0M434.4 330.2h1.0M436.2 331.8h1.0M432.6 316.6h1.0M440.9 337.7h1.0M432.8 325.4h1.0M436.5 321.0h1.0M442.9 328.0h1.0M432.8 326.1h1.0M444.4 322.6h1.0M436.5 321.8h1.0M439.4 323.7h1.0M442.5 321.8h1.0M432.5 330.8h1.0M439.9 329.4h1.0M436.3 324.5h1.0M435.3 326.4h1.0M436.8 331.5h1.0M438.8 331.5h1.0M445.7 325.7h1.0M437.5 330.3h1.0M447.7 325.1h1.0M446.0 336.0h1.0M434.5 330.4h1.0M444.4 328.0h1.0M439.4 342.9h1.0M440.3 342.8h1.0M434.9 339.3h1.0M435.2 324.3h1.0M438.5 333.0h1.0M441.7 331.3h1.0M435.5 340.2h1.0M443.9 327.9h1.0M436.3 327.3h1.0M437.8 322.7h1.0M438.7 322.9h1.0M441.5 323.0h1.0M440.8 329.9h1.0M439.4 331.3h1.0M434.3 345.8h1.0M435.8 332.8h1.0M438.8 324.6h1.0M446.2 335.4h1.0M437.6 331.6h1.0M441.7 338.8h1.0M443.1 326.4h1.0M437.7 319.4h1.0M439.9 333.7h1.0M437.1 332.3h1.0M439.3 324.3h1.0M433.5 335.5h1.0M434.1 320.3h1.0M439.8 332.2h1.0M446.7 328.8h1.0M439.3 330.4h1.0M437.2 325.6h1.0M443.3 315.3h1.0M438.3 331.6h1.0M431.7 326.5h1.0M445.3 330.3h1.0M441.8 332.6h1.0M439.7 330.2h1.0M435.3 326.1h1.0M446.7 318.9h1.0M438.0 318.6h1.0M436.5 322.1h1.0M433.5 329.3h1.0M434.7 331.4h1.0M438.0 312.7h1.0M438.2 330.3h1.0M439.7 336.2h1.0M439.4 315.3h1.0M445.2 320.9h1.0M438.4 329.9h1.0M435.0 328.2h1.0M445.2 315.6h1.0M431.6 324.4h1.0M438.0 318.5h1.0M428.9 334.1h1.0M440.4 318.2h1.0M441.2 327.2h1.0M439.5 318.1h1.0M437.8 331.0h1.0M431.2 320.1h1.0M442.9 341.8h1.0M441.6 327.1h1.0M434.1 324.7h1.0M437.7 330.7h1.0M437.7 345.3h1.0M433.7 327.6h1.0M443.0 330.5h1.0M444.6 331.8h1.0M440.8 338.5h1.0M436.9 323.7h1.0M434.4 329.4h1.0M440.7 334.3h1.0M445.0 332.1h1.0M444.1 325.8h1.0M434.6 332.8h1.0M443.1 337.2h1.0M438.1 324.2h1.0M437.2 330.2h1.0M438.6 326.3h1.0M439.9 325.5h1.0M440.2 323.3h1.0M432.1 325.4h1.0M446.9 321.8h1.0M442.7 337.2h1.0M436.4 329.4h1.0M429.0 331.7h1.0M445.4 328.9h1.0M430.2 323.4h1.0M435.6 328.4h1.0M440.0 324.6h1.0M437.5 321.7h1.0M441.3 329.0h1.0M440.3 324.0h1.0M440.9 325.4h1.0M440.1 326.4h1.0M435.9 319.7h1.0M430.8 317.8h1.0M431.7 321.7h1.0M437.9 319.2h1.0M440.6 342.6h1.0M444.1 319.2h1.0M438.3 323.0h1.0M442.1 317.1h1.0M440.1 329.1h1.0M441.2 330.6h1.0M439.5 314.7h1.0M437.4 320.7h1.0M441.1 325.9h1.0M439.4 335.5h1.0M438.3 339.7h1.0M442.4 316.8h1.0M436.3 336.3h1.0M436.6 336.2h1.0M436.4 326.7h1.0M443.2 316.2h1.0M439.1 324.3h1.0M439.5 339.9h1.0M440.9 317.8h1.0M442.9 324.3h1.0M439.5 335.9h1.0M437.5 334.5h1.0M439.6 321.0h1.0M437.5 317.7h1.0M443.9 328.7h1.0M443.0 319.5h1.0M442.4 318.9h1.0M440.0 327.4h1.0M436.3 329.8h1.0M438.9 321.2h1.0M435.6 318.1h1.0M444.7 328.6h1.0M437.2 332.5h1.0M435.1 319.1h1.0M440.3 339.0h1.0M440.1 328.6h1.0M446.3 316.3h1.0M438.5 317.8h1.0M433.6 325.8h1.0M436.1 329.5h1.0M434.4 325.7h1.0M437.5 325.4h1.0M436.6 326.7h1.0M431.1 324.3h1.0M436.6 320.0h1.0M444.2 342.0h1.0M442.2 321.2h1.0M444.9 331.1h1.0M435.3 331.9h1.0M436.3 331.7h1.0M442.8 335.9h1.0M434.3 326.6h1.0M438.8 318.6h1.0M440.6 332.5h1.0M432.9 323.5h1.0M434.0 318.3h1.0M434.2 337.5h1.0M435.9 324.6h1.0M443.1 335.0h1.0M442.1 314.7h1.0M436.1 324.5h1.0M436.3 341.8h1.0M438.1 336.0h1.0M438.0 327.1h1.0M441.0 330.7h1.0M441.0 314.9h1.0M441.0 329.8h1.0M441.4 327.1h1.0M440.6 318.0h1.0M443.7 318.7h1.0M444.8 334.9h1.0M438.5 325.4h1.0M442.1 325.3h1.0M433.7 329.5h1.0M433.5 324.2h1.0M446.5 333.4h1.0M436.9 327.0h1.0M436.0 327.4h1.0M432.6 332.5h1.0M438.9 323.0h1.0M436.2 346.7h1.0M436.9 324.0h1.0M436.3 323.9h1.0M444.4 332.4h1.0M440.6 330.2h1.0M445.3 332.7h1.0M439.7 329.5h1.0M439.7 327.7h1.0M441.2 327.8h1.0M443.0 329.7h1.0M437.6 331.9h1.0M439.6 324.3h1.0M437.2 324.4h1.0M437.5 324.3h1.0M443.0 348.8h1.0M438.3 335.7h1.0M436.8 326.4h1.0M435.6 317.6h1.0M435.1 323.8h1.0M439.5 325.0h1.0M433.6 324.8h1.0M445.3 321.1h1.0M439.1 334.9h1.0M435.3 323.3h1.0M436.5 328.7h1.0M439.2 328.6h1.0M440.8 325.3h1.0M429.3 320.5h1.0M439.4 317.5h1.0M437.4 338.5h1.0M439.8 322.7h1.0M439.4 335.2h1.0M431.4 318.4h1.0M436.0 324.3h1.0M438.4 323.3h1.0M439.3 328.1h1.0M433.8 322.9h1.0M433.5 329.6h1.0M439.9 332.3h1.0M435.0 323.6h1.0M429.3 327.6h1.0M431.9 330.0h1.0M443.4 330.7h1.0M441.5 329.2h1.0M440.4 334.3h1.0M444.2 342.2h1.0M437.7 333.6h1.0M442.5 330.6h1.0M440.0 318.3h1.0M443.5 321.1h1.0M436.0 321.3h1.0M441.2 320.5h1.0M440.8 331.6h1.0M439.2 325.0h1.0M441.4 337.0h1.0M436.8 319.8h1.0M436.2 321.1h1.0M437.8 326.4h1.0M428.9 338.1h1.0M435.3 324.4h1.0M430.4 313.2h1.0M434.4 329.2h1.0M442.4 314.3h1.0M439.8 338.5h1.0M437.6 334.2h1.0M440.1 320.8h1.0M443.1 323.1h1.0M440.3 324.6h1.0M437.9 328.6h1.0M444.5 315.2h1.0M434.0 328.2h1.0M443.0 326.1h1.0M438.0 331.3h1.0M445.6 320.9h1.0M431.9 325.4h1.0M442.1 317.9h1.0M443.6 334.3h1.0M442.2 321.4h1.0M433.3 332.3h1.0M439.9 332.5h1.0M443.6 334.8h1.0M437.6 327.5h1.0M440.7 332.9h1.0M438.0 323.8h1.0M434.6 335.0h1.0M440.3 323.3h1.0M433.3 323.8h1.0M433.3 324.2h1.0M436.4 331.2h1.0M434.5 314.3h1.0M436.2 317.5h1.0M442.0 326.0h1.0M431.6 321.1h1.0M438.7 327.2h1.0M430.9 326.6h1.0M440.1 334.7h1.0M443.5 326.6h1.0M433.2 324.8h1.0M441.6 320.8h1.0M444.2 320.5h1.0M434.0 333.5h1.0M438.4 329.8h1.0M437.5 327.7h1.0M436.3 341.3h1.0M441.6 326.6h1.0M440.8 333.5h1.0M436.5 328.8h1.0M439.7 323.4h1.0M435.5 326.0h1.0M437.5 324.5h1.0M430.5 328.0h1.0M441.6 328.0h1.0M446.1 333.8h1.0M437.3 322.6h1.0M440.9 324.8h1.0M431.9 328.4h1.0M437.5 325.9h1.0M441.4 328.9h1.0M447.5 322.1h1.0M438.4 329.7h1.0M436.9 323.8h1.0M446.3 317.0h1.0M440.3 314.8h1.0M440.2 313.6h1.0M433.8 335.7h1.0M445.4 328.4h1.0M439.8 319.5h1.0M437.3 317.9h1.0M438.4 326.9h1.0M439.3 333.2h1.0M433.8 318.4h1.0M437.2 324.3h1.0M438.6 337.4h1.0M438.9 319.7h1.0M437.5 321.1h1.0M437.8 331.7h1.0M433.9 332.6h1.0M446.4 338.5h1.0M445.8 328.1h1.0M433.0 342.0h1.0M438.6 329.2h1.0M437.3 320.7h1.0M441.4 317.4h1.0M432.9 331.5h1.0M437.2 321.4h1.0M440.9 337.8h1.0M437.6 326.5h1.0M441.2 334.3h1.0M443.2 332.4h1.0M436.0 331.3h1.0M438.8 315.2h1.0M444.1 331.6h1.0M444.7 327.0h1.0M441.9 327.0h1.0M439.5 334.1h1.0M439.0 331.9h1.0M438.6 336.3h1.0M441.6 315.5h1.0M445.9 330.7h1.0M436.6 323.0h1.0M447.3 328.1h1.0M441.0 331.8h1.0M436.2 340.1h1.0M447.8 321.9h1.0M443.7 315.7h1.0M437.4 327.9h1.0M439.0 331.6h1.0M440.5 330.2h1.0M438.2 329.7h1.0M436.4 341.7h1.0M439.1 336.4h1.0M439.3 326.4h1.0M438.0 318.2h1.0M447.7 330.5h1.0M439.4 324.2h1.0M444.3 325.1h1.0M436.8 323.6h1.0M445.4 329.7h1.0M438.2 322.9h1.0M444.3 329.6h1.0M437.4 333.9h1.0M442.6 320.4h1.0M443.7 335.3h1.0M437.8 317.9h1.0M443.5 325.0h1.0M437.9 325.4h1.0M437.7 333.5h1.0M434.1 331.3h1.0M443.8 335.1h1.0M441.9 329.4h1.0M438.0 326.7h1.0M435.1 339.5h1.0M438.3 320.3h1.0M442.4 338.3h1.0M440.0 325.2h1.0" stroke="#000" stroke-width="1.0" stroke-opacity="1" fill="none"/>
<path d="M432.5 352.9h1.0M436.8 343.0h1.0M441.0 338.1h1.0M435.0 337.1h1.0M436.8 354.1h1.0M431.6 358.4h1.0M434.7 344.3h1.0M442.9 342.5h1.0M445.2 346.5h1.0M437.6 340.7h1.0M443.7 347.5h1.0M435.7 340.8h1.0M434.9 347.3h1.0M434.5 354.1h1.0M437.9 343.3h1.0M440.3 358.9h1.0M443.4 349.1h1.0M442.1 336.3h1.0M434.4 355.7h1.0M437.6 348.5h1.0M441.1 350.8h1.0M440.3 344.2h1.0M436.6 358.0h1.0M435.6 337.1h1.0M436.3 354.8h1.0M446.9 349.2h1.0M435.0 352.6h1.0M439.5 357.0h1.0M440.6 353.7h1.0M440.6 351.2h1.0M433.6 346.8h1.0M445.9 358.1h1.0M442.8 351.0h1.0M437.5 350.7h1.0M436.5 356.3h1.0M436.6 342.3h1.0M430.2 359.8h1.0M434.4 341.5h1.0M441.4 345.5h1.0M440.9 341.8h1.0M436.9 348.2h1.0M438.2 353.9h1.0M442.2 345.9h1.0M439.4 341.6h1.0M435.1 345.4h1.0M443.1 342.8h1.0M430.5 340.4h1.0M432.3 346.6h1.0M436.6 339.2h1.0M434.3 344.9h1.0M440.0 352.7h1.0M444.6 346.1h1.0M441.2 348.6h1.0M432.8 343.2h1.0M446.2 354.3h1.0M446.2 346.6h1.0M442.7 345.7h1.0M432.8 339.2h1.0M440.3 335.8h1.0M439.9 341.4h1.0M439.9 337.6h1.0M442.3 346.3h1.0M430.7 337.1h1.0M438.5 335.7h1.0M439.8 351.7h1.0M435.0 358.6h1.0M445.2 350.4h1.0M440.4 351.6h1.0M436.9 357.9h1.0M438.3 351.4h1.0M442.2 339.7h1.0M444.9 341.8h1.0M441.2 353.5h1.0M439.1 356.6h1.0M440.6 344.8h1.0M430.3 358.7h1.0M445.7 343.7h1.0M433.4 356.5h1.0M438.5 340.8h1.0M435.9 348.5h1.0M443.0 359.9h1.0M435.2 359.6h1.0M430.9 353.4h1.0M437.5 351.3h1.0M436.1 342.6h1.0M439.6 356.6h1.0M436.3 339.9h1.0M431.7 351.9h1.0M440.9 352.9h1.0M428.6 336.5h1.0M435.2 344.7h1.0M446.7 345.1h1.0M438.8 355.6h1.0M446.3 350.8h1.0M436.3 334.4h1.0M434.6 345.6h1.0M444.5 350.4h1.0M444.0 348.8h1.0M438.4 343.7h1.0M432.2 351.9h1.0M440.0 352.4h1.0M435.6 344.8h1.0M440.0 352.6h1.0M447.8 341.4h1.0M443.0 354.7h1.0M436.9 349.1h1.0M437.9 359.6h1.0M437.0 355.2h1.0M440.6 346.6h1.0M441.9 354.6h1.0M436.3 354.5h1.0M436.7 349.2h1.0M431.2 359.2h1.0M436.4 349.2h1.0M438.0 353.7h1.0M435.4 353.6h1.0M434.2 336.8h1.0M440.7 349.2h1.0M442.5 333.3h1.0M438.7 343.1h1.0M437.3 345.0h1.0M436.4 343.0h1.0M443.1 335.0h1.0M430.1 350.6h1.0M447.9 342.2h1.0M433.8 339.2h1.0M433.3 357.5h1.0M441.5 354.8h1.0M439.9 349.8h1.0M435.4 340.7h1.0M436.4 357.6h1.0M434.8 348.3h1.0M446.4 347.5h1.0M441.3 343.8h1.0M447.3 338.7h1.0M440.9 346.2h1.0M439.2 350.8h1.0M444.6 354.7h1.0M443.3 350.8h1.0M433.0 358.2h1.0M445.6 351.7h1.0M442.1 346.3h1.0M431.2 355.5h1.0M441.5 347.9h1.0M435.2 348.8h1.0M433.3 345.2h1.0M445.9 345.8h1.0M447.1 347.3h1.0M440.2 341.0h1.0M436.8 344.6h1.0M441.1 347.4h1.0M432.9 348.3h1.0M433.1 340.6h1.0M429.8 352.3h1.0M431.4 347.0h1.0M438.5 342.3h1.0M446.8 352.1h1.0M435.1 335.5h1.0M439.0 342.9h1.0M443.1 340.1h1.0M444.0 344.5h1.0M439.1 346.0h1.0M441.2 356.8h1.0M435.6 341.1h1.0M447.4 355.3h1.0M447.4 355.3h1.0M438.8 360.4h1.0M434.9 344.8h1.0M436.2 353.2h1.0M434.1 346.7h1.0M434.1 346.2h1.0M443.6 356.5h1.0M434.8 351.5h1.0M435.9 331.1h1.0M432.4 357.5h1.0M437.6 350.1h1.0M444.3 348.2h1.0M435.1 343.4h1.0M433.6 352.2h1.0M435.9 351.9h1.0M430.9 344.7h1.0M437.7 357.1h1.0M439.5 359.7h1.0M432.5 353.9h1.0M433.0 353.2h1.0M434.0 351.2h1.0M440.4 342.5h1.0M439.3 339.9h1.0M442.9 355.0h1.0M437.4 353.3h1.0M429.1 350.6h1.0M436.0 342.0h1.0M442.5 355.7h1.0M441.0 360.5h1.0M435.1 344.8h1.0M437.1 348.5h1.0M433.5 349.8h1.0M443.3 343.2h1.0M440.9 346.8h1.0M437.4 348.9h1.0M445.5 352.0h1.0M441.5 349.2h1.0M438.0 348.8h1.0M435.7 336.2h1.0M445.8 333.9h1.0M440.8 339.0h1.0M437.2 344.1h1.0M435.1 342.1h1.0M435.8 354.0h1.0M446.0 355.1h1.0M438.1 346.9h1.0M436.9 347.9h1.0M435.1 346.6h1.0M442.2 346.3h1.0M434.1 347.1h1.0M438.5 347.4h1.0M436.8 353.4h1.0M437.9 340.3h1.0M440.9 342.6h1.0M441.9 354.3h1.0M440.5 350.4h1.0M431.5 346.5h1.0M438.7 352.9h1.0M432.6 346.8h1.0M430.6 349.4h1.0M438.5 349.0h1.0M446.2 353.6h1.0M437.2 343.6h1.0M435.9 354.0h1.0M442.6 344.2h1.0M437.5 344.7h1.0M441.5 349.5h1.0M434.6 341.2h1.0M444.5 337.3h1.0M442.3 352.3h1.0M442.2 356.7h1.0M435.8 347.9h1.0M442.9 352.3h1.0M434.4 342.2h1.0M431.0 350.0h1.0M435.5 336.1h1.0M435.4 350.5h1.0M439.0 346.3h1.0M438.9 353.0h1.0M432.2 341.8h1.0M442.9 353.6h1.0M431.2 342.5h1.0M445.2 353.8h1.0M437.4 355.8h1.0M444.8 358.8h1.0M431.3 338.1h1.0M435.6 347.6h1.0M436.4 349.9h1.0M445.4 356.4h1.0M443.0 348.0h1.0M446.2 351.5h1.0M439.3 347.9h1.0M438.0 354.9h1.0M432.4 355.8h1.0M439.3 340.8h1.0M442.8 348.1h1.0M433.2 350.9h1.0M433.0 355.4h1.0M439.2 347.4h1.0M442.3 348.3h1.0M443.2 358.9h1.0M442.3 340.7h1.0M441.4 346.0h1.0M439.6 355.4h1.0M434.8 349.6h1.0M445.3 341.7h1.0M437.1 353.6h1.0M437.0 355.8h1.0M433.1 336.6h1.0M440.0 347.0h1.0M439.6 355.4h1.0M443.3 345.4h1.0M436.2 333.2h1.0M433.3 349.9h1.0M439.2 336.7h1.0" stroke="#000" stroke-width="1.0" stroke-opacity="1" fill="none"/>
<rect x="407.60" y="286.60" width="105.40" height="104.70" fill="none" stroke="#000" stroke-width="1.3"/>
<line x1="404.40000000000003" y1="391.3" x2="407.6" y2="391.3" stroke="#000" stroke-width="0.8" />
<line x1="407.6" y1="391.3" x2="407.6" y2="394.5" stroke="#000" stroke-width="0.8" />
<line x1="405.8" y1="383.4205398634953" x2="407.6" y2="383.4205398634953" stroke="#000" stroke-width="0.8" />
<line x1="415.53214038574595" y1="391.3" x2="415.53214038574595" y2="393.1" stroke="#000" stroke-width="0.8" />
<line x1="405.8" y1="378.81135115771286" x2="407.6" y2="378.81135115771286" stroke="#000" stroke-width="0.8" />
<line x1="420.17214506186315" y1="391.3" x2="420.17214506186315" y2="393.1" stroke="#000" stroke-width="0.8" />
<line x1="405.8" y1="375.5410797269906" x2="407.6" y2="375.5410797269906" stroke="#000" stroke-width="0.8" />
<line x1="423.4642807714918" y1="391.3" x2="423.4642807714918" y2="393.1" stroke="#000" stroke-width="0.8" />
<line x1="405.8" y1="373.0044601365047" x2="407.6" y2="373.0044601365047" stroke="#000" stroke-width="0.8" />
<line x1="426.0178596142541" y1="391.3" x2="426.0178596142541" y2="393.1" stroke="#000" stroke-width="0.8" />
<line x1="405.8" y1="370.9318910212081" x2="407.6" y2="370.9318910212081" stroke="#000" stroke-width="0.8" />
<line x1="428.104285447609" y1="391.3" x2="428.104285447609" y2="393.1" stroke="#000" stroke-width="0.8" />
<line x1="405.8" y1="369.17955880262684" x2="407.6" y2="369.17955880262684" stroke="#000" stroke-width="0.8" />
<line x1="429.8683333543757" y1="391.3" x2="429.8683333543757" y2="393.1" stroke="#000" stroke-width="0.8" />
<line x1="405.8" y1="367.6616195904859" x2="407.6" y2="367.6616195904859" stroke="#000" stroke-width="0.8" />
<line x1="431.39642115723774" y1="391.3" x2="431.39642115723774" y2="393.1" stroke="#000" stroke-width="0.8" />
<line x1="405.8" y1="366.32270231542566" x2="407.6" y2="366.32270231542566" stroke="#000" stroke-width="0.8" />
<line x1="432.7442901237262" y1="391.3" x2="432.7442901237262" y2="393.1" stroke="#000" stroke-width="0.8" />
<line x1="404.40000000000003" y1="365.125" x2="407.6" y2="365.125" stroke="#000" stroke-width="0.8" />
<line x1="433.95000000000005" y1="391.3" x2="433.95000000000005" y2="394.5" stroke="#000" stroke-width="0.8" />
<line x1="405.8" y1="357.2455398634953" x2="407.6" y2="357.2455398634953" stroke="#000" stroke-width="0.8" />
<line x1="441.8821403857459" y1="391.3" x2="441.8821403857459" y2="393.1" stroke="#000" stroke-width="0.8" />
<line x1="405.8" y1="352.63635115771285" x2="407.6" y2="352.63635115771285" stroke="#000" stroke-width="0.8" />
<line x1="446.5221450618631" y1="391.3" x2="446.5221450618631" y2="393.1" stroke="#000" stroke-width="0.8" />
<line x1="405.8" y1="349.3660797269906" x2="407.6" y2="349.3660797269906" stroke="#000" stroke-width="0.8" />
<line x1="449.81428077149184" y1="391.3" x2="449.81428077149184" y2="393.1" stroke="#000" stroke-width="0.8" />
<line x1="405.8" y1="346.82946013650474" x2="407.6" y2="346.82946013650474" stroke="#000" stroke-width="0.8" />
<line x1="452.3678596142541" y1="391.3" x2="452.3678596142541" y2="393.1" stroke="#000" stroke-width="0.8" />
<line x1="405.8" y1="344.75689102120816" x2="407.6" y2="344.75689102120816" stroke="#000" stroke-width="0.8" />
<line x1="454.45428544760904" y1="391.3" x2="454.45428544760904" y2="393.1" stroke="#000" stroke-width="0.8" />
<line x1="405.8" y1="343.00455880262683" x2="407.6" y2="343.00455880262683" stroke="#000" stroke-width="0.8" />
<line x1="456.21833335437566" y1="391.3" x2="456.21833335437566" y2="393.1" stroke="#000" stroke-width="0.8" />
<line x1="405.8" y1="341.4866195904859" x2="407.6" y2="341.4866195904859" stroke="#000" stroke-width="0.8" />
<line x1="457.7464211572377" y1="391.3" x2="457.7464211572377" y2="393.1" stroke="#000" stroke-width="0.8" />
<line x1="405.8" y1="340.1477023154257" x2="407.6" y2="340.1477023154257" stroke="#000" stroke-width="0.8" />
<line x1="459.09429012372624" y1="391.3" x2="459.09429012372624" y2="393.1" stroke="#000" stroke-width="0.8" />
<line x1="404.40000000000003" y1="338.95000000000005" x2="407.6" y2="338.95000000000005" stroke="#000" stroke-width="0.8" />
<line x1="460.3" y1="391.3" x2="460.3" y2="394.5" stroke="#000" stroke-width="0.8" />
<line x1="405.8" y1="331.0705398634953" x2="407.6" y2="331.0705398634953" stroke="#000" stroke-width="0.8" />
<line x1="468.23214038574594" y1="391.3" x2="468.23214038574594" y2="393.1" stroke="#000" stroke-width="0.8" />
<line x1="405.8" y1="326.46135115771284" x2="407.6" y2="326.46135115771284" stroke="#000" stroke-width="0.8" />
<line x1="472.87214506186314" y1="391.3" x2="472.87214506186314" y2="393.1" stroke="#000" stroke-width="0.8" />
<line x1="405.8" y1="323.1910797269906" x2="407.6" y2="323.1910797269906" stroke="#000" stroke-width="0.8" />
<line x1="476.1642807714918" y1="391.3" x2="476.1642807714918" y2="393.1" stroke="#000" stroke-width="0.8" />
<line x1="405.8" y1="320.6544601365047" x2="407.6" y2="320.6544601365047" stroke="#000" stroke-width="0.8" />
<line x1="478.7178596142541" y1="391.3" x2="478.7178596142541" y2="393.1" stroke="#000" stroke-width="0.8" />
<line x1="405.8" y1="318.58189102120815" x2="407.6" y2="318.58189102120815" stroke="#000" stroke-width="0.8" />
<line x1="480.804285447609" y1="391.3" x2="480.804285447609" y2="393.1" stroke="#000" stroke-width="0.8" />
<line x1="405.8" y1="316.8295588026268" x2="407.6" y2="316.8295588026268" stroke="#000" stroke-width="0.8" />
<line x1="482.5683333543757" y1="391.3" x2="482.5683333543757" y2="393.1" stroke="#000" stroke-width="0.8" />
<line x1="405.8" y1="315.31161959048586" x2="407.6" y2="315.31161959048586" stroke="#000" stroke-width="0.8" />
<line x1="484.0964211572377" y1="391.3" x2="484.0964211572377" y2="393.1" stroke="#000" stroke-width="0.8" />
<line x1="405.8" y1="313.9727023154257" x2="407.6" y2="313.9727023154257" stroke="#000" stroke-width="0.8" />
<line x1="485.4442901237262" y1="391.3" x2="485.4442901237262" y2="393.1" stroke="#000" stroke-width="0.8" />
<line x1="404.40000000000003" y1="312.77500000000003" x2="407.6" y2="312.77500000000003" stroke="#000" stroke-width="0.8" />
<line x1="486.65" y1="391.3" x2="486.65" y2="394.5" stroke="#000" stroke-width="0.8" />
<line x1="405.8" y1="304.8955398634953" x2="407.6" y2="304.8955398634953" stroke="#000" stroke-width="0.8" />
<line x1="494.5821403857459" y1="391.3" x2="494.5821403857459" y2="393.1" stroke="#000" stroke-width="0.8" />
<line x1="405.8" y1="300.28635115771283" x2="407.6" y2="300.28635115771283" stroke="#000" stroke-width="0.8" />
<line x1="499.2221450618631" y1="391.3" x2="499.2221450618631" y2="393.1" stroke="#000" stroke-width="0.8" />
<line x1="405.8" y1="297.0160797269906" x2="407.6" y2="297.0160797269906" stroke="#000" stroke-width="0.8" />
<line x1="502.5142807714918" y1="391.3" x2="502.5142807714918" y2="393.1" stroke="#000" stroke-width="0.8" />
<line x1="405.8" y1="294.4794601365047" x2="407.6" y2="294.4794601365047" stroke="#000" stroke-width="0.8" />
<line x1="505.0678596142541" y1="391.3" x2="505.0678596142541" y2="393.1" stroke="#000" stroke-width="0.8" />
<line x1="405.8" y1="292.40689102120814" x2="407.6" y2="292.40689102120814" stroke="#000" stroke-width="0.8" />
<line x1="507.154285447609" y1="391.3" x2="507.154285447609" y2="393.1" stroke="#000" stroke-width="0.8" />
<line x1="405.8" y1="290.65455880262687" x2="407.6" y2="290.65455880262687" stroke="#000" stroke-width="0.8" />
<line x1="508.9183333543757" y1="391.3" x2="508.9183333543757" y2="393.1" stroke="#000" stroke-width="0.8" />
<line x1="405.8" y1="289.1366195904859" x2="407.6" y2="289.1366195904859" stroke="#000" stroke-width="0.8" />
<line x1="510.44642115723775" y1="391.3" x2="510.44642115723775" y2="393.1" stroke="#000" stroke-width="0.8" />
<line x1="405.8" y1="287.7977023154257" x2="407.6" y2="287.7977023154257" stroke="#000" stroke-width="0.8" />
<line x1="511.7942901237262" y1="391.3" x2="511.7942901237262" y2="393.1" stroke="#000" stroke-width="0.8" />
<text class="s" x="403.0" y="394.0" font-size="7.6" text-anchor="end">10<tspan font-size="4.6" dy="-2.9">0</tspan></text>
<text class="s" x="401.6" y="404" font-size="8">10<tspan font-size="4.8" dy="-3">0</tspan></text>
<text class="s" x="403.0" y="367.8" font-size="7.6" text-anchor="end">10<tspan font-size="4.6" dy="-2.9">1</tspan></text>
<text class="s" x="428.0" y="404" font-size="8">10<tspan font-size="4.8" dy="-3">1</tspan></text>
<text class="s" x="403.0" y="341.7" font-size="7.6" text-anchor="end">10<tspan font-size="4.6" dy="-2.9">2</tspan></text>
<text class="s" x="454.3" y="404" font-size="8">10<tspan font-size="4.8" dy="-3">2</tspan></text>
<text class="s" x="403.0" y="315.5" font-size="7.6" text-anchor="end">10<tspan font-size="4.6" dy="-2.9">3</tspan></text>
<text class="s" x="480.6" y="404" font-size="8">10<tspan font-size="4.8" dy="-3">3</tspan></text>
<rect x="423.00" y="308.20" width="26.60" height="52.40" fill="none" stroke="#000" stroke-width="1.6"/>
<text x="454.5" y="338.2" font-size="13.5" text-anchor="start" font-weight="normal" >35%</text>
<path d="M84.5 501.6h1.0M85.5 498.7h1.0M85.1 491.5h1.0M76.2 494.3h1.0M84.3 505.9h1.0M76.1 503.4h1.0M84.5 506.9h1.0M77.1 505.6h1.0M75.8 499.2h1.0M80.9 492.8h1.0M78.9 500.7h1.0M83.9 495.9h1.0M83.0 508.8h1.0M81.1 495.1h1.0M76.0 512.2h1.0M84.2 500.3h1.0M83.0 500.8h1.0M84.8 501.9h1.0M82.8 501.3h1.0M83.8 490.2h1.0M83.3 508.1h1.0M88.0 495.0h1.0M82.5 511.0h1.0M79.9 496.5h1.0M85.5 511.1h1.0M79.0 508.3h1.0M85.7 490.0h1.0M82.1 500.2h1.0M84.1 485.5h1.0M84.3 502.0h1.0M84.1 506.1h1.0M84.4 485.9h1.0M82.7 514.8h1.0M77.1 508.2h1.0M79.7 507.2h1.0M82.4 486.6h1.0M78.7 514.1h1.0M81.7 513.8h1.0M83.1 510.5h1.0M80.8 504.1h1.0M80.9 510.6h1.0M80.2 512.5h1.0M87.0 490.5h1.0M81.5 507.2h1.0M87.7 512.9h1.0M82.3 485.6h1.0M84.7 496.5h1.0M82.7 505.8h1.0M77.6 512.1h1.0M85.0 507.5h1.0M83.9 505.4h1.0M77.6 497.2h1.0M84.6 498.9h1.0M82.1 505.5h1.0M82.3 504.5h1.0M83.6 502.0h1.0M78.6 499.5h1.0M85.1 495.6h1.0M83.5 504.9h1.0M82.0 494.7h1.0M80.1 510.9h1.0M79.6 505.3h1.0M82.4 503.9h1.0M85.1 500.7h1.0M81.2 495.7h1.0M82.2 502.5h1.0M79.7 500.7h1.0M78.0 503.4h1.0M83.2 512.3h1.0M85.1 497.3h1.0M87.1 501.0h1.0M80.8 491.9h1.0M83.8 515.6h1.0M83.3 512.4h1.0M83.9 510.4h1.0M86.2 499.2h1.0M77.6 500.9h1.0M79.5 490.8h1.0M81.5 508.7h1.0M76.2 487.7h1.0M84.6 493.7h1.0M80.8 514.8h1.0M85.6 505.4h1.0M83.8 505.6h1.0M77.7 503.7h1.0M83.5 500.9h1.0M84.5 510.3h1.0M82.2 499.7h1.0M78.3 512.8h1.0M80.2 505.0h1.0M86.9 509.3h1.0M78.0 501.2h1.0M79.8 486.5h1.0M79.5 507.5h1.0M83.1 500.1h1.0M82.6 491.0h1.0M79.6 500.4h1.0M84.5 499.0h1.0M81.5 505.2h1.0M86.7 490.1h1.0M83.7 503.8h1.0M81.8 504.3h1.0M75.8 502.3h1.0M81.3 490.4h1.0M84.7 500.9h1.0M81.0 509.2h1.0M79.1 495.3h1.0M84.6 510.2h1.0M88.4 497.7h1.0M77.5 488.0h1.0M78.3 503.0h1.0M81.3 495.7h1.0M78.9 495.5h1.0M80.9 513.2h1.0M84.0 514.9h1.0M84.6 509.2h1.0M85.7 506.3h1.0M86.9 512.7h1.0M87.8 504.1h1.0M81.2 506.9h1.0M80.8 495.5h1.0M83.4 491.5h1.0M81.5 515.3h1.0M82.4 509.7h1.0M84.1 505.6h1.0M82.4 507.8h1.0M79.0 507.5h1.0M78.6 494.9h1.0M80.2 489.4h1.0M75.8 505.6h1.0M83.6 508.2h1.0M89.0 503.7h1.0M84.4 495.0h1.0M84.3 491.3h1.0M88.2 492.9h1.0M80.7 509.1h1.0M79.0 503.9h1.0M85.1 503.5h1.0M85.0 497.3h1.0M86.8 495.8h1.0M79.3 502.2h1.0M87.4 495.4h1.0M82.0 498.6h1.0M79.1 489.7h1.0M83.9 508.7h1.0M79.7 504.2h1.0M83.4 505.6h1.0M81.5 502.4h1.0M82.9 492.0h1.0M81.6 509.5h1.0M80.3 514.4h1.0M81.3 491.6h1.0M81.1 489.3h1.0M83.9 487.0h1.0M82.1 499.8h1.0M81.1 506.0h1.0M82.9 496.8h1.0M84.6 497.8h1.0M84.8 514.6h1.0M83.2 510.7h1.0M77.8 507.3h1.0M77.3 500.4h1.0M79.6 494.7h1.0M79.0 502.2h1.0M84.0 491.1h1.0M80.0 484.5h1.0M77.3 506.4h1.0M84.8 494.4h1.0M83.1 494.7h1.0M80.0 497.5h1.0M86.9 516.8h1.0M82.0 508.0h1.0M77.0 499.2h1.0M81.1 500.6h1.0M82.9 487.3h1.0M76.5 502.6h1.0M84.3 506.6h1.0M82.2 486.8h1.0M80.5 487.3h1.0M88.2 505.4h1.0M84.3 503.9h1.0M80.8 513.1h1.0M84.8 508.0h1.0M83.8 509.0h1.0M81.1 506.1h1.0M82.3 499.6h1.0M75.6 515.5h1.0M80.6 513.3h1.0M78.8 500.3h1.0M85.2 501.3h1.0M83.1 490.6h1.0M82.5 501.2h1.0M77.6 492.3h1.0M78.7 501.5h1.0M81.6 496.3h1.0M79.9 503.0h1.0M85.7 488.8h1.0M77.5 512.6h1.0M77.5 498.2h1.0M81.7 512.1h1.0M82.5 494.4h1.0M84.6 515.9h1.0M81.4 509.7h1.0M78.7 515.9h1.0M80.0 494.5h1.0M79.6 485.3h1.0M77.5 500.1h1.0M83.4 496.7h1.0M77.1 505.2h1.0M85.2 503.0h1.0M78.6 499.2h1.0M75.9 501.4h1.0M85.9 512.5h1.0M81.7 506.1h1.0M80.4 503.2h1.0M80.1 503.6h1.0M80.4 503.9h1.0M84.2 501.8h1.0M77.9 506.7h1.0M81.2 497.3h1.0M83.8 494.1h1.0M84.9 507.3h1.0M79.8 495.4h1.0M81.6 493.4h1.0M82.5 498.7h1.0M78.5 508.0h1.0M80.5 506.3h1.0M80.6 499.3h1.0M83.7 511.0h1.0M85.1 501.8h1.0M86.7 498.8h1.0M77.7 484.4h1.0M77.4 493.8h1.0M76.4 505.1h1.0M82.1 501.7h1.0M82.8 501.0h1.0M81.2 499.0h1.0M82.1 491.4h1.0M86.0 516.6h1.0M78.9 510.5h1.0M76.9 507.7h1.0M79.7 511.5h1.0M82.4 511.0h1.0M83.9 507.0h1.0M83.1 506.6h1.0M86.5 499.6h1.0M87.5 512.3h1.0M82.3 488.3h1.0M85.8 499.1h1.0M82.3 503.2h1.0M85.0 508.0h1.0M76.3 495.8h1.0M83.1 503.6h1.0M84.5 507.4h1.0M87.1 495.2h1.0M86.1 505.6h1.0M83.0 508.5h1.0M81.0 508.8h1.0M81.4 508.8h1.0M79.6 513.1h1.0M77.2 495.8h1.0M81.9 504.3h1.0M79.5 498.2h1.0M82.8 511.9h1.0M86.1 497.5h1.0M81.8 499.1h1.0M77.2 497.8h1.0M85.6 489.3h1.0M87.5 503.8h1.0M87.0 496.6h1.0M86.0 509.2h1.0M84.5 509.1h1.0M83.9 508.2h1.0M85.8 506.0h1.0M84.0 506.1h1.0M82.5 493.8h1.0M76.4 492.4h1.0M78.1 488.0h1.0M84.2 498.9h1.0M84.5 497.6h1.0M83.2 500.1h1.0M87.0 514.1h1.0M84.6 510.5h1.0M78.3 496.2h1.0M82.6 500.0h1.0M79.7 501.0h1.0M83.0 491.9h1.0M81.4 502.1h1.0M86.0 503.9h1.0M86.3 505.2h1.0M85.7 514.8h1.0M86.9 503.9h1.0M78.2 503.9h1.0M83.5 495.4h1.0M84.6 500.5h1.0M84.5 503.9h1.0M79.1 512.0h1.0M88.3 510.8h1.0M82.9 485.7h1.0M83.0 501.8h1.0M83.4 511.3h1.0M76.1 505.4h1.0M81.9 515.6h1.0M81.9 492.9h1.0M81.8 506.2h1.0M79.7 494.6h1.0M82.9 510.4h1.0M81.3 506.7h1.0M80.5 498.8h1.0M82.6 511.3h1.0M87.0 500.9h1.0M84.7 498.6h1.0M83.3 488.5h1.0M79.8 489.3h1.0M85.3 497.7h1.0M82.3 502.7h1.0M81.4 490.9h1.0M81.9 508.7h1.0M81.4 501.1h1.0M83.0 504.3h1.0M81.0 512.3h1.0M83.6 516.4h1.0M76.9 497.2h1.0M83.5 486.5h1.0M80.3 513.9h1.0M83.1 495.3h1.0M81.7 503.1h1.0M80.7 499.1h1.0M80.1 504.2h1.0M87.0 515.9h1.0M81.7 488.7h1.0M77.4 503.4h1.0M82.8 496.0h1.0M79.5 500.0h1.0M82.9 508.5h1.0M80.2 504.5h1.0M83.2 509.7h1.0M77.4 517.0h1.0M78.3 500.1h1.0M80.6 497.5h1.0M79.6 509.8h1.0M84.5 505.4h1.0M78.1 496.1h1.0M81.9 505.9h1.0M80.3 499.5h1.0M84.7 490.7h1.0M84.5 503.7h1.0M79.6 509.6h1.0M80.2 499.2h1.0M82.1 504.1h1.0M80.7 504.9h1.0M82.1 503.9h1.0M83.3 496.0h1.0M77.8 501.4h1.0M85.9 505.2h1.0M82.8 495.0h1.0M78.5 490.2h1.0M79.2 498.5h1.0M77.3 500.9h1.0M77.2 508.3h1.0M82.0 485.3h1.0M80.4 504.3h1.0M83.2 509.4h1.0M81.0 500.7h1.0M81.3 507.2h1.0M79.9 500.5h1.0M82.5 498.8h1.0M78.7 515.0h1.0M83.6 493.4h1.0M88.2 494.8h1.0M79.4 498.6h1.0M83.7 516.3h1.0M86.3 507.3h1.0M82.3 508.4h1.0M79.6 495.4h1.0M83.7 504.0h1.0M82.8 492.4h1.0M82.8 488.4h1.0M84.9 502.2h1.0M80.1 497.6h1.0M79.9 515.1h1.0M82.1 504.5h1.0M79.1 489.6h1.0M82.8 497.8h1.0M83.6 512.1h1.0M81.7 507.2h1.0M82.6 504.3h1.0M80.5 504.3h1.0M83.4 502.8h1.0M80.7 488.2h1.0M78.8 517.0h1.0M85.2 504.9h1.0M83.0 500.6h1.0M84.2 511.2h1.0M81.3 505.0h1.0M85.0 487.0h1.0M79.2 496.6h1.0M78.5 497.9h1.0M79.4 498.3h1.0M83.5 490.9h1.0M82.4 515.2h1.0M82.7 490.4h1.0M80.2 513.2h1.0M81.3 496.1h1.0M84.5 495.3h1.0M78.6 507.9h1.0M82.1 495.9h1.0M83.5 512.6h1.0M85.4 503.1h1.0M83.5 506.8h1.0M80.0 496.8h1.0M79.5 492.9h1.0M85.4 502.1h1.0M80.3 484.7h1.0M82.6 501.6h1.0M78.9 501.1h1.0M76.4 508.3h1.0M78.3 506.8h1.0M78.6 495.9h1.0M84.5 507.8h1.0M81.2 497.2h1.0M76.3 492.3h1.0M83.8 494.1h1.0M79.4 511.2h1.0M86.0 485.0h1.0M83.5 502.0h1.0M84.9 498.9h1.0M81.7 515.5h1.0M80.2 506.1h1.0M84.0 501.0h1.0M84.8 507.0h1.0M84.6 485.9h1.0M78.9 504.9h1.0M85.7 515.7h1.0M82.1 495.0h1.0M80.5 507.6h1.0M81.8 488.0h1.0M81.8 502.6h1.0M79.8 516.0h1.0M83.4 512.6h1.0M82.4 492.8h1.0M85.4 512.6h1.0M80.3 489.4h1.0M84.6 496.7h1.0M78.5 501.3h1.0M83.8 494.9h1.0M82.2 511.6h1.0M84.4 487.3h1.0M84.9 501.3h1.0M83.2 487.1h1.0M80.3 497.2h1.0M88.4 502.1h1.0M85.8 486.4h1.0M81.5 486.0h1.0M87.8 492.0h1.0M83.7 505.5h1.0M84.7 492.7h1.0M84.8 499.4h1.0M83.7 504.3h1.0M86.3 489.8h1.0M77.8 508.3h1.0M89.3 507.3h1.0M81.6 508.5h1.0M78.4 503.0h1.0M76.9 503.2h1.0M80.5 511.0h1.0M86.2 492.1h1.0M81.2 484.4h1.0M79.4 506.3h1.0M75.9 499.3h1.0M84.3 515.8h1.0M79.0 507.8h1.0M82.0 508.8h1.0M81.1 508.4h1.0M79.1 492.8h1.0M81.6 485.4h1.0M85.9 499.7h1.0M79.1 493.8h1.0M79.1 503.3h1.0M80.9 510.4h1.0M78.5 501.4h1.0M77.4 497.7h1.0M86.2 501.0h1.0M84.8 501.5h1.0M78.7 493.7h1.0M78.6 505.4h1.0M87.2 510.2h1.0M79.1 503.2h1.0M79.9 513.3h1.0M77.9 509.4h1.0M78.3 497.6h1.0M82.6 503.4h1.0M81.9 501.5h1.0M79.4 501.0h1.0M81.8 493.1h1.0M83.8 503.8h1.0M79.7 514.6h1.0M85.9 498.5h1.0M86.5 506.3h1.0M79.3 512.8h1.0M83.5 511.0h1.0M84.9 498.9h1.0M77.5 501.7h1.0M82.3 492.6h1.0M81.5 516.5h1.0M80.6 512.9h1.0M79.2 492.8h1.0M84.9 500.4h1.0M82.7 512.0h1.0M87.0 490.2h1.0M83.8 504.3h1.0M81.3 496.4h1.0M83.2 493.5h1.0M83.0 495.0h1.0M83.6 499.7h1.0M79.9 507.3h1.0M84.3 486.7h1.0M78.1 499.6h1.0M80.9 514.8h1.0M86.9 506.7h1.0M85.4 499.0h1.0M77.9 505.0h1.0M82.8 513.3h1.0M80.1 486.6h1.0M81.4 506.8h1.0M81.4 497.2h1.0M82.3 500.2h1.0M86.3 489.5h1.0M82.9 487.3h1.0M81.9 506.3h1.0M83.1 505.0h1.0M79.7 488.1h1.0M85.0 498.7h1.0M77.1 511.3h1.0M83.0 514.1h1.0M82.1 486.0h1.0M81.5 497.9h1.0M82.9 500.3h1.0M83.8 490.3h1.0M80.4 497.1h1.0M83.3 485.6h1.0M76.5 512.0h1.0M82.3 511.6h1.0M82.2 504.6h1.0M83.2 506.5h1.0M78.3 500.8h1.0M87.6 515.7h1.0M79.4 492.9h1.0M81.5 512.3h1.0M84.8 496.4h1.0M76.9 513.6h1.0M86.6 508.5h1.0M83.9 507.5h1.0M87.7 512.6h1.0M86.5 491.0h1.0M80.4 502.0h1.0M82.0 501.4h1.0M81.4 500.9h1.0M81.0 488.4h1.0M85.5 502.3h1.0M83.1 502.4h1.0M79.6 486.7h1.0M81.2 507.2h1.0M81.7 509.1h1.0M79.6 499.2h1.0M82.5 501.1h1.0M82.6 515.9h1.0M80.7 503.3h1.0M80.0 507.3h1.0M82.7 494.9h1.0M78.9 490.5h1.0M81.2 503.5h1.0M80.5 501.0h1.0M82.4 504.1h1.0M88.0 505.7h1.0M84.0 497.2h1.0M80.4 509.5h1.0M80.2 495.7h1.0M77.4 504.9h1.0M81.7 507.3h1.0M79.4 490.1h1.0M85.4 502.3h1.0M84.4 491.0h1.0M82.9 511.6h1.0M76.4 491.5h1.0M80.4 494.4h1.0M81.4 494.3h1.0M77.5 501.6h1.0M82.4 494.6h1.0M82.1 489.5h1.0M81.0 498.8h1.0M80.6 501.3h1.0M78.1 489.1h1.0M79.5 509.1h1.0M79.1 493.0h1.0M88.1 499.5h1.0M80.8 493.5h1.0M86.5 507.1h1.0M78.3 485.8h1.0M85.4 506.2h1.0M80.4 509.7h1.0M78.1 505.5h1.0M85.0 510.6h1.0M80.9 498.2h1.0M80.7 508.7h1.0M80.8 500.7h1.0M85.2 500.9h1.0M82.8 500.8h1.0M79.1 505.6h1.0M80.0 496.1h1.0M79.7 492.8h1.0M76.5 506.5h1.0M81.8 493.9h1.0M80.7 511.5h1.0M85.1 505.6h1.0M85.6 511.8h1.0M80.6 509.7h1.0M82.5 509.4h1.0M78.1 505.5h1.0M80.4 498.5h1.0M81.9 501.6h1.0M87.3 501.5h1.0M82.8 512.3h1.0M86.6 492.7h1.0M82.9 489.2h1.0M83.5 515.7h1.0M80.4 499.3h1.0M85.7 506.3h1.0M84.5 497.6h1.0M81.0 498.4h1.0M86.8 487.5h1.0M81.8 491.4h1.0M82.7 499.9h1.0M81.6 506.8h1.0M84.4 487.5h1.0M82.6 516.6h1.0M77.9 501.1h1.0M78.4 508.5h1.0M79.4 498.8h1.0M80.7 506.4h1.0M78.0 488.4h1.0M82.6 515.2h1.0M80.4 506.0h1.0M82.8 503.1h1.0M81.9 496.6h1.0M81.2 513.7h1.0M83.4 514.5h1.0M79.8 503.2h1.0M80.0 489.1h1.0M84.8 499.3h1.0M82.7 488.2h1.0M81.2 500.8h1.0M80.8 511.9h1.0M83.4 503.3h1.0M82.7 497.7h1.0M79.8 499.3h1.0M78.9 500.3h1.0M81.6 513.0h1.0M80.4 503.3h1.0M81.9 496.0h1.0M81.8 484.7h1.0M85.4 496.4h1.0M81.9 484.3h1.0M83.7 489.5h1.0M86.2 491.8h1.0M79.7 508.5h1.0M83.3 487.2h1.0M80.6 508.8h1.0M80.8 516.7h1.0M79.8 503.6h1.0M85.5 516.5h1.0M82.7 507.7h1.0M80.9 501.3h1.0M80.2 505.8h1.0M84.6 492.1h1.0M78.4 502.4h1.0M88.1 504.2h1.0M82.4 501.6h1.0M76.8 495.0h1.0M87.5 490.2h1.0M86.6 500.6h1.0M83.8 496.6h1.0M80.6 504.0h1.0M81.0 491.3h1.0M81.1 508.3h1.0M79.6 505.5h1.0M77.8 502.9h1.0M78.4 509.5h1.0M78.8 508.0h1.0M75.9 503.7h1.0M85.3 493.9h1.0M82.1 493.5h1.0M83.4 509.4h1.0M85.5 515.1h1.0M86.0 494.8h1.0M82.3 507.2h1.0M82.6 489.1h1.0M87.6 500.2h1.0M88.9 491.7h1.0M83.6 509.8h1.0M77.6 498.7h1.0M83.5 508.5h1.0M86.9 486.8h1.0M83.2 511.1h1.0M79.0 486.3h1.0M82.8 497.6h1.0M81.7 500.0h1.0M81.6 505.0h1.0M80.3 501.6h1.0M80.2 493.4h1.0M83.0 493.8h1.0M83.6 501.7h1.0M85.3 507.8h1.0M75.8 501.7h1.0M84.0 503.0h1.0M82.1 512.7h1.0M84.0 488.7h1.0M82.3 511.9h1.0M82.4 489.3h1.0M84.4 507.9h1.0M85.5 503.7h1.0M82.3 510.4h1.0M83.2 504.2h1.0M84.3 509.8h1.0M81.6 494.2h1.0M84.7 511.3h1.0M83.1 495.8h1.0M82.3 492.5h1.0M79.3 496.7h1.0M77.9 503.5h1.0M81.3 502.1h1.0M82.1 497.3h1.0M82.3 501.3h1.0M79.8 498.8h1.0M80.2 489.1h1.0M83.6 501.6h1.0M82.5 513.4h1.0M84.9 497.6h1.0M83.0 513.8h1.0M81.5 505.7h1.0M83.2 491.7h1.0M82.8 498.1h1.0M81.2 506.3h1.0M84.0 493.0h1.0M81.2 500.0h1.0M79.0 505.6h1.0M81.3 495.0h1.0M84.8 501.1h1.0M78.4 501.0h1.0M81.4 504.9h1.0" stroke="#000" stroke-width="1.0" stroke-opacity="1" fill="none"/>
<path d="M89.0 477.8h1.0M86.8 472.8h1.0M84.2 477.4h1.0M82.7 475.7h1.0M81.8 478.8h1.0M82.6 476.5h1.0M83.4 462.7h1.0M84.1 467.8h1.0M83.5 471.1h1.0M82.2 463.4h1.0M79.5 470.1h1.0M80.1 475.7h1.0M79.2 475.5h1.0M84.4 468.8h1.0M80.4 471.6h1.0M85.1 483.6h1.0M88.7 474.6h1.0M84.6 475.3h1.0M82.9 466.5h1.0M82.0 481.7h1.0M86.7 469.8h1.0M83.0 477.1h1.0M82.5 461.4h1.0M83.8 467.3h1.0M82.2 469.6h1.0M87.0 460.4h1.0M78.8 470.5h1.0M81.2 479.4h1.0M87.2 468.9h1.0M84.5 472.5h1.0M77.7 482.1h1.0M87.6 468.3h1.0M84.7 470.4h1.0M82.7 470.8h1.0M82.6 474.3h1.0M81.3 475.9h1.0M79.5 479.6h1.0M80.4 461.1h1.0M85.2 471.6h1.0M81.5 480.3h1.0M84.1 464.0h1.0M81.6 469.3h1.0M84.2 477.8h1.0M83.4 458.6h1.0M81.6 473.8h1.0M81.1 472.5h1.0M80.6 466.1h1.0M86.2 460.5h1.0M85.7 466.0h1.0M82.3 460.0h1.0" stroke="#000" stroke-width="1.0" stroke-opacity="1" fill="none"/>
<path d="M82.0 441.8h1.0" stroke="#000" stroke-width="1.0" stroke-opacity="1" fill="none"/>
<rect x="36.40" y="412.00" width="104.80" height="105.20" fill="none" stroke="#000" stroke-width="1.3"/>
<line x1="33.199999999999996" y1="517.2" x2="36.4" y2="517.2" stroke="#000" stroke-width="0.8" />
<line x1="36.4" y1="517.2" x2="36.4" y2="520.4000000000001" stroke="#000" stroke-width="0.8" />
<line x1="34.6" y1="509.28291111403735" x2="36.4" y2="509.28291111403735" stroke="#000" stroke-width="0.8" />
<line x1="44.2869858863963" y1="517.2" x2="44.2869858863963" y2="519.0" stroke="#000" stroke-width="0.8" />
<line x1="34.6" y1="504.6517110008729" x2="36.4" y2="504.6517110008729" stroke="#000" stroke-width="0.8" />
<line x1="48.900576873655154" y1="517.2" x2="48.900576873655154" y2="519.0" stroke="#000" stroke-width="0.8" />
<line x1="34.6" y1="501.36582222807465" x2="36.4" y2="501.36582222807465" stroke="#000" stroke-width="0.8" />
<line x1="52.17397177279261" y1="517.2" x2="52.17397177279261" y2="519.0" stroke="#000" stroke-width="0.8" />
<line x1="34.6" y1="498.81708888596273" x2="36.4" y2="498.81708888596273" stroke="#000" stroke-width="0.8" />
<line x1="54.71301411360369" y1="517.2" x2="54.71301411360369" y2="519.0" stroke="#000" stroke-width="0.8" />
<line x1="34.6" y1="496.7346221149102" x2="36.4" y2="496.7346221149102" stroke="#000" stroke-width="0.8" />
<line x1="56.78756276005146" y1="517.2" x2="56.78756276005146" y2="519.0" stroke="#000" stroke-width="0.8" />
<line x1="34.6" y1="494.9739215476251" x2="36.4" y2="494.9739215476251" stroke="#000" stroke-width="0.8" />
<line x1="58.54156864837353" y1="517.2" x2="58.54156864837353" y2="519.0" stroke="#000" stroke-width="0.8" />
<line x1="34.6" y1="493.44873334211195" x2="36.4" y2="493.44873334211195" stroke="#000" stroke-width="0.8" />
<line x1="60.060957659188915" y1="517.2" x2="60.060957659188915" y2="519.0" stroke="#000" stroke-width="0.8" />
<line x1="34.6" y1="492.1034220017458" x2="36.4" y2="492.1034220017458" stroke="#000" stroke-width="0.8" />
<line x1="61.4011537473103" y1="517.2" x2="61.4011537473103" y2="519.0" stroke="#000" stroke-width="0.8" />
<line x1="33.199999999999996" y1="490.90000000000003" x2="36.4" y2="490.90000000000003" stroke="#000" stroke-width="0.8" />
<line x1="62.599999999999994" y1="517.2" x2="62.599999999999994" y2="520.4000000000001" stroke="#000" stroke-width="0.8" />
<line x1="34.6" y1="482.98291111403734" x2="36.4" y2="482.98291111403734" stroke="#000" stroke-width="0.8" />
<line x1="70.4869858863963" y1="517.2" x2="70.4869858863963" y2="519.0" stroke="#000" stroke-width="0.8" />
<line x1="34.6" y1="478.3517110008729" x2="36.4" y2="478.3517110008729" stroke="#000" stroke-width="0.8" />
<line x1="75.10057687365514" y1="517.2" x2="75.10057687365514" y2="519.0" stroke="#000" stroke-width="0.8" />
<line x1="34.6" y1="475.06582222807464" x2="36.4" y2="475.06582222807464" stroke="#000" stroke-width="0.8" />
<line x1="78.3739717727926" y1="517.2" x2="78.3739717727926" y2="519.0" stroke="#000" stroke-width="0.8" />
<line x1="34.6" y1="472.5170888859627" x2="36.4" y2="472.5170888859627" stroke="#000" stroke-width="0.8" />
<line x1="80.91301411360368" y1="517.2" x2="80.91301411360368" y2="519.0" stroke="#000" stroke-width="0.8" />
<line x1="34.6" y1="470.4346221149102" x2="36.4" y2="470.4346221149102" stroke="#000" stroke-width="0.8" />
<line x1="82.98756276005145" y1="517.2" x2="82.98756276005145" y2="519.0" stroke="#000" stroke-width="0.8" />
<line x1="34.6" y1="468.67392154762507" x2="36.4" y2="468.67392154762507" stroke="#000" stroke-width="0.8" />
<line x1="84.74156864837352" y1="517.2" x2="84.74156864837352" y2="519.0" stroke="#000" stroke-width="0.8" />
<line x1="34.6" y1="467.1487333421119" x2="36.4" y2="467.1487333421119" stroke="#000" stroke-width="0.8" />
<line x1="86.2609576591889" y1="517.2" x2="86.2609576591889" y2="519.0" stroke="#000" stroke-width="0.8" />
<line x1="34.6" y1="465.8034220017458" x2="36.4" y2="465.8034220017458" stroke="#000" stroke-width="0.8" />
<line x1="87.60115374731029" y1="517.2" x2="87.60115374731029" y2="519.0" stroke="#000" stroke-width="0.8" />
<line x1="33.199999999999996" y1="464.6" x2="36.4" y2="464.6" stroke="#000" stroke-width="0.8" />
<line x1="88.79999999999998" y1="517.2" x2="88.79999999999998" y2="520.4000000000001" stroke="#000" stroke-width="0.8" />
<line x1="34.6" y1="456.6829111140373" x2="36.4" y2="456.6829111140373" stroke="#000" stroke-width="0.8" />
<line x1="96.6869858863963" y1="517.2" x2="96.6869858863963" y2="519.0" stroke="#000" stroke-width="0.8" />
<line x1="34.6" y1="452.0517110008729" x2="36.4" y2="452.0517110008729" stroke="#000" stroke-width="0.8" />
<line x1="101.30057687365516" y1="517.2" x2="101.30057687365516" y2="519.0" stroke="#000" stroke-width="0.8" />
<line x1="34.6" y1="448.7658222280746" x2="36.4" y2="448.7658222280746" stroke="#000" stroke-width="0.8" />
<line x1="104.57397177279262" y1="517.2" x2="104.57397177279262" y2="519.0" stroke="#000" stroke-width="0.8" />
<line x1="34.6" y1="446.2170888859627" x2="36.4" y2="446.2170888859627" stroke="#000" stroke-width="0.8" />
<line x1="107.11301411360367" y1="517.2" x2="107.11301411360367" y2="519.0" stroke="#000" stroke-width="0.8" />
<line x1="34.6" y1="444.1346221149102" x2="36.4" y2="444.1346221149102" stroke="#000" stroke-width="0.8" />
<line x1="109.18756276005146" y1="517.2" x2="109.18756276005146" y2="519.0" stroke="#000" stroke-width="0.8" />
<line x1="34.6" y1="442.37392154762506" x2="36.4" y2="442.37392154762506" stroke="#000" stroke-width="0.8" />
<line x1="110.9415686483735" y1="517.2" x2="110.9415686483735" y2="519.0" stroke="#000" stroke-width="0.8" />
<line x1="34.6" y1="440.84873334211187" x2="36.4" y2="440.84873334211187" stroke="#000" stroke-width="0.8" />
<line x1="112.46095765918892" y1="517.2" x2="112.46095765918892" y2="519.0" stroke="#000" stroke-width="0.8" />
<line x1="34.6" y1="439.5034220017458" x2="36.4" y2="439.5034220017458" stroke="#000" stroke-width="0.8" />
<line x1="113.80115374731028" y1="517.2" x2="113.80115374731028" y2="519.0" stroke="#000" stroke-width="0.8" />
<line x1="33.199999999999996" y1="438.3" x2="36.4" y2="438.3" stroke="#000" stroke-width="0.8" />
<line x1="115.0" y1="517.2" x2="115.0" y2="520.4000000000001" stroke="#000" stroke-width="0.8" />
<line x1="34.6" y1="430.3829111140373" x2="36.4" y2="430.3829111140373" stroke="#000" stroke-width="0.8" />
<line x1="122.8869858863963" y1="517.2" x2="122.8869858863963" y2="519.0" stroke="#000" stroke-width="0.8" />
<line x1="34.6" y1="425.7517110008729" x2="36.4" y2="425.7517110008729" stroke="#000" stroke-width="0.8" />
<line x1="127.50057687365515" y1="517.2" x2="127.50057687365515" y2="519.0" stroke="#000" stroke-width="0.8" />
<line x1="34.6" y1="422.46582222807456" x2="36.4" y2="422.46582222807456" stroke="#000" stroke-width="0.8" />
<line x1="130.7739717727926" y1="517.2" x2="130.7739717727926" y2="519.0" stroke="#000" stroke-width="0.8" />
<line x1="34.6" y1="419.9170888859627" x2="36.4" y2="419.9170888859627" stroke="#000" stroke-width="0.8" />
<line x1="133.31301411360369" y1="517.2" x2="133.31301411360369" y2="519.0" stroke="#000" stroke-width="0.8" />
<line x1="34.6" y1="417.8346221149102" x2="36.4" y2="417.8346221149102" stroke="#000" stroke-width="0.8" />
<line x1="135.38756276005145" y1="517.2" x2="135.38756276005145" y2="519.0" stroke="#000" stroke-width="0.8" />
<line x1="34.6" y1="416.07392154762505" x2="36.4" y2="416.07392154762505" stroke="#000" stroke-width="0.8" />
<line x1="137.14156864837352" y1="517.2" x2="137.14156864837352" y2="519.0" stroke="#000" stroke-width="0.8" />
<line x1="34.6" y1="414.54873334211186" x2="36.4" y2="414.54873334211186" stroke="#000" stroke-width="0.8" />
<line x1="138.6609576591889" y1="517.2" x2="138.6609576591889" y2="519.0" stroke="#000" stroke-width="0.8" />
<line x1="34.6" y1="413.20342200174576" x2="36.4" y2="413.20342200174576" stroke="#000" stroke-width="0.8" />
<line x1="140.0011537473103" y1="517.2" x2="140.0011537473103" y2="519.0" stroke="#000" stroke-width="0.8" />
<text class="s" x="31.8" y="519.9" font-size="7.6" text-anchor="end">10<tspan font-size="4.6" dy="-2.9">0</tspan></text>
<text class="s" x="30.4" y="529.2" font-size="8">10<tspan font-size="4.8" dy="-3">0</tspan></text>
<text class="s" x="31.8" y="493.6" font-size="7.6" text-anchor="end">10<tspan font-size="4.6" dy="-2.9">1</tspan></text>
<text class="s" x="56.6" y="529.2" font-size="8">10<tspan font-size="4.8" dy="-3">1</tspan></text>
<text class="s" x="31.8" y="467.3" font-size="7.6" text-anchor="end">10<tspan font-size="4.6" dy="-2.9">2</tspan></text>
<text class="s" x="82.8" y="529.2" font-size="8">10<tspan font-size="4.8" dy="-3">2</tspan></text>
<text class="s" x="31.8" y="441.0" font-size="7.6" text-anchor="end">10<tspan font-size="4.6" dy="-2.9">3</tspan></text>
<text class="s" x="109.0" y="529.2" font-size="8">10<tspan font-size="4.8" dy="-3">3</tspan></text>
<rect x="70.80" y="444.80" width="26.70" height="39.40" fill="none" stroke="#000" stroke-width="1.6"/>
<text x="103.7" y="467.3" font-size="13.5" text-anchor="start" font-weight="normal" >7%</text>
<path d="M215.0 485.8h1.0M208.3 504.8h1.0M204.7 487.1h1.0M204.4 503.6h1.0M208.4 509.0h1.0M203.3 485.9h1.0M207.2 491.6h1.0M208.5 510.3h1.0M208.0 487.4h1.0M207.4 488.4h1.0M206.9 496.1h1.0M203.8 499.8h1.0M209.7 505.2h1.0M204.1 498.2h1.0M210.3 491.4h1.0M209.7 490.9h1.0M207.5 490.0h1.0M203.2 487.0h1.0M208.1 493.5h1.0M207.5 490.1h1.0M210.2 494.8h1.0M208.7 491.3h1.0M211.4 495.7h1.0M208.8 478.4h1.0M205.6 500.8h1.0M203.7 479.4h1.0M207.2 478.2h1.0M210.8 502.1h1.0M206.6 511.3h1.0M205.5 482.8h1.0M210.3 497.2h1.0M206.9 509.3h1.0M207.2 504.6h1.0M208.2 510.7h1.0M209.2 491.3h1.0M212.0 492.7h1.0M212.7 481.8h1.0M209.1 512.9h1.0M206.4 502.6h1.0M206.9 514.1h1.0M208.6 501.2h1.0M210.8 478.8h1.0M209.6 498.6h1.0M211.4 497.3h1.0M209.4 496.3h1.0M204.6 491.0h1.0M207.0 481.1h1.0M207.4 491.3h1.0M213.0 494.1h1.0M207.9 498.1h1.0M209.6 477.8h1.0M202.4 515.8h1.0M205.1 486.4h1.0M211.1 500.5h1.0M205.2 505.8h1.0M204.2 516.3h1.0M206.6 501.0h1.0M204.7 495.8h1.0M206.1 500.3h1.0M206.9 502.3h1.0M211.0 483.5h1.0M205.7 512.6h1.0M209.2 508.8h1.0M205.6 486.6h1.0M204.2 494.6h1.0M204.2 505.4h1.0M205.5 503.2h1.0M202.9 507.5h1.0M209.6 508.2h1.0M210.5 497.6h1.0M212.4 492.7h1.0M208.1 516.5h1.0M206.2 496.9h1.0M208.3 499.2h1.0M206.9 509.0h1.0M214.0 492.4h1.0M203.2 491.5h1.0M203.5 481.9h1.0M204.5 509.6h1.0M208.1 505.4h1.0M207.3 509.1h1.0M206.4 512.5h1.0M210.2 499.6h1.0M203.2 483.9h1.0M208.4 484.6h1.0M207.1 495.1h1.0M211.7 488.9h1.0M208.0 491.5h1.0M205.4 502.2h1.0M210.5 480.0h1.0M208.1 503.2h1.0M204.5 492.2h1.0M208.5 496.0h1.0M211.7 486.6h1.0M206.9 503.3h1.0M207.4 494.1h1.0M207.3 501.8h1.0M209.8 484.5h1.0M204.9 483.6h1.0M208.9 474.9h1.0M214.9 490.5h1.0M207.6 502.9h1.0M207.0 494.0h1.0M208.4 488.2h1.0M206.6 496.3h1.0M202.2 504.4h1.0M208.2 503.6h1.0M205.8 505.8h1.0M206.2 506.2h1.0M211.6 504.4h1.0M203.3 497.9h1.0M208.2 481.9h1.0M203.1 512.7h1.0M204.6 501.9h1.0M206.6 495.3h1.0M206.3 497.1h1.0M212.4 486.7h1.0M209.1 502.7h1.0M205.6 484.1h1.0M205.0 503.9h1.0M208.1 509.2h1.0M208.7 498.4h1.0M207.7 499.8h1.0M207.7 505.0h1.0M205.1 509.7h1.0M212.4 496.0h1.0M209.3 483.1h1.0M207.9 480.1h1.0M210.6 497.6h1.0M210.8 510.4h1.0M205.4 506.7h1.0M207.3 503.5h1.0M205.7 504.6h1.0M209.4 514.2h1.0M207.2 497.8h1.0M209.1 495.1h1.0M202.5 491.1h1.0M209.7 497.3h1.0M208.9 479.2h1.0M209.4 503.5h1.0M212.5 506.8h1.0M205.8 488.4h1.0M204.3 491.3h1.0M207.3 511.8h1.0M212.5 497.9h1.0M209.4 495.1h1.0M203.8 503.3h1.0M205.5 478.1h1.0M205.1 514.6h1.0M204.2 513.1h1.0M203.6 496.3h1.0M209.1 492.4h1.0M204.7 497.1h1.0M212.6 504.8h1.0M208.2 503.8h1.0M211.1 512.7h1.0M206.8 486.7h1.0M204.7 497.8h1.0M206.7 497.1h1.0M205.5 513.9h1.0M205.1 487.8h1.0M204.1 484.3h1.0M202.8 487.4h1.0M206.9 505.2h1.0M202.3 502.3h1.0M207.3 497.0h1.0M209.6 510.6h1.0M206.8 511.6h1.0M207.8 486.3h1.0M209.2 508.6h1.0M208.3 496.7h1.0M206.9 504.9h1.0M202.2 500.6h1.0M203.8 491.0h1.0M208.2 511.6h1.0M207.6 486.2h1.0M205.4 490.0h1.0M207.9 481.3h1.0M210.2 498.2h1.0M206.4 499.5h1.0M204.2 499.4h1.0M208.7 511.0h1.0M213.6 489.7h1.0M208.7 487.8h1.0M208.0 510.6h1.0M209.6 493.6h1.0M213.0 507.5h1.0M211.3 498.0h1.0M211.6 495.4h1.0M210.2 497.6h1.0M207.6 478.9h1.0M210.6 503.9h1.0M205.8 497.9h1.0M209.4 504.6h1.0M201.4 514.6h1.0M211.1 498.7h1.0M208.2 500.4h1.0M206.4 514.9h1.0M205.6 490.8h1.0M206.9 478.5h1.0M210.7 483.2h1.0M212.2 508.2h1.0M213.7 490.1h1.0M206.7 491.8h1.0M210.0 486.6h1.0M207.8 499.6h1.0M213.6 487.2h1.0M210.5 503.8h1.0M210.3 484.1h1.0M210.5 499.1h1.0M205.5 492.3h1.0M212.3 477.4h1.0M208.6 515.0h1.0M209.8 496.6h1.0M205.9 475.4h1.0M209.2 489.9h1.0M206.5 500.9h1.0M201.4 496.1h1.0M207.3 510.5h1.0M204.6 478.3h1.0M210.3 493.0h1.0M203.5 509.8h1.0M209.2 476.7h1.0M208.0 481.0h1.0M205.1 513.6h1.0M212.2 505.3h1.0M203.0 507.0h1.0M205.1 491.1h1.0M206.1 510.0h1.0M209.2 504.0h1.0M206.3 491.0h1.0M210.9 489.8h1.0M206.8 503.7h1.0M207.1 508.9h1.0M209.3 504.8h1.0M214.7 490.6h1.0M214.0 481.7h1.0M205.6 487.5h1.0M209.8 512.2h1.0M214.7 490.7h1.0M210.9 494.9h1.0M210.3 485.8h1.0M209.6 489.0h1.0M209.1 485.6h1.0M208.8 480.6h1.0M205.2 498.7h1.0M210.1 482.2h1.0M204.8 477.5h1.0M213.0 500.6h1.0M208.6 491.8h1.0M213.5 504.0h1.0M207.3 511.8h1.0M209.4 493.6h1.0M206.5 497.1h1.0M211.9 479.9h1.0M202.5 505.3h1.0M210.9 514.7h1.0M209.4 478.9h1.0M210.2 499.1h1.0M204.5 477.7h1.0M202.9 497.9h1.0M203.7 501.4h1.0M207.2 504.8h1.0M210.3 485.9h1.0M206.5 506.0h1.0M205.7 509.4h1.0M209.5 508.0h1.0M205.8 506.6h1.0M207.0 499.7h1.0M209.6 490.2h1.0M205.5 504.6h1.0M203.2 493.4h1.0M209.7 503.5h1.0M203.3 501.9h1.0M203.9 510.3h1.0M208.8 489.3h1.0M206.2 496.1h1.0M205.9 511.2h1.0M208.6 490.1h1.0M209.0 480.2h1.0M208.1 493.0h1.0M205.9 496.3h1.0M208.3 479.2h1.0M210.1 489.8h1.0M205.1 509.8h1.0M205.9 512.3h1.0M210.3 501.1h1.0M205.1 509.8h1.0M208.8 483.7h1.0M209.3 494.9h1.0M207.3 485.0h1.0M208.3 507.5h1.0M205.1 506.9h1.0M202.1 498.3h1.0M208.4 485.3h1.0M208.1 480.9h1.0M213.3 501.8h1.0M210.9 485.6h1.0M211.7 495.0h1.0M211.1 501.9h1.0M208.6 509.9h1.0M205.8 491.9h1.0M210.9 502.6h1.0M206.0 483.7h1.0M210.4 495.2h1.0M203.7 502.0h1.0M204.8 506.3h1.0M206.2 496.3h1.0M207.4 514.5h1.0M208.6 495.1h1.0M205.7 509.3h1.0M205.6 502.1h1.0M208.9 506.1h1.0M210.0 500.4h1.0M213.5 506.6h1.0M205.4 485.9h1.0M205.6 513.3h1.0M204.4 516.2h1.0M208.9 489.8h1.0M204.7 495.8h1.0M209.9 496.1h1.0M209.7 499.1h1.0M211.6 491.0h1.0M207.2 483.2h1.0M206.7 484.8h1.0M203.2 494.3h1.0M203.9 479.9h1.0M208.7 503.9h1.0M208.6 494.7h1.0M205.4 499.3h1.0M205.1 494.1h1.0M208.8 493.9h1.0M203.0 509.2h1.0M206.0 491.2h1.0M206.0 496.2h1.0M207.2 501.4h1.0M201.4 495.6h1.0M205.0 499.6h1.0M204.7 497.8h1.0M208.4 496.5h1.0M208.3 505.0h1.0M204.5 496.4h1.0M210.7 508.4h1.0M210.5 486.8h1.0M205.7 509.0h1.0M207.6 500.6h1.0M206.6 508.1h1.0M208.1 484.9h1.0M208.7 492.7h1.0M206.8 503.9h1.0M208.0 490.0h1.0M204.2 491.5h1.0M207.2 482.4h1.0M205.8 497.7h1.0M204.0 493.0h1.0M208.3 499.0h1.0M202.7 497.4h1.0M204.8 510.3h1.0M207.3 516.3h1.0M208.7 482.8h1.0M210.4 491.0h1.0M207.3 498.1h1.0M203.8 511.3h1.0M208.1 484.4h1.0M203.6 502.6h1.0M211.1 501.9h1.0M208.5 491.9h1.0M210.8 503.6h1.0M205.3 489.5h1.0M201.3 511.0h1.0M208.9 506.3h1.0M204.7 486.8h1.0M212.3 508.1h1.0M209.8 495.7h1.0M207.5 498.8h1.0M208.9 489.7h1.0M206.1 485.4h1.0M204.8 513.4h1.0M205.6 487.8h1.0M210.8 494.9h1.0M207.5 505.6h1.0M210.9 499.9h1.0M212.1 488.8h1.0M206.1 505.4h1.0M209.5 476.0h1.0M206.7 505.4h1.0M203.0 499.5h1.0M205.1 477.7h1.0M206.9 496.3h1.0M206.4 489.4h1.0M210.1 484.4h1.0M205.8 480.1h1.0M211.0 479.2h1.0M212.6 485.9h1.0M207.5 516.8h1.0M204.5 513.1h1.0M203.8 491.5h1.0M209.2 501.2h1.0M208.6 500.9h1.0M212.2 477.6h1.0M205.6 507.7h1.0M203.3 488.7h1.0M214.7 513.4h1.0M209.1 498.1h1.0M207.1 486.4h1.0M205.1 485.2h1.0M203.9 498.8h1.0M208.8 485.8h1.0M208.0 481.1h1.0M208.7 493.2h1.0M207.4 499.5h1.0M211.4 499.7h1.0M205.7 499.1h1.0M208.8 503.6h1.0M210.7 487.2h1.0M204.1 504.8h1.0M204.3 502.7h1.0M203.3 487.2h1.0M208.8 493.8h1.0M209.7 500.2h1.0M208.6 503.9h1.0M203.0 511.1h1.0M203.5 486.5h1.0M208.8 492.7h1.0M209.2 483.2h1.0M206.5 500.1h1.0M207.4 502.2h1.0M212.5 505.8h1.0M204.6 496.7h1.0M206.9 486.8h1.0M209.5 492.5h1.0M208.3 505.0h1.0M213.8 489.9h1.0M212.3 500.9h1.0M205.4 499.2h1.0M205.8 492.2h1.0M202.5 493.8h1.0M201.7 509.2h1.0M209.1 492.3h1.0M207.7 498.7h1.0M206.9 500.8h1.0M207.1 502.8h1.0M205.2 498.1h1.0M212.6 487.4h1.0M205.2 508.7h1.0M208.6 499.2h1.0M208.2 492.3h1.0M206.1 503.5h1.0M208.1 505.1h1.0M207.9 514.4h1.0M210.5 488.2h1.0M212.3 490.5h1.0M210.6 488.2h1.0M208.7 499.3h1.0M201.9 509.3h1.0M209.8 491.2h1.0M207.9 476.2h1.0M206.5 489.4h1.0M210.2 500.5h1.0M207.2 511.5h1.0M205.7 506.7h1.0M206.9 503.0h1.0M206.8 514.5h1.0M210.0 487.4h1.0M206.3 513.7h1.0M212.0 482.8h1.0M208.1 505.1h1.0M214.7 505.6h1.0M207.0 508.8h1.0M207.9 487.1h1.0M207.5 494.8h1.0M207.0 498.6h1.0M208.7 488.1h1.0M209.6 478.4h1.0M209.6 503.5h1.0M208.9 479.5h1.0M206.2 500.1h1.0M209.0 506.7h1.0M203.1 497.9h1.0M210.8 483.5h1.0M204.0 492.0h1.0M206.8 494.5h1.0M211.3 501.1h1.0M202.0 507.2h1.0M207.9 508.0h1.0M207.5 514.5h1.0M208.1 491.8h1.0M204.1 508.9h1.0M207.2 476.5h1.0M210.1 513.5h1.0M201.4 504.6h1.0M211.3 488.7h1.0M209.0 506.7h1.0M203.3 515.2h1.0M209.1 508.0h1.0M205.0 507.8h1.0M207.5 494.0h1.0M207.7 501.9h1.0M203.1 497.8h1.0M208.7 478.2h1.0M209.6 497.8h1.0M204.6 484.4h1.0M204.0 508.5h1.0M205.0 500.1h1.0M206.3 508.7h1.0M211.4 509.0h1.0M209.6 510.8h1.0M212.7 487.3h1.0M208.4 490.0h1.0M207.8 495.2h1.0M208.0 506.5h1.0M208.4 510.7h1.0M206.5 515.7h1.0M214.3 498.7h1.0M207.0 504.1h1.0M209.9 479.8h1.0M204.5 500.6h1.0M208.6 483.5h1.0M207.8 513.5h1.0M202.7 504.7h1.0M211.4 481.6h1.0M211.2 503.4h1.0M206.7 498.2h1.0M207.5 498.4h1.0M207.0 489.0h1.0M207.0 515.1h1.0M205.3 482.4h1.0M209.5 500.9h1.0M209.0 486.3h1.0M206.4 510.3h1.0M212.4 501.1h1.0M205.7 513.8h1.0M213.3 488.0h1.0M203.7 492.9h1.0M205.8 493.5h1.0M204.7 505.9h1.0M208.5 482.0h1.0M209.3 500.5h1.0M204.5 499.5h1.0M208.6 489.2h1.0M208.0 492.5h1.0M201.5 481.2h1.0M205.8 491.6h1.0M206.3 499.4h1.0M206.9 477.5h1.0M207.4 495.5h1.0M205.1 507.1h1.0M208.8 494.3h1.0M205.0 501.7h1.0M205.2 487.7h1.0M206.1 509.5h1.0M206.7 496.1h1.0M206.6 505.3h1.0M207.1 508.1h1.0M207.1 508.3h1.0M206.7 489.0h1.0M208.8 495.6h1.0M206.2 515.6h1.0M206.1 488.6h1.0M206.6 515.6h1.0M203.6 512.2h1.0M209.1 493.2h1.0M206.6 489.2h1.0M201.6 486.8h1.0M203.4 478.6h1.0M206.2 505.3h1.0M204.8 494.1h1.0M205.3 495.6h1.0M208.7 512.9h1.0M209.3 502.6h1.0M211.6 506.9h1.0M209.0 505.0h1.0M209.9 485.6h1.0M204.9 499.2h1.0M202.3 494.8h1.0M206.5 502.0h1.0M209.5 514.1h1.0M208.5 515.7h1.0M205.7 503.2h1.0M207.0 486.7h1.0M208.2 509.9h1.0M206.4 499.3h1.0M210.7 495.9h1.0M206.5 501.8h1.0M208.8 503.1h1.0M211.1 503.6h1.0M203.9 478.4h1.0M207.6 492.9h1.0M208.3 504.6h1.0M211.1 482.6h1.0M209.7 500.5h1.0M209.9 511.4h1.0M208.9 488.6h1.0M207.1 511.0h1.0M203.0 508.9h1.0M205.0 490.6h1.0M210.4 494.7h1.0M214.5 475.5h1.0M202.6 504.3h1.0M208.9 488.3h1.0M208.1 487.0h1.0M207.8 491.1h1.0M204.4 506.7h1.0M207.4 498.6h1.0M203.8 489.5h1.0M206.6 490.8h1.0M208.4 498.6h1.0M206.8 496.1h1.0M208.6 510.5h1.0M204.2 509.8h1.0M210.1 507.8h1.0M205.8 500.7h1.0M213.6 481.9h1.0M209.9 495.0h1.0M212.3 499.8h1.0M209.9 490.5h1.0M203.7 491.8h1.0M206.7 482.9h1.0M209.3 483.1h1.0M207.6 495.2h1.0M202.9 498.5h1.0M209.8 501.5h1.0M209.6 495.8h1.0M207.1 505.8h1.0M203.8 485.4h1.0M204.1 501.2h1.0M205.3 506.9h1.0M208.5 497.7h1.0M210.1 495.0h1.0M207.1 501.9h1.0M209.7 488.2h1.0M206.0 488.9h1.0M209.1 503.0h1.0M208.0 482.1h1.0M205.0 480.4h1.0M203.4 489.0h1.0M208.3 504.2h1.0M202.1 505.9h1.0M210.0 479.7h1.0M208.9 501.0h1.0M208.4 489.1h1.0M211.7 499.3h1.0M205.7 475.9h1.0M206.7 481.2h1.0M207.2 510.1h1.0M210.7 507.1h1.0M206.2 483.7h1.0M206.9 499.6h1.0M207.0 494.4h1.0M207.8 480.4h1.0M210.6 483.6h1.0M207.8 487.3h1.0M211.4 491.2h1.0M204.7 493.5h1.0M210.0 482.9h1.0M203.6 491.5h1.0M206.9 509.5h1.0M207.0 475.1h1.0M206.1 505.6h1.0M204.1 494.4h1.0M205.5 502.9h1.0M214.8 499.0h1.0M206.6 492.9h1.0M208.9 507.5h1.0M208.1 502.3h1.0M208.0 483.1h1.0M209.7 508.8h1.0M205.1 476.3h1.0M205.6 500.3h1.0M211.6 500.8h1.0M207.6 501.0h1.0M202.9 493.6h1.0M207.8 506.6h1.0M205.4 492.7h1.0M206.1 504.1h1.0M213.4 500.3h1.0M207.9 486.6h1.0M207.2 515.6h1.0M209.9 491.9h1.0M208.2 486.8h1.0M209.3 496.1h1.0M209.8 513.5h1.0M205.7 508.0h1.0M208.7 491.5h1.0M208.3 513.4h1.0M207.9 510.1h1.0M208.5 513.7h1.0M207.0 493.9h1.0M212.3 491.8h1.0M205.2 502.9h1.0M212.0 489.2h1.0M210.0 491.7h1.0M210.7 503.8h1.0M211.8 496.9h1.0M209.9 482.2h1.0M204.6 504.3h1.0M207.8 508.9h1.0M214.4 490.2h1.0M203.9 484.8h1.0M205.6 512.4h1.0M208.6 494.2h1.0M209.5 495.9h1.0M208.2 497.7h1.0M203.4 508.1h1.0M207.8 490.5h1.0M208.0 488.9h1.0M207.4 493.3h1.0M208.5 486.4h1.0M207.2 492.8h1.0M204.5 497.0h1.0M209.6 507.0h1.0M208.4 496.4h1.0M210.3 494.4h1.0M209.5 476.3h1.0M203.9 488.8h1.0M210.9 494.6h1.0M208.9 484.1h1.0M207.5 489.5h1.0M208.3 494.8h1.0M206.0 478.7h1.0M213.5 481.8h1.0M206.3 502.5h1.0M206.5 500.9h1.0M210.3 489.8h1.0M209.1 496.2h1.0M203.5 501.4h1.0M204.3 510.7h1.0M207.5 499.9h1.0M210.5 487.4h1.0M205.1 515.7h1.0M209.7 503.2h1.0M201.5 498.0h1.0M204.6 490.1h1.0M202.6 477.1h1.0M206.2 502.5h1.0M206.0 495.5h1.0M207.8 514.6h1.0M205.8 499.3h1.0M210.0 482.8h1.0M204.3 492.1h1.0M211.8 491.4h1.0M203.7 474.1h1.0M208.0 510.9h1.0M205.1 492.6h1.0M204.1 488.5h1.0M210.7 490.8h1.0M204.3 505.3h1.0M208.4 497.1h1.0M213.9 501.4h1.0M211.1 482.1h1.0M207.3 513.5h1.0M209.9 509.1h1.0M203.0 494.1h1.0M212.7 516.0h1.0M211.8 507.6h1.0M207.8 507.6h1.0M211.4 485.4h1.0M210.8 507.6h1.0M211.5 508.8h1.0M206.1 501.1h1.0M213.8 503.1h1.0M205.4 488.5h1.0M212.4 501.6h1.0M205.5 495.1h1.0M206.4 495.9h1.0M213.2 488.9h1.0M209.2 509.4h1.0M214.0 489.7h1.0M206.6 492.5h1.0M203.7 497.5h1.0M205.1 494.7h1.0M208.1 507.0h1.0M208.6 504.1h1.0M209.2 496.3h1.0M210.6 499.5h1.0M203.3 490.9h1.0M212.3 477.3h1.0M213.2 499.0h1.0M208.4 513.2h1.0M208.3 491.5h1.0M203.9 506.3h1.0M207.9 485.6h1.0M211.3 508.6h1.0M214.6 500.8h1.0M203.7 498.8h1.0M210.0 508.6h1.0M203.4 503.4h1.0M209.7 502.4h1.0M202.4 491.7h1.0M207.2 494.6h1.0M210.5 492.6h1.0M209.1 487.3h1.0M207.5 511.3h1.0M205.9 497.0h1.0M203.0 482.3h1.0M209.5 512.0h1.0M205.5 495.0h1.0M208.6 491.9h1.0M207.8 492.4h1.0M209.5 490.9h1.0M206.1 480.3h1.0M205.1 478.7h1.0M207.2 509.8h1.0M203.5 486.6h1.0M205.2 503.1h1.0M206.6 493.3h1.0M204.6 494.0h1.0M206.5 487.2h1.0M212.1 503.4h1.0M207.1 501.2h1.0M214.9 505.0h1.0M205.9 496.9h1.0M211.2 503.0h1.0M206.7 498.5h1.0M204.0 493.2h1.0M206.3 494.2h1.0M211.9 497.6h1.0M211.3 497.2h1.0M202.8 512.4h1.0M205.9 495.8h1.0M211.1 514.6h1.0M208.1 513.0h1.0M206.0 505.2h1.0M204.7 509.4h1.0M205.8 505.3h1.0M203.8 515.1h1.0M212.8 494.0h1.0M207.8 485.3h1.0M207.0 479.2h1.0M209.9 496.3h1.0M211.3 497.2h1.0M206.9 486.9h1.0M209.6 495.6h1.0M203.8 478.7h1.0M210.6 495.9h1.0M207.4 490.4h1.0M205.9 497.0h1.0M208.2 482.4h1.0M201.5 498.0h1.0M211.2 489.1h1.0M203.3 503.8h1.0M205.6 497.1h1.0M212.9 497.2h1.0M211.8 487.5h1.0M201.8 492.3h1.0M206.4 505.5h1.0M204.1 491.7h1.0M205.3 489.1h1.0M206.6 499.1h1.0M202.8 485.7h1.0M204.7 511.9h1.0M207.1 478.8h1.0M209.2 508.6h1.0M202.5 482.1h1.0M209.0 497.7h1.0M209.5 516.9h1.0M209.7 509.4h1.0M206.1 514.5h1.0M205.4 501.3h1.0M210.1 485.7h1.0M206.5 480.9h1.0M207.8 491.2h1.0M205.4 493.0h1.0M206.3 497.0h1.0M206.8 511.1h1.0M211.9 494.4h1.0M208.7 485.9h1.0M209.5 504.1h1.0M205.8 483.2h1.0M209.2 502.5h1.0M204.1 501.9h1.0M211.6 485.0h1.0M205.8 483.7h1.0M208.7 487.3h1.0M212.9 504.2h1.0M207.0 492.0h1.0M210.8 492.1h1.0M206.4 498.3h1.0M211.0 514.5h1.0M206.5 482.0h1.0M204.7 494.9h1.0M209.7 501.9h1.0M208.3 478.8h1.0M207.9 490.6h1.0M204.7 504.3h1.0M211.6 499.2h1.0M209.5 509.1h1.0M207.7 491.8h1.0M212.3 489.3h1.0M206.7 501.0h1.0M206.3 485.2h1.0M211.1 496.7h1.0M205.5 489.9h1.0M209.5 506.9h1.0M208.3 511.0h1.0M207.6 516.3h1.0M210.5 482.9h1.0M207.4 500.9h1.0M207.6 484.9h1.0M209.2 496.1h1.0" stroke="#000" stroke-width="1.0" stroke-opacity="1" fill="none"/>
<path d="M203.7 458.8h1.0M206.9 474.5h1.0M208.0 469.3h1.0M210.9 466.3h1.0M208.1 467.4h1.0M210.7 463.3h1.0M209.2 462.8h1.0M208.3 475.7h1.0M205.8 471.3h1.0M208.3 469.5h1.0M209.6 468.5h1.0M209.5 480.7h1.0M206.1 460.3h1.0M210.3 470.7h1.0M213.9 463.5h1.0M210.2 464.0h1.0M206.7 463.7h1.0M205.8 461.3h1.0M207.2 466.8h1.0M208.3 473.7h1.0M205.5 467.3h1.0M205.6 473.8h1.0M205.5 465.4h1.0M205.9 475.5h1.0M204.6 459.9h1.0M207.0 465.4h1.0M205.5 475.9h1.0M206.5 453.2h1.0M207.5 458.6h1.0M206.2 464.4h1.0M205.5 465.0h1.0M207.0 472.3h1.0M206.8 475.9h1.0M213.0 473.4h1.0M207.4 481.6h1.0M208.4 476.4h1.0M206.6 459.2h1.0M211.9 461.7h1.0M205.1 468.9h1.0M205.5 472.7h1.0M208.3 466.5h1.0M206.5 478.2h1.0M212.0 475.9h1.0M204.4 479.6h1.0M208.4 480.0h1.0M209.6 463.2h1.0M203.4 463.2h1.0M211.5 464.8h1.0M212.8 458.9h1.0M209.9 467.1h1.0M204.1 470.6h1.0M207.0 465.9h1.0M202.2 460.9h1.0M206.2 466.9h1.0M206.9 469.4h1.0M207.2 476.9h1.0M209.7 475.0h1.0M203.7 469.1h1.0M207.7 472.5h1.0M206.2 469.0h1.0M205.3 465.4h1.0M209.1 464.4h1.0M205.7 467.0h1.0M209.0 470.9h1.0M204.7 464.9h1.0M204.8 460.8h1.0M214.8 476.5h1.0M210.1 465.9h1.0M210.5 478.9h1.0M211.6 473.1h1.0M210.2 474.1h1.0M209.1 470.6h1.0M206.9 456.0h1.0M209.4 472.7h1.0M208.0 473.4h1.0M207.6 467.4h1.0M209.8 455.9h1.0M212.0 465.2h1.0M209.6 472.3h1.0M212.6 479.9h1.0M204.4 461.2h1.0M208.5 456.4h1.0M209.8 467.1h1.0M205.8 473.9h1.0M205.4 462.7h1.0M208.0 474.1h1.0M207.5 465.5h1.0M208.6 465.3h1.0M202.7 474.5h1.0M209.4 475.8h1.0M208.4 471.3h1.0M203.3 458.3h1.0M202.5 476.3h1.0M206.0 477.4h1.0M209.2 464.8h1.0M207.7 462.3h1.0M206.7 470.4h1.0M209.9 464.5h1.0M203.5 476.0h1.0M204.8 473.0h1.0M203.6 461.5h1.0M202.3 472.6h1.0M213.3 468.9h1.0M202.1 466.4h1.0M208.7 470.6h1.0M208.4 460.8h1.0M207.1 481.4h1.0M206.4 465.2h1.0M204.5 463.6h1.0M211.4 470.6h1.0M206.5 465.4h1.0M210.3 463.9h1.0M205.6 465.7h1.0M205.6 473.3h1.0M207.9 475.1h1.0M209.5 466.5h1.0M208.8 453.3h1.0M204.7 453.5h1.0M208.9 457.6h1.0M203.5 470.6h1.0" stroke="#000" stroke-width="1.0" stroke-opacity="1" fill="none"/>
<rect x="160.50" y="412.00" width="104.50" height="105.20" fill="none" stroke="#000" stroke-width="1.3"/>
<line x1="157.3" y1="517.2" x2="160.5" y2="517.2" stroke="#000" stroke-width="0.8" />
<line x1="160.5" y1="517.2" x2="160.5" y2="520.4000000000001" stroke="#000" stroke-width="0.8" />
<line x1="158.7" y1="509.28291111403735" x2="160.5" y2="509.28291111403735" stroke="#000" stroke-width="0.8" />
<line x1="168.36440863672152" y1="517.2" x2="168.36440863672152" y2="519.0" stroke="#000" stroke-width="0.8" />
<line x1="158.7" y1="504.6517110008729" x2="160.5" y2="504.6517110008729" stroke="#000" stroke-width="0.8" />
<line x1="172.96479277955117" y1="517.2" x2="172.96479277955117" y2="519.0" stroke="#000" stroke-width="0.8" />
<line x1="158.7" y1="501.36582222807465" x2="160.5" y2="501.36582222807465" stroke="#000" stroke-width="0.8" />
<line x1="176.228817273443" y1="517.2" x2="176.228817273443" y2="519.0" stroke="#000" stroke-width="0.8" />
<line x1="158.7" y1="498.81708888596273" x2="160.5" y2="498.81708888596273" stroke="#000" stroke-width="0.8" />
<line x1="178.76059136327848" y1="517.2" x2="178.76059136327848" y2="519.0" stroke="#000" stroke-width="0.8" />
<line x1="158.7" y1="496.7346221149102" x2="160.5" y2="496.7346221149102" stroke="#000" stroke-width="0.8" />
<line x1="180.8292014162727" y1="517.2" x2="180.8292014162727" y2="519.0" stroke="#000" stroke-width="0.8" />
<line x1="158.7" y1="494.9739215476251" x2="160.5" y2="494.9739215476251" stroke="#000" stroke-width="0.8" />
<line x1="182.57818629537246" y1="517.2" x2="182.57818629537246" y2="519.0" stroke="#000" stroke-width="0.8" />
<line x1="158.7" y1="493.44873334211195" x2="160.5" y2="493.44873334211195" stroke="#000" stroke-width="0.8" />
<line x1="184.09322591016453" y1="517.2" x2="184.09322591016453" y2="519.0" stroke="#000" stroke-width="0.8" />
<line x1="158.7" y1="492.1034220017458" x2="160.5" y2="492.1034220017458" stroke="#000" stroke-width="0.8" />
<line x1="185.42958555910235" y1="517.2" x2="185.42958555910235" y2="519.0" stroke="#000" stroke-width="0.8" />
<line x1="157.3" y1="490.90000000000003" x2="160.5" y2="490.90000000000003" stroke="#000" stroke-width="0.8" />
<line x1="186.625" y1="517.2" x2="186.625" y2="520.4000000000001" stroke="#000" stroke-width="0.8" />
<line x1="158.7" y1="482.98291111403734" x2="160.5" y2="482.98291111403734" stroke="#000" stroke-width="0.8" />
<line x1="194.48940863672152" y1="517.2" x2="194.48940863672152" y2="519.0" stroke="#000" stroke-width="0.8" />
<line x1="158.7" y1="478.3517110008729" x2="160.5" y2="478.3517110008729" stroke="#000" stroke-width="0.8" />
<line x1="199.08979277955117" y1="517.2" x2="199.08979277955117" y2="519.0" stroke="#000" stroke-width="0.8" />
<line x1="158.7" y1="475.06582222807464" x2="160.5" y2="475.06582222807464" stroke="#000" stroke-width="0.8" />
<line x1="202.353817273443" y1="517.2" x2="202.353817273443" y2="519.0" stroke="#000" stroke-width="0.8" />
<line x1="158.7" y1="472.5170888859627" x2="160.5" y2="472.5170888859627" stroke="#000" stroke-width="0.8" />
<line x1="204.88559136327848" y1="517.2" x2="204.88559136327848" y2="519.0" stroke="#000" stroke-width="0.8" />
<line x1="158.7" y1="470.4346221149102" x2="160.5" y2="470.4346221149102" stroke="#000" stroke-width="0.8" />
<line x1="206.9542014162727" y1="517.2" x2="206.9542014162727" y2="519.0" stroke="#000" stroke-width="0.8" />
<line x1="158.7" y1="468.67392154762507" x2="160.5" y2="468.67392154762507" stroke="#000" stroke-width="0.8" />
<line x1="208.70318629537246" y1="517.2" x2="208.70318629537246" y2="519.0" stroke="#000" stroke-width="0.8" />
<line x1="158.7" y1="467.1487333421119" x2="160.5" y2="467.1487333421119" stroke="#000" stroke-width="0.8" />
<line x1="210.21822591016453" y1="517.2" x2="210.21822591016453" y2="519.0" stroke="#000" stroke-width="0.8" />
<line x1="158.7" y1="465.8034220017458" x2="160.5" y2="465.8034220017458" stroke="#000" stroke-width="0.8" />
<line x1="211.55458555910235" y1="517.2" x2="211.55458555910235" y2="519.0" stroke="#000" stroke-width="0.8" />
<line x1="157.3" y1="464.6" x2="160.5" y2="464.6" stroke="#000" stroke-width="0.8" />
<line x1="212.75" y1="517.2" x2="212.75" y2="520.4000000000001" stroke="#000" stroke-width="0.8" />
<line x1="158.7" y1="456.6829111140373" x2="160.5" y2="456.6829111140373" stroke="#000" stroke-width="0.8" />
<line x1="220.61440863672152" y1="517.2" x2="220.61440863672152" y2="519.0" stroke="#000" stroke-width="0.8" />
<line x1="158.7" y1="452.0517110008729" x2="160.5" y2="452.0517110008729" stroke="#000" stroke-width="0.8" />
<line x1="225.2147927795512" y1="517.2" x2="225.2147927795512" y2="519.0" stroke="#000" stroke-width="0.8" />
<line x1="158.7" y1="448.7658222280746" x2="160.5" y2="448.7658222280746" stroke="#000" stroke-width="0.8" />
<line x1="228.478817273443" y1="517.2" x2="228.478817273443" y2="519.0" stroke="#000" stroke-width="0.8" />
<line x1="158.7" y1="446.2170888859627" x2="160.5" y2="446.2170888859627" stroke="#000" stroke-width="0.8" />
<line x1="231.01059136327848" y1="517.2" x2="231.01059136327848" y2="519.0" stroke="#000" stroke-width="0.8" />
<line x1="158.7" y1="444.1346221149102" x2="160.5" y2="444.1346221149102" stroke="#000" stroke-width="0.8" />
<line x1="233.0792014162727" y1="517.2" x2="233.0792014162727" y2="519.0" stroke="#000" stroke-width="0.8" />
<line x1="158.7" y1="442.37392154762506" x2="160.5" y2="442.37392154762506" stroke="#000" stroke-width="0.8" />
<line x1="234.82818629537246" y1="517.2" x2="234.82818629537246" y2="519.0" stroke="#000" stroke-width="0.8" />
<line x1="158.7" y1="440.84873334211187" x2="160.5" y2="440.84873334211187" stroke="#000" stroke-width="0.8" />
<line x1="236.34322591016453" y1="517.2" x2="236.34322591016453" y2="519.0" stroke="#000" stroke-width="0.8" />
<line x1="158.7" y1="439.5034220017458" x2="160.5" y2="439.5034220017458" stroke="#000" stroke-width="0.8" />
<line x1="237.67958555910235" y1="517.2" x2="237.67958555910235" y2="519.0" stroke="#000" stroke-width="0.8" />
<line x1="157.3" y1="438.3" x2="160.5" y2="438.3" stroke="#000" stroke-width="0.8" />
<line x1="238.875" y1="517.2" x2="238.875" y2="520.4000000000001" stroke="#000" stroke-width="0.8" />
<line x1="158.7" y1="430.3829111140373" x2="160.5" y2="430.3829111140373" stroke="#000" stroke-width="0.8" />
<line x1="246.73940863672152" y1="517.2" x2="246.73940863672152" y2="519.0" stroke="#000" stroke-width="0.8" />
<line x1="158.7" y1="425.7517110008729" x2="160.5" y2="425.7517110008729" stroke="#000" stroke-width="0.8" />
<line x1="251.3397927795512" y1="517.2" x2="251.3397927795512" y2="519.0" stroke="#000" stroke-width="0.8" />
<line x1="158.7" y1="422.46582222807456" x2="160.5" y2="422.46582222807456" stroke="#000" stroke-width="0.8" />
<line x1="254.603817273443" y1="517.2" x2="254.603817273443" y2="519.0" stroke="#000" stroke-width="0.8" />
<line x1="158.7" y1="419.9170888859627" x2="160.5" y2="419.9170888859627" stroke="#000" stroke-width="0.8" />
<line x1="257.1355913632785" y1="517.2" x2="257.1355913632785" y2="519.0" stroke="#000" stroke-width="0.8" />
<line x1="158.7" y1="417.8346221149102" x2="160.5" y2="417.8346221149102" stroke="#000" stroke-width="0.8" />
<line x1="259.20420141627267" y1="517.2" x2="259.20420141627267" y2="519.0" stroke="#000" stroke-width="0.8" />
<line x1="158.7" y1="416.07392154762505" x2="160.5" y2="416.07392154762505" stroke="#000" stroke-width="0.8" />
<line x1="260.95318629537246" y1="517.2" x2="260.95318629537246" y2="519.0" stroke="#000" stroke-width="0.8" />
<line x1="158.7" y1="414.54873334211186" x2="160.5" y2="414.54873334211186" stroke="#000" stroke-width="0.8" />
<line x1="262.4682259101645" y1="517.2" x2="262.4682259101645" y2="519.0" stroke="#000" stroke-width="0.8" />
<line x1="158.7" y1="413.20342200174576" x2="160.5" y2="413.20342200174576" stroke="#000" stroke-width="0.8" />
<line x1="263.80458555910235" y1="517.2" x2="263.80458555910235" y2="519.0" stroke="#000" stroke-width="0.8" />
<text class="s" x="155.9" y="519.9" font-size="7.6" text-anchor="end">10<tspan font-size="4.6" dy="-2.9">0</tspan></text>
<text class="s" x="154.5" y="529.2" font-size="8">10<tspan font-size="4.8" dy="-3">0</tspan></text>
<text class="s" x="155.9" y="493.6" font-size="7.6" text-anchor="end">10<tspan font-size="4.6" dy="-2.9">1</tspan></text>
<text class="s" x="180.6" y="529.2" font-size="8">10<tspan font-size="4.8" dy="-3">1</tspan></text>
<text class="s" x="155.9" y="467.3" font-size="7.6" text-anchor="end">10<tspan font-size="4.6" dy="-2.9">2</tspan></text>
<text class="s" x="206.8" y="529.2" font-size="8">10<tspan font-size="4.8" dy="-3">2</tspan></text>
<text class="s" x="155.9" y="441.0" font-size="7.6" text-anchor="end">10<tspan font-size="4.6" dy="-2.9">3</tspan></text>
<text class="s" x="232.9" y="529.2" font-size="8">10<tspan font-size="4.8" dy="-3">3</tspan></text>
<rect x="194.50" y="445.00" width="26.50" height="39.00" fill="none" stroke="#000" stroke-width="1.6"/>
<text x="227" y="469.3" font-size="13.5" text-anchor="start" font-weight="normal" >25%</text>
<path d="M342.4 491.7h1.0M345.6 496.7h1.0M347.9 503.3h1.0M342.9 502.6h1.0M345.8 500.6h1.0M341.4 497.5h1.0M340.7 500.3h1.0M346.2 476.1h1.0M338.1 477.7h1.0M337.5 497.1h1.0M340.6 498.3h1.0M342.8 498.8h1.0M338.6 492.6h1.0M335.7 489.0h1.0M339.5 498.2h1.0M333.6 506.3h1.0M339.6 476.7h1.0M339.2 500.4h1.0M340.2 489.4h1.0M336.3 496.5h1.0M340.5 497.3h1.0M338.3 507.6h1.0M332.7 493.9h1.0M333.4 472.4h1.0M340.5 503.2h1.0M338.7 498.9h1.0M339.1 506.7h1.0M337.5 499.9h1.0M341.1 476.5h1.0M344.4 487.5h1.0M335.3 486.7h1.0M343.2 489.5h1.0M342.9 483.6h1.0M340.8 474.9h1.0M338.6 508.3h1.0M337.7 495.9h1.0M332.6 512.3h1.0M338.9 499.0h1.0M338.3 482.5h1.0M338.4 490.3h1.0M335.7 492.2h1.0M335.9 488.5h1.0M341.0 496.4h1.0M338.8 498.5h1.0M346.5 497.8h1.0M340.2 493.0h1.0M341.1 501.0h1.0M343.5 499.2h1.0M337.4 492.7h1.0M336.7 508.6h1.0M337.1 476.2h1.0M338.9 484.6h1.0M340.5 495.5h1.0M336.4 477.0h1.0M338.4 479.7h1.0M339.0 495.9h1.0M338.2 495.7h1.0M338.1 512.0h1.0M332.7 482.0h1.0M344.1 480.5h1.0M342.1 491.5h1.0M339.7 478.5h1.0M338.1 492.3h1.0M331.3 494.1h1.0M337.9 469.3h1.0M340.3 490.0h1.0M333.7 506.4h1.0M339.2 481.4h1.0M336.2 497.1h1.0M337.5 501.6h1.0M334.7 496.7h1.0M341.4 499.5h1.0M336.4 483.5h1.0M335.2 494.8h1.0M338.5 506.9h1.0M338.4 508.2h1.0M338.6 504.9h1.0M343.5 497.0h1.0M334.7 498.4h1.0M340.2 490.5h1.0M338.7 501.4h1.0M331.5 499.8h1.0M345.8 486.5h1.0M344.3 488.8h1.0M338.4 490.0h1.0M339.5 485.5h1.0M337.3 491.3h1.0M336.0 493.1h1.0M343.5 484.8h1.0M340.3 485.6h1.0M335.1 493.6h1.0M338.5 504.6h1.0M342.3 494.8h1.0M337.0 508.5h1.0M334.5 485.5h1.0M342.4 498.2h1.0M341.9 491.4h1.0M342.4 506.4h1.0M332.1 499.5h1.0M343.3 482.6h1.0M335.9 497.7h1.0M341.9 493.6h1.0M333.2 496.0h1.0M339.1 489.7h1.0M343.5 470.7h1.0M339.9 487.2h1.0M341.8 490.3h1.0M346.2 495.7h1.0M337.5 476.2h1.0M338.5 493.2h1.0M345.6 497.7h1.0M340.2 483.9h1.0M340.3 483.3h1.0M334.1 498.5h1.0M337.8 479.3h1.0M343.9 506.9h1.0M341.3 476.0h1.0M336.3 483.2h1.0M343.1 492.5h1.0M336.3 478.7h1.0M336.7 495.6h1.0M338.6 499.1h1.0M341.6 481.4h1.0M342.8 494.0h1.0M345.8 492.2h1.0M338.2 492.4h1.0M344.3 499.2h1.0M344.1 504.8h1.0M339.2 491.2h1.0M343.9 481.2h1.0M340.8 504.4h1.0M336.2 473.3h1.0M334.1 505.8h1.0M349.2 484.1h1.0M334.6 480.1h1.0M345.6 501.8h1.0M342.2 485.9h1.0M342.2 485.7h1.0M341.8 485.5h1.0M334.7 488.8h1.0M341.2 497.2h1.0M337.5 503.5h1.0M333.5 472.5h1.0M341.9 491.9h1.0M339.5 488.7h1.0M341.7 496.0h1.0M345.0 483.4h1.0M334.8 492.2h1.0M338.7 490.3h1.0M331.3 497.5h1.0M346.2 497.5h1.0M344.4 500.0h1.0M340.7 497.9h1.0M343.9 498.5h1.0M342.2 492.9h1.0M336.8 497.4h1.0M338.1 499.8h1.0M331.1 512.6h1.0M344.8 510.0h1.0M341.2 482.3h1.0M338.2 481.0h1.0M341.3 493.8h1.0M340.4 473.6h1.0M333.9 469.9h1.0M345.2 499.0h1.0M340.0 489.7h1.0M332.8 489.5h1.0M338.1 484.5h1.0M343.7 471.8h1.0M340.4 502.3h1.0M342.9 477.4h1.0M345.3 491.8h1.0M338.7 497.2h1.0M344.0 494.9h1.0M338.5 495.9h1.0M341.3 515.7h1.0M339.9 483.6h1.0M347.3 509.8h1.0M345.6 483.4h1.0M337.5 478.8h1.0M339.3 507.9h1.0M343.5 494.1h1.0M340.8 498.9h1.0M339.3 482.3h1.0M337.1 511.5h1.0M336.2 481.3h1.0M342.1 490.0h1.0M338.5 495.3h1.0M339.4 475.8h1.0M343.6 496.0h1.0M346.6 502.8h1.0M337.6 488.9h1.0M337.1 469.7h1.0M342.8 486.3h1.0M343.8 495.5h1.0M339.5 511.2h1.0M336.2 512.6h1.0M338.5 516.9h1.0M344.5 488.0h1.0M346.9 498.3h1.0M341.3 489.4h1.0M339.8 489.2h1.0M338.6 502.3h1.0M343.2 507.1h1.0M344.7 492.9h1.0M342.9 491.0h1.0M342.3 500.5h1.0M341.5 485.1h1.0M335.3 512.2h1.0M336.9 487.0h1.0M341.5 489.6h1.0M341.7 508.5h1.0M333.9 494.7h1.0M342.4 478.6h1.0M342.9 509.7h1.0M340.2 498.9h1.0M338.9 504.4h1.0M338.0 493.8h1.0M337.4 486.0h1.0M344.6 493.2h1.0M343.6 476.6h1.0M335.3 484.0h1.0M347.5 506.4h1.0M348.8 488.9h1.0M342.4 497.7h1.0M339.0 500.2h1.0M339.9 499.0h1.0M333.0 482.5h1.0M336.1 512.0h1.0M343.5 483.3h1.0M342.0 487.6h1.0M335.6 483.8h1.0M339.7 507.3h1.0M341.1 481.8h1.0M343.2 484.6h1.0M339.8 495.0h1.0M340.1 487.8h1.0M339.0 490.3h1.0M344.7 496.2h1.0M341.8 493.0h1.0M333.2 500.2h1.0M342.7 482.7h1.0M335.6 487.5h1.0M334.8 467.0h1.0M338.5 487.4h1.0M340.5 506.7h1.0M336.5 477.0h1.0M339.6 501.1h1.0M345.7 504.0h1.0M340.6 494.3h1.0M333.2 501.2h1.0M343.1 493.0h1.0M338.9 498.3h1.0M341.8 499.4h1.0M341.7 477.3h1.0M337.8 476.0h1.0M336.9 492.3h1.0M341.0 486.2h1.0M346.7 496.0h1.0M342.0 485.6h1.0M345.2 490.9h1.0M336.9 491.5h1.0M344.5 485.2h1.0M339.1 503.2h1.0M338.9 503.4h1.0M344.8 488.4h1.0M335.4 481.0h1.0M345.0 499.7h1.0M340.3 489.6h1.0M344.2 488.6h1.0M350.7 497.2h1.0M333.7 505.2h1.0M341.0 493.6h1.0M339.3 506.6h1.0M338.1 510.5h1.0M337.0 503.5h1.0M334.1 504.1h1.0M336.2 491.2h1.0M343.0 485.4h1.0M342.1 493.7h1.0M345.1 503.4h1.0M341.0 491.7h1.0M336.5 508.9h1.0M339.1 480.2h1.0M336.9 473.5h1.0M336.6 488.9h1.0M341.0 503.6h1.0M343.2 474.2h1.0M338.1 500.1h1.0M341.3 493.5h1.0M336.9 501.3h1.0M339.6 491.0h1.0M339.5 491.2h1.0M341.2 505.4h1.0M340.3 486.8h1.0M339.5 492.0h1.0M341.9 501.8h1.0M346.4 503.2h1.0M333.3 484.6h1.0M335.0 496.8h1.0M349.2 498.6h1.0M337.7 508.5h1.0M342.4 484.9h1.0M336.2 509.4h1.0M342.9 471.2h1.0M337.0 499.7h1.0M334.6 493.6h1.0M336.5 475.7h1.0M337.9 487.9h1.0M341.0 475.2h1.0M340.9 489.7h1.0M333.6 506.6h1.0M338.2 498.1h1.0M346.1 498.0h1.0M343.6 495.9h1.0M337.6 495.7h1.0M333.7 498.8h1.0M343.2 498.3h1.0M337.3 480.7h1.0M337.0 490.5h1.0M334.3 514.2h1.0M336.7 495.0h1.0M338.1 495.0h1.0M331.4 482.6h1.0M339.8 493.2h1.0M341.5 487.9h1.0M343.1 496.0h1.0M339.7 493.8h1.0M344.1 493.3h1.0M346.1 495.0h1.0M340.9 493.7h1.0M341.1 498.6h1.0M337.4 502.1h1.0M350.1 499.4h1.0M340.4 485.1h1.0M336.9 484.9h1.0M340.9 486.3h1.0M346.2 489.1h1.0M336.4 483.9h1.0M339.5 492.1h1.0M343.6 485.9h1.0M341.2 503.8h1.0M338.8 475.0h1.0M340.8 504.6h1.0M341.4 493.7h1.0M332.2 510.9h1.0M339.1 480.9h1.0M338.6 495.3h1.0M340.1 484.0h1.0M349.4 507.0h1.0M343.8 500.4h1.0M338.3 481.1h1.0M334.8 505.1h1.0M340.2 511.1h1.0M330.9 507.8h1.0M341.7 487.8h1.0M343.4 486.5h1.0M338.8 499.2h1.0M340.5 496.7h1.0M340.7 504.7h1.0M336.5 472.2h1.0M336.2 467.7h1.0M347.6 486.5h1.0M339.7 497.2h1.0M336.8 488.3h1.0M340.9 493.7h1.0M343.1 491.0h1.0M337.2 478.0h1.0M333.2 496.4h1.0M341.1 489.2h1.0M342.4 480.9h1.0M338.5 491.1h1.0M336.9 490.6h1.0M339.9 501.3h1.0M343.1 483.4h1.0M341.8 489.2h1.0M343.4 487.4h1.0M344.1 484.0h1.0M338.0 502.7h1.0M343.9 502.9h1.0M347.8 504.6h1.0M339.8 503.6h1.0M336.6 502.3h1.0M341.4 492.0h1.0M337.0 505.0h1.0M331.9 491.8h1.0M334.3 489.9h1.0M338.1 484.7h1.0M337.4 496.7h1.0M347.7 512.3h1.0M339.1 489.1h1.0M342.3 484.6h1.0M334.0 504.0h1.0M338.2 510.0h1.0M341.2 478.0h1.0M341.0 498.8h1.0M340.1 478.9h1.0M333.9 513.6h1.0M343.0 512.9h1.0M342.4 493.3h1.0M341.4 505.9h1.0M337.8 507.3h1.0M340.9 495.8h1.0M341.6 497.0h1.0M336.2 510.3h1.0M337.9 490.7h1.0M330.5 475.9h1.0M342.1 492.6h1.0M339.5 489.6h1.0M342.3 486.6h1.0M334.0 476.1h1.0M336.7 497.0h1.0M345.6 499.7h1.0M337.2 479.3h1.0M343.1 499.0h1.0M339.6 500.3h1.0M342.2 499.1h1.0M345.1 477.0h1.0M337.3 487.9h1.0M335.9 514.9h1.0M341.3 498.1h1.0M343.0 491.1h1.0M343.2 491.4h1.0M342.9 499.7h1.0M345.0 477.3h1.0M336.2 485.4h1.0M336.6 497.7h1.0M343.7 489.9h1.0M344.1 503.2h1.0M337.5 500.8h1.0M345.6 488.5h1.0M331.2 499.6h1.0M341.0 500.3h1.0M341.9 493.1h1.0M339.8 485.0h1.0M347.6 510.4h1.0M339.3 484.5h1.0M341.6 510.9h1.0M340.1 484.8h1.0M343.6 496.4h1.0M336.7 491.3h1.0M340.5 481.7h1.0M341.0 507.5h1.0M344.1 507.1h1.0M342.9 492.8h1.0M342.3 507.0h1.0M340.1 499.4h1.0M337.4 493.9h1.0M338.0 482.2h1.0M333.2 488.6h1.0M340.7 485.8h1.0M340.6 503.0h1.0M333.5 492.7h1.0M342.2 500.0h1.0M347.1 496.0h1.0M344.8 487.7h1.0M336.4 488.0h1.0M338.2 503.4h1.0M342.9 494.0h1.0M336.4 495.4h1.0M338.3 489.8h1.0M333.1 510.8h1.0M350.6 494.4h1.0M348.7 489.4h1.0M351.0 493.3h1.0M332.7 493.8h1.0M343.1 512.4h1.0M343.8 513.1h1.0M340.7 477.4h1.0M340.6 484.3h1.0M343.3 470.8h1.0M336.1 481.3h1.0M340.4 505.1h1.0M338.8 479.7h1.0M337.9 492.2h1.0M344.6 495.2h1.0M333.8 504.1h1.0M334.8 487.3h1.0M342.0 496.4h1.0M341.1 491.9h1.0M332.6 476.2h1.0M336.6 483.1h1.0M338.1 475.3h1.0M339.5 499.2h1.0M338.0 508.5h1.0M340.8 504.0h1.0M336.4 496.2h1.0M334.3 473.2h1.0M333.0 489.5h1.0M341.2 489.8h1.0M344.1 495.1h1.0M340.0 495.4h1.0M343.9 511.5h1.0M334.3 495.0h1.0M338.1 494.1h1.0M349.4 491.4h1.0M338.1 483.8h1.0M348.8 515.9h1.0M344.0 496.7h1.0M337.1 509.9h1.0M339.0 496.5h1.0M339.3 495.7h1.0M332.1 480.6h1.0M334.8 470.0h1.0M335.3 488.5h1.0M339.2 493.0h1.0M338.2 505.3h1.0M331.7 488.1h1.0M339.0 484.4h1.0M345.5 492.6h1.0M344.4 499.9h1.0M338.9 504.7h1.0M334.1 480.5h1.0M338.4 467.6h1.0M338.2 491.7h1.0M333.0 482.5h1.0M345.0 500.5h1.0M340.8 508.5h1.0M340.4 507.5h1.0M344.2 487.7h1.0M342.4 506.2h1.0M341.1 489.3h1.0M343.5 506.5h1.0M339.9 499.6h1.0M340.5 496.7h1.0M341.4 489.5h1.0M342.9 497.9h1.0M346.9 497.2h1.0M340.4 480.5h1.0M349.0 491.3h1.0M337.9 490.9h1.0M340.0 492.8h1.0M346.8 488.6h1.0M339.1 489.0h1.0M342.4 475.9h1.0M344.0 489.8h1.0M334.3 510.0h1.0M334.7 501.6h1.0M340.1 486.5h1.0M333.3 486.0h1.0M343.0 493.1h1.0M337.7 504.4h1.0M340.1 494.6h1.0M336.5 478.7h1.0M338.1 497.0h1.0M338.3 497.2h1.0M339.0 491.1h1.0M339.8 497.6h1.0M331.0 493.6h1.0M339.2 488.9h1.0M343.9 506.4h1.0M344.6 501.7h1.0M341.8 495.2h1.0M343.0 486.5h1.0M339.4 497.2h1.0M339.4 480.1h1.0M339.6 489.2h1.0M337.4 500.5h1.0M344.3 494.6h1.0M335.4 491.8h1.0M339.2 482.2h1.0M337.5 495.2h1.0M337.6 498.5h1.0M334.7 500.8h1.0M337.2 495.0h1.0M340.0 488.1h1.0M344.1 474.2h1.0M340.7 500.6h1.0M339.0 492.9h1.0M335.4 493.1h1.0M340.6 487.1h1.0M340.0 489.6h1.0M335.8 492.7h1.0M336.8 503.1h1.0M336.8 508.7h1.0M339.8 493.2h1.0M337.0 498.2h1.0M335.8 476.7h1.0M341.6 470.8h1.0M344.5 487.7h1.0M346.2 496.1h1.0M346.5 477.7h1.0M338.2 496.4h1.0M337.7 494.2h1.0M339.3 500.7h1.0M345.7 470.0h1.0M342.4 481.0h1.0M346.5 477.5h1.0M336.6 499.0h1.0M339.2 500.9h1.0M341.4 485.1h1.0M333.4 506.0h1.0M339.1 492.3h1.0M338.7 490.6h1.0M337.0 494.0h1.0M340.9 480.0h1.0M333.6 499.4h1.0M343.4 487.6h1.0M339.3 488.0h1.0M341.5 492.6h1.0M337.7 485.2h1.0M341.7 497.4h1.0M338.2 497.7h1.0M340.6 471.5h1.0M337.6 496.0h1.0M345.0 497.6h1.0M334.9 503.0h1.0M338.8 502.3h1.0M334.3 475.7h1.0M333.5 499.8h1.0M344.7 496.1h1.0M340.6 492.2h1.0M340.7 482.4h1.0M344.9 502.0h1.0M343.8 492.5h1.0M343.3 503.9h1.0M350.1 505.1h1.0M336.9 484.8h1.0M343.5 498.8h1.0M342.2 494.0h1.0M336.7 495.0h1.0M334.0 496.5h1.0M349.2 501.2h1.0M336.5 484.1h1.0M349.7 500.4h1.0M337.8 499.7h1.0M338.6 482.0h1.0M340.5 498.9h1.0M345.2 479.9h1.0M345.9 490.8h1.0M331.9 504.1h1.0M344.0 499.2h1.0M343.3 483.8h1.0M342.0 475.8h1.0M346.7 497.7h1.0M342.0 494.4h1.0M342.5 495.6h1.0M336.2 489.6h1.0M332.2 484.1h1.0M339.3 497.5h1.0M349.0 476.0h1.0M348.5 488.9h1.0M338.2 492.6h1.0M348.9 481.8h1.0M338.4 499.3h1.0M343.8 497.7h1.0M340.4 504.1h1.0M336.0 510.4h1.0M338.0 497.6h1.0M336.2 486.9h1.0M344.0 499.6h1.0M339.2 502.2h1.0M331.6 495.5h1.0M333.0 504.4h1.0M336.6 493.4h1.0M336.6 515.7h1.0M346.2 475.2h1.0M342.7 490.2h1.0M346.0 497.1h1.0M336.9 488.8h1.0M340.2 511.7h1.0M340.4 487.9h1.0M338.3 502.6h1.0M338.7 512.3h1.0M343.6 495.1h1.0M340.4 490.0h1.0M346.2 491.3h1.0M341.1 479.0h1.0M339.2 495.5h1.0M339.7 494.1h1.0M344.0 501.2h1.0M343.2 487.3h1.0M337.9 493.6h1.0M333.4 478.1h1.0M341.3 493.6h1.0M340.3 506.3h1.0M331.2 497.9h1.0M339.0 479.5h1.0M342.7 508.7h1.0M333.9 494.0h1.0M343.9 494.0h1.0M338.1 504.0h1.0M333.0 493.1h1.0M337.3 492.8h1.0M334.8 495.5h1.0M345.0 498.4h1.0M334.7 488.0h1.0M336.9 477.6h1.0M343.0 498.9h1.0M339.2 509.4h1.0M342.9 487.3h1.0M340.1 492.1h1.0M339.9 507.7h1.0M345.2 483.2h1.0M348.0 476.3h1.0M342.8 506.2h1.0M340.6 499.1h1.0M337.3 509.4h1.0M339.2 487.9h1.0M333.9 482.7h1.0M342.0 494.0h1.0M347.1 500.4h1.0M341.4 485.2h1.0M342.2 478.2h1.0M336.9 508.5h1.0M341.1 481.2h1.0M337.4 492.2h1.0M341.3 495.8h1.0M343.0 473.5h1.0M338.1 495.1h1.0M344.3 487.0h1.0M334.5 484.8h1.0M334.9 488.2h1.0M337.1 505.8h1.0M342.3 492.0h1.0M341.3 510.7h1.0M338.8 481.6h1.0M340.1 480.5h1.0M340.9 503.1h1.0M338.5 503.7h1.0M345.0 513.6h1.0M338.6 500.0h1.0M343.3 502.5h1.0M343.9 499.0h1.0M342.9 503.7h1.0M342.0 500.0h1.0M341.2 493.1h1.0M332.6 493.0h1.0M340.2 487.9h1.0M338.2 507.3h1.0M339.0 469.6h1.0M337.9 492.5h1.0M345.1 497.1h1.0M342.2 488.0h1.0M337.7 476.8h1.0M342.6 494.1h1.0M337.1 494.5h1.0M344.6 503.9h1.0M343.3 506.3h1.0M341.0 493.9h1.0M340.0 499.1h1.0M333.1 496.9h1.0M340.2 484.4h1.0M337.8 506.3h1.0M338.4 492.9h1.0M346.1 483.5h1.0M339.9 489.4h1.0M337.9 492.0h1.0M342.3 491.0h1.0M343.9 501.8h1.0M335.7 494.5h1.0M339.3 480.0h1.0M332.8 504.7h1.0M341.2 507.0h1.0M346.4 502.2h1.0M341.5 507.6h1.0M339.5 489.7h1.0M344.0 500.9h1.0M337.9 489.5h1.0M334.9 516.3h1.0M338.5 488.6h1.0M337.6 488.3h1.0M340.5 494.3h1.0M343.2 467.2h1.0M340.6 511.8h1.0M340.2 487.5h1.0M348.1 488.4h1.0M342.8 496.4h1.0M339.4 483.2h1.0M340.7 496.0h1.0M347.4 477.7h1.0M333.8 499.8h1.0M338.7 506.0h1.0M332.6 477.8h1.0M346.0 484.4h1.0M336.4 492.1h1.0M346.5 491.8h1.0M343.2 492.1h1.0M335.7 496.6h1.0M332.7 504.8h1.0M333.5 495.3h1.0M331.3 492.7h1.0M341.7 485.9h1.0M347.9 493.8h1.0M341.8 478.1h1.0M338.0 496.3h1.0M343.0 500.1h1.0M334.3 477.9h1.0M335.5 505.8h1.0M332.9 480.6h1.0M340.5 493.2h1.0M339.7 484.9h1.0M341.4 492.6h1.0M339.2 496.2h1.0M339.1 491.7h1.0M344.6 501.3h1.0M340.3 495.2h1.0M345.5 479.5h1.0M332.2 494.1h1.0M333.1 482.3h1.0M340.9 495.9h1.0M338.6 485.6h1.0M334.1 486.1h1.0M336.7 493.4h1.0M343.7 490.6h1.0M335.4 498.2h1.0M344.9 497.1h1.0M338.2 489.6h1.0M338.7 482.5h1.0M343.7 490.4h1.0M347.7 506.6h1.0M338.1 485.3h1.0M332.8 493.8h1.0M341.5 489.8h1.0M339.5 498.7h1.0M336.8 493.1h1.0M338.9 509.8h1.0M342.7 492.6h1.0M335.8 492.2h1.0M336.8 489.9h1.0M341.4 502.3h1.0M344.0 487.5h1.0M340.7 493.4h1.0M344.1 503.3h1.0M341.0 499.3h1.0M332.0 497.3h1.0M339.4 493.3h1.0M341.1 481.0h1.0M338.4 502.6h1.0M342.8 495.8h1.0M342.2 485.4h1.0M346.0 471.9h1.0M338.6 485.7h1.0M338.1 496.1h1.0M340.4 504.1h1.0M347.6 499.2h1.0M336.3 494.0h1.0M336.9 485.4h1.0M338.4 503.9h1.0M336.8 497.3h1.0M337.0 503.1h1.0M344.6 478.6h1.0M342.9 484.7h1.0M341.3 492.9h1.0M343.4 480.5h1.0M347.6 497.5h1.0M337.4 507.3h1.0M345.4 499.4h1.0M338.0 485.4h1.0M336.4 510.9h1.0M340.2 493.6h1.0M338.5 506.8h1.0M338.6 503.0h1.0M332.9 485.6h1.0M341.3 483.7h1.0M347.7 472.2h1.0M341.6 499.5h1.0M341.8 493.2h1.0M341.1 487.3h1.0M339.9 513.0h1.0M339.9 505.6h1.0M345.4 487.9h1.0M330.8 506.4h1.0M347.7 478.0h1.0M338.0 493.1h1.0M339.0 500.3h1.0M339.5 500.2h1.0M336.7 477.2h1.0M347.3 496.7h1.0M341.6 481.7h1.0M341.8 493.4h1.0M341.9 495.2h1.0M344.2 508.8h1.0M338.6 489.9h1.0M342.9 478.5h1.0M337.2 490.1h1.0M331.6 514.3h1.0M338.9 491.7h1.0M335.3 499.7h1.0M338.2 481.3h1.0M341.4 510.2h1.0M334.1 493.6h1.0M348.7 491.9h1.0M337.2 511.0h1.0M340.9 503.8h1.0M346.6 500.8h1.0M341.3 514.4h1.0M334.0 481.9h1.0M339.1 487.5h1.0M339.3 474.0h1.0M333.5 501.6h1.0M339.2 498.4h1.0M338.5 493.8h1.0M334.0 512.8h1.0M344.2 479.8h1.0M338.2 497.8h1.0M338.3 493.4h1.0M340.8 474.4h1.0M343.0 499.0h1.0M336.1 492.0h1.0" stroke="#000" stroke-width="1.0" stroke-opacity="1" fill="none"/>
<path d="M341.1 464.9h1.0M341.7 455.2h1.0M341.7 470.2h1.0M343.0 470.4h1.0M339.2 468.1h1.0M345.4 467.6h1.0M342.4 467.5h1.0M343.6 457.1h1.0M341.3 473.6h1.0M337.9 471.4h1.0M339.7 463.7h1.0M337.0 460.0h1.0M346.2 455.7h1.0M342.1 456.5h1.0M349.6 472.4h1.0M338.3 458.2h1.0M340.4 469.6h1.0M348.1 478.3h1.0M337.6 468.8h1.0M345.2 461.5h1.0M339.6 474.2h1.0M336.0 467.3h1.0M341.2 464.8h1.0M341.6 454.4h1.0M344.8 463.5h1.0M349.3 482.4h1.0M339.7 482.0h1.0M347.2 460.7h1.0M340.5 476.3h1.0M338.6 464.3h1.0M331.5 456.1h1.0M336.8 461.5h1.0M338.6 469.0h1.0M342.5 464.2h1.0M336.0 468.9h1.0M344.0 466.6h1.0M347.0 463.5h1.0M344.9 469.1h1.0M346.8 479.6h1.0M336.9 453.0h1.0M345.6 469.5h1.0M342.9 463.6h1.0M338.5 476.3h1.0M343.4 462.8h1.0M341.7 469.3h1.0M336.3 462.1h1.0M343.5 468.1h1.0M336.0 469.4h1.0M349.4 471.8h1.0M336.2 463.4h1.0M339.0 461.0h1.0M338.2 462.5h1.0M341.1 457.4h1.0M345.2 469.5h1.0M349.3 473.5h1.0M345.3 471.0h1.0M341.1 458.7h1.0M344.2 467.8h1.0M338.9 470.2h1.0M342.8 462.0h1.0M347.3 463.3h1.0M342.0 475.3h1.0M339.4 464.6h1.0M343.3 464.5h1.0M339.5 458.3h1.0M342.4 464.1h1.0M344.8 474.9h1.0M341.4 473.0h1.0M338.7 479.4h1.0M339.3 466.1h1.0M340.0 463.3h1.0M344.7 467.1h1.0M338.0 473.0h1.0M341.7 471.5h1.0M342.4 463.6h1.0M334.3 464.8h1.0M338.0 476.4h1.0M340.6 478.5h1.0M350.7 476.1h1.0M351.0 459.9h1.0M339.5 459.1h1.0M336.2 457.2h1.0M345.1 461.0h1.0M340.2 471.5h1.0M339.9 479.1h1.0M346.2 472.6h1.0M348.1 471.2h1.0M342.3 475.6h1.0M345.7 456.7h1.0M345.9 475.0h1.0M332.6 482.8h1.0M342.2 478.0h1.0M336.9 468.8h1.0M338.8 460.7h1.0M342.6 456.0h1.0M341.4 472.5h1.0M338.5 458.8h1.0M343.8 474.2h1.0M345.1 463.0h1.0M339.9 477.7h1.0M345.0 469.7h1.0M342.4 465.9h1.0M343.9 472.6h1.0M341.7 469.3h1.0M336.0 466.1h1.0M347.8 468.9h1.0M336.1 463.6h1.0M341.9 478.3h1.0M350.0 466.9h1.0M340.9 468.2h1.0" stroke="#000" stroke-width="1.0" stroke-opacity="1" fill="none"/>
<rect x="283.80" y="412.00" width="104.20" height="105.20" fill="none" stroke="#000" stroke-width="1.3"/>
<line x1="280.6" y1="517.2" x2="283.8" y2="517.2" stroke="#000" stroke-width="0.8" />
<line x1="283.8" y1="517.2" x2="283.8" y2="520.4000000000001" stroke="#000" stroke-width="0.8" />
<line x1="282.0" y1="509.28291111403735" x2="283.8" y2="509.28291111403735" stroke="#000" stroke-width="0.8" />
<line x1="291.6418313870467" y1="517.2" x2="291.6418313870467" y2="519.0" stroke="#000" stroke-width="0.8" />
<line x1="282.0" y1="504.6517110008729" x2="283.8" y2="504.6517110008729" stroke="#000" stroke-width="0.8" />
<line x1="296.22900868544724" y1="517.2" x2="296.22900868544724" y2="519.0" stroke="#000" stroke-width="0.8" />
<line x1="282.0" y1="501.36582222807465" x2="283.8" y2="501.36582222807465" stroke="#000" stroke-width="0.8" />
<line x1="299.48366277409343" y1="517.2" x2="299.48366277409343" y2="519.0" stroke="#000" stroke-width="0.8" />
<line x1="282.0" y1="498.81708888596273" x2="283.8" y2="498.81708888596273" stroke="#000" stroke-width="0.8" />
<line x1="302.0081686129533" y1="517.2" x2="302.0081686129533" y2="519.0" stroke="#000" stroke-width="0.8" />
<line x1="282.0" y1="496.7346221149102" x2="283.8" y2="496.7346221149102" stroke="#000" stroke-width="0.8" />
<line x1="304.0708400724939" y1="517.2" x2="304.0708400724939" y2="519.0" stroke="#000" stroke-width="0.8" />
<line x1="282.0" y1="494.9739215476251" x2="283.8" y2="494.9739215476251" stroke="#000" stroke-width="0.8" />
<line x1="305.8148039423714" y1="517.2" x2="305.8148039423714" y2="519.0" stroke="#000" stroke-width="0.8" />
<line x1="282.0" y1="493.44873334211195" x2="283.8" y2="493.44873334211195" stroke="#000" stroke-width="0.8" />
<line x1="307.3254941611401" y1="517.2" x2="307.3254941611401" y2="519.0" stroke="#000" stroke-width="0.8" />
<line x1="282.0" y1="492.1034220017458" x2="283.8" y2="492.1034220017458" stroke="#000" stroke-width="0.8" />
<line x1="308.6580173708944" y1="517.2" x2="308.6580173708944" y2="519.0" stroke="#000" stroke-width="0.8" />
<line x1="280.6" y1="490.90000000000003" x2="283.8" y2="490.90000000000003" stroke="#000" stroke-width="0.8" />
<line x1="309.85" y1="517.2" x2="309.85" y2="520.4000000000001" stroke="#000" stroke-width="0.8" />
<line x1="282.0" y1="482.98291111403734" x2="283.8" y2="482.98291111403734" stroke="#000" stroke-width="0.8" />
<line x1="317.6918313870467" y1="517.2" x2="317.6918313870467" y2="519.0" stroke="#000" stroke-width="0.8" />
<line x1="282.0" y1="478.3517110008729" x2="283.8" y2="478.3517110008729" stroke="#000" stroke-width="0.8" />
<line x1="322.2790086854472" y1="517.2" x2="322.2790086854472" y2="519.0" stroke="#000" stroke-width="0.8" />
<line x1="282.0" y1="475.06582222807464" x2="283.8" y2="475.06582222807464" stroke="#000" stroke-width="0.8" />
<line x1="325.53366277409344" y1="517.2" x2="325.53366277409344" y2="519.0" stroke="#000" stroke-width="0.8" />
<line x1="282.0" y1="472.5170888859627" x2="283.8" y2="472.5170888859627" stroke="#000" stroke-width="0.8" />
<line x1="328.0581686129533" y1="517.2" x2="328.0581686129533" y2="519.0" stroke="#000" stroke-width="0.8" />
<line x1="282.0" y1="470.4346221149102" x2="283.8" y2="470.4346221149102" stroke="#000" stroke-width="0.8" />
<line x1="330.12084007249393" y1="517.2" x2="330.12084007249393" y2="519.0" stroke="#000" stroke-width="0.8" />
<line x1="282.0" y1="468.67392154762507" x2="283.8" y2="468.67392154762507" stroke="#000" stroke-width="0.8" />
<line x1="331.8648039423714" y1="517.2" x2="331.8648039423714" y2="519.0" stroke="#000" stroke-width="0.8" />
<line x1="282.0" y1="467.1487333421119" x2="283.8" y2="467.1487333421119" stroke="#000" stroke-width="0.8" />
<line x1="333.3754941611401" y1="517.2" x2="333.3754941611401" y2="519.0" stroke="#000" stroke-width="0.8" />
<line x1="282.0" y1="465.8034220017458" x2="283.8" y2="465.8034220017458" stroke="#000" stroke-width="0.8" />
<line x1="334.7080173708944" y1="517.2" x2="334.7080173708944" y2="519.0" stroke="#000" stroke-width="0.8" />
<line x1="280.6" y1="464.6" x2="283.8" y2="464.6" stroke="#000" stroke-width="0.8" />
<line x1="335.9" y1="517.2" x2="335.9" y2="520.4000000000001" stroke="#000" stroke-width="0.8" />
<line x1="282.0" y1="456.6829111140373" x2="283.8" y2="456.6829111140373" stroke="#000" stroke-width="0.8" />
<line x1="343.7418313870467" y1="517.2" x2="343.7418313870467" y2="519.0" stroke="#000" stroke-width="0.8" />
<line x1="282.0" y1="452.0517110008729" x2="283.8" y2="452.0517110008729" stroke="#000" stroke-width="0.8" />
<line x1="348.3290086854472" y1="517.2" x2="348.3290086854472" y2="519.0" stroke="#000" stroke-width="0.8" />
<line x1="282.0" y1="448.7658222280746" x2="283.8" y2="448.7658222280746" stroke="#000" stroke-width="0.8" />
<line x1="351.58366277409345" y1="517.2" x2="351.58366277409345" y2="519.0" stroke="#000" stroke-width="0.8" />
<line x1="282.0" y1="446.2170888859627" x2="283.8" y2="446.2170888859627" stroke="#000" stroke-width="0.8" />
<line x1="354.1081686129533" y1="517.2" x2="354.1081686129533" y2="519.0" stroke="#000" stroke-width="0.8" />
<line x1="282.0" y1="444.1346221149102" x2="283.8" y2="444.1346221149102" stroke="#000" stroke-width="0.8" />
<line x1="356.17084007249395" y1="517.2" x2="356.17084007249395" y2="519.0" stroke="#000" stroke-width="0.8" />
<line x1="282.0" y1="442.37392154762506" x2="283.8" y2="442.37392154762506" stroke="#000" stroke-width="0.8" />
<line x1="357.9148039423714" y1="517.2" x2="357.9148039423714" y2="519.0" stroke="#000" stroke-width="0.8" />
<line x1="282.0" y1="440.84873334211187" x2="283.8" y2="440.84873334211187" stroke="#000" stroke-width="0.8" />
<line x1="359.42549416114014" y1="517.2" x2="359.42549416114014" y2="519.0" stroke="#000" stroke-width="0.8" />
<line x1="282.0" y1="439.5034220017458" x2="283.8" y2="439.5034220017458" stroke="#000" stroke-width="0.8" />
<line x1="360.75801737089444" y1="517.2" x2="360.75801737089444" y2="519.0" stroke="#000" stroke-width="0.8" />
<line x1="280.6" y1="438.3" x2="283.8" y2="438.3" stroke="#000" stroke-width="0.8" />
<line x1="361.95" y1="517.2" x2="361.95" y2="520.4000000000001" stroke="#000" stroke-width="0.8" />
<line x1="282.0" y1="430.3829111140373" x2="283.8" y2="430.3829111140373" stroke="#000" stroke-width="0.8" />
<line x1="369.7918313870467" y1="517.2" x2="369.7918313870467" y2="519.0" stroke="#000" stroke-width="0.8" />
<line x1="282.0" y1="425.7517110008729" x2="283.8" y2="425.7517110008729" stroke="#000" stroke-width="0.8" />
<line x1="374.3790086854472" y1="517.2" x2="374.3790086854472" y2="519.0" stroke="#000" stroke-width="0.8" />
<line x1="282.0" y1="422.46582222807456" x2="283.8" y2="422.46582222807456" stroke="#000" stroke-width="0.8" />
<line x1="377.6336627740934" y1="517.2" x2="377.6336627740934" y2="519.0" stroke="#000" stroke-width="0.8" />
<line x1="282.0" y1="419.9170888859627" x2="283.8" y2="419.9170888859627" stroke="#000" stroke-width="0.8" />
<line x1="380.1581686129533" y1="517.2" x2="380.1581686129533" y2="519.0" stroke="#000" stroke-width="0.8" />
<line x1="282.0" y1="417.8346221149102" x2="283.8" y2="417.8346221149102" stroke="#000" stroke-width="0.8" />
<line x1="382.22084007249396" y1="517.2" x2="382.22084007249396" y2="519.0" stroke="#000" stroke-width="0.8" />
<line x1="282.0" y1="416.07392154762505" x2="283.8" y2="416.07392154762505" stroke="#000" stroke-width="0.8" />
<line x1="383.9648039423714" y1="517.2" x2="383.9648039423714" y2="519.0" stroke="#000" stroke-width="0.8" />
<line x1="282.0" y1="414.54873334211186" x2="283.8" y2="414.54873334211186" stroke="#000" stroke-width="0.8" />
<line x1="385.47549416114015" y1="517.2" x2="385.47549416114015" y2="519.0" stroke="#000" stroke-width="0.8" />
<line x1="282.0" y1="413.20342200174576" x2="283.8" y2="413.20342200174576" stroke="#000" stroke-width="0.8" />
<line x1="386.8080173708944" y1="517.2" x2="386.8080173708944" y2="519.0" stroke="#000" stroke-width="0.8" />
<text class="s" x="279.2" y="519.9" font-size="7.6" text-anchor="end">10<tspan font-size="4.6" dy="-2.9">0</tspan></text>
<text class="s" x="277.8" y="529.2" font-size="8">10<tspan font-size="4.8" dy="-3">0</tspan></text>
<text class="s" x="279.2" y="493.6" font-size="7.6" text-anchor="end">10<tspan font-size="4.6" dy="-2.9">1</tspan></text>
<text class="s" x="303.9" y="529.2" font-size="8">10<tspan font-size="4.8" dy="-3">1</tspan></text>
<text class="s" x="279.2" y="467.3" font-size="7.6" text-anchor="end">10<tspan font-size="4.6" dy="-2.9">2</tspan></text>
<text class="s" x="329.9" y="529.2" font-size="8">10<tspan font-size="4.8" dy="-3">2</tspan></text>
<text class="s" x="279.2" y="441.0" font-size="7.6" text-anchor="end">10<tspan font-size="4.6" dy="-2.9">3</tspan></text>
<text class="s" x="355.9" y="529.2" font-size="8">10<tspan font-size="4.8" dy="-3">3</tspan></text>
<rect x="329.30" y="444.50" width="26.50" height="39.50" fill="none" stroke="#000" stroke-width="1.6"/>
<text x="360.5" y="469.3" font-size="13.5" text-anchor="start" font-weight="normal" >7%</text>
<path d="M460.4 507.2h1.0M460.0 501.0h1.0M462.8 482.3h1.0M465.8 510.9h1.0M460.0 495.6h1.0M461.9 504.6h1.0M459.0 479.9h1.0M463.1 479.7h1.0M468.2 477.6h1.0M464.8 488.1h1.0M468.2 487.7h1.0M463.8 511.1h1.0M467.0 506.6h1.0M469.9 498.6h1.0M465.7 475.6h1.0M458.0 489.0h1.0M465.6 505.1h1.0M461.6 489.9h1.0M472.3 481.6h1.0M463.8 492.2h1.0M461.9 509.1h1.0M458.5 490.2h1.0M458.2 485.9h1.0M470.4 472.2h1.0M458.2 493.4h1.0M465.9 485.6h1.0M466.2 491.2h1.0M463.0 494.3h1.0M469.1 480.9h1.0M467.7 496.3h1.0M463.7 485.6h1.0M465.8 501.8h1.0M461.0 501.1h1.0M464.6 502.1h1.0M465.5 491.2h1.0M465.3 500.1h1.0M459.1 493.4h1.0M462.7 493.6h1.0M468.3 503.1h1.0M469.9 503.2h1.0M463.7 484.9h1.0M474.2 486.2h1.0M463.2 497.8h1.0M461.4 494.9h1.0M465.3 487.7h1.0M460.6 493.6h1.0M466.1 482.9h1.0M465.0 494.4h1.0M461.2 497.7h1.0M459.4 502.9h1.0M461.8 504.1h1.0M464.9 493.9h1.0M459.5 501.3h1.0M466.1 495.4h1.0M464.6 500.5h1.0M466.2 497.5h1.0M467.8 491.7h1.0M470.6 477.3h1.0M458.3 499.4h1.0M464.4 477.4h1.0M460.0 485.7h1.0M469.3 500.2h1.0M458.3 479.1h1.0M465.0 480.3h1.0M462.2 487.2h1.0M464.7 499.4h1.0M461.9 487.8h1.0M465.5 510.5h1.0M466.1 489.5h1.0M468.0 491.9h1.0M459.3 500.2h1.0M470.7 481.5h1.0M467.4 480.4h1.0M464.2 492.1h1.0M463.2 492.1h1.0M467.1 488.0h1.0M463.7 490.1h1.0M465.5 486.5h1.0M467.5 496.5h1.0M462.3 479.8h1.0M463.5 504.0h1.0M466.9 493.4h1.0M472.1 509.7h1.0M466.5 508.0h1.0M463.6 489.4h1.0M465.4 473.4h1.0M464.6 488.0h1.0M469.6 499.2h1.0M470.4 488.5h1.0M470.1 494.8h1.0M466.5 497.5h1.0M459.8 502.9h1.0M462.8 500.0h1.0M464.3 482.9h1.0M463.4 496.3h1.0M463.4 511.2h1.0M469.1 494.3h1.0M463.2 508.5h1.0M464.7 505.6h1.0M459.4 472.2h1.0M467.4 502.9h1.0M463.9 491.5h1.0M466.3 498.8h1.0M464.2 493.4h1.0M465.4 504.6h1.0M465.9 490.0h1.0M468.6 500.9h1.0M462.5 492.3h1.0M460.4 494.5h1.0M461.8 506.3h1.0M469.4 489.4h1.0M461.2 506.9h1.0M459.4 489.5h1.0M463.1 495.8h1.0M464.7 483.5h1.0M467.8 497.2h1.0M465.8 509.9h1.0M471.6 495.9h1.0M463.0 490.3h1.0M464.1 481.8h1.0M461.9 487.8h1.0M466.5 501.1h1.0M462.2 481.8h1.0M464.4 474.6h1.0M463.6 495.3h1.0M466.0 488.6h1.0M466.1 501.2h1.0M463.2 482.1h1.0M462.6 496.3h1.0M465.6 475.3h1.0M458.9 476.1h1.0M471.3 497.7h1.0M465.2 480.6h1.0M456.5 514.7h1.0M470.6 497.3h1.0M464.3 495.9h1.0M467.9 472.1h1.0M465.6 479.6h1.0M463.0 490.9h1.0M462.9 485.3h1.0M465.2 488.9h1.0M465.5 501.1h1.0M461.3 491.1h1.0M461.3 501.8h1.0M467.3 504.0h1.0M468.5 494.4h1.0M460.8 485.1h1.0M469.1 494.5h1.0M467.5 487.0h1.0M463.7 513.5h1.0M468.2 476.4h1.0M461.9 494.6h1.0M468.5 503.4h1.0M467.7 506.1h1.0M467.1 502.2h1.0M461.2 480.3h1.0M462.6 506.6h1.0M469.6 481.7h1.0M463.5 494.0h1.0M466.7 496.7h1.0M470.1 495.9h1.0M463.7 490.5h1.0M468.6 490.5h1.0M466.5 488.8h1.0M460.1 470.5h1.0M463.4 484.7h1.0M467.6 489.2h1.0M461.0 500.9h1.0M462.9 515.2h1.0M462.8 493.9h1.0M461.6 509.3h1.0M465.6 490.7h1.0M464.2 471.1h1.0M469.3 493.2h1.0M468.9 484.3h1.0M470.0 486.2h1.0M464.6 514.5h1.0M462.6 493.4h1.0M463.9 494.3h1.0M465.1 491.5h1.0M466.2 488.5h1.0M469.5 500.4h1.0M460.2 487.5h1.0M463.3 503.2h1.0M457.2 504.9h1.0M457.1 486.5h1.0M461.3 489.5h1.0M467.5 502.9h1.0M464.1 491.0h1.0M460.8 505.5h1.0M458.6 486.1h1.0M467.1 512.5h1.0M463.3 497.8h1.0M462.2 495.4h1.0M456.5 500.0h1.0M462.5 497.7h1.0M464.0 482.9h1.0M458.7 482.7h1.0M464.3 500.8h1.0M468.7 503.4h1.0M472.3 503.7h1.0M471.3 501.6h1.0M465.7 474.9h1.0M468.2 491.7h1.0M463.0 479.0h1.0M469.3 493.1h1.0M462.9 484.8h1.0M464.2 497.8h1.0M466.8 494.3h1.0M465.3 493.8h1.0M462.9 505.3h1.0M464.0 487.0h1.0M471.0 483.2h1.0M462.8 494.4h1.0M463.8 492.2h1.0M468.1 503.8h1.0M459.5 513.0h1.0M460.1 482.2h1.0M467.1 482.5h1.0M460.0 501.9h1.0M466.4 497.2h1.0M469.8 504.1h1.0M462.8 488.2h1.0M466.1 488.7h1.0M465.5 502.4h1.0M465.5 478.2h1.0M470.7 492.5h1.0M465.8 475.8h1.0M464.4 479.6h1.0M470.5 488.1h1.0M459.3 491.8h1.0M461.0 493.8h1.0M461.0 475.0h1.0M463.8 490.0h1.0M461.5 500.3h1.0M467.7 492.1h1.0M464.2 497.0h1.0M468.0 495.0h1.0M460.3 499.9h1.0M473.5 499.9h1.0M465.7 487.2h1.0M458.7 498.5h1.0M466.7 497.9h1.0M465.1 506.7h1.0M464.1 473.3h1.0M464.0 495.0h1.0M467.4 499.1h1.0M467.1 498.0h1.0M465.6 480.8h1.0M463.3 503.8h1.0M463.9 488.5h1.0M467.7 472.4h1.0M462.4 495.1h1.0M461.5 474.9h1.0M471.5 490.5h1.0M464.7 499.6h1.0M471.7 485.7h1.0M463.9 489.6h1.0M468.1 503.0h1.0M470.5 488.5h1.0M459.9 486.4h1.0M457.3 496.8h1.0M456.7 497.6h1.0M460.5 497.6h1.0M470.1 491.9h1.0M464.0 493.5h1.0M462.1 496.8h1.0M463.5 494.8h1.0M461.4 498.7h1.0M465.7 484.0h1.0M464.2 478.4h1.0M459.1 481.4h1.0M466.0 488.9h1.0M464.3 496.0h1.0M463.4 491.2h1.0M462.3 516.0h1.0M461.4 499.5h1.0M463.5 512.2h1.0M460.1 492.1h1.0M465.9 488.0h1.0M472.5 495.8h1.0M466.0 475.4h1.0M466.0 480.4h1.0M466.6 497.0h1.0M464.0 487.2h1.0M461.4 486.4h1.0M470.3 484.6h1.0M463.3 497.4h1.0M459.3 488.7h1.0M468.8 495.7h1.0M466.6 500.7h1.0M467.3 499.1h1.0M469.8 480.9h1.0M468.0 508.4h1.0M464.0 490.2h1.0M460.6 499.8h1.0M465.4 498.9h1.0M464.2 493.5h1.0M462.2 504.4h1.0M463.9 506.2h1.0M467.8 485.3h1.0M460.2 504.0h1.0M465.9 489.3h1.0M468.4 471.8h1.0M466.6 489.4h1.0M467.2 487.0h1.0M462.7 500.3h1.0M465.9 477.9h1.0M466.4 500.5h1.0M458.2 483.0h1.0M460.1 482.7h1.0M461.8 513.1h1.0M460.6 483.1h1.0M463.5 507.0h1.0M462.9 503.1h1.0M468.3 488.7h1.0M465.9 503.5h1.0M465.3 510.1h1.0M465.9 509.8h1.0M460.7 495.6h1.0M462.3 488.8h1.0M463.6 498.5h1.0M459.0 475.0h1.0M467.3 496.3h1.0M468.0 501.9h1.0M465.6 487.6h1.0M466.3 483.2h1.0M459.5 489.6h1.0M472.9 482.9h1.0M469.5 491.2h1.0M470.9 487.8h1.0M460.0 486.2h1.0M463.7 499.0h1.0M461.7 495.2h1.0M473.3 493.3h1.0M461.6 492.9h1.0M463.2 495.9h1.0M461.4 489.9h1.0M467.2 493.1h1.0M457.1 505.1h1.0M465.8 513.3h1.0M461.2 496.8h1.0M461.0 501.3h1.0M462.3 506.6h1.0M464.8 470.1h1.0M460.1 500.1h1.0M467.2 503.7h1.0M466.3 488.2h1.0M464.9 493.6h1.0M464.5 503.7h1.0M460.9 489.8h1.0M469.4 491.6h1.0M466.5 487.4h1.0M464.6 506.7h1.0M470.5 493.5h1.0M462.0 508.8h1.0M457.2 491.1h1.0M468.4 491.6h1.0M464.2 492.5h1.0M460.8 488.7h1.0M465.6 475.2h1.0M467.9 494.2h1.0M458.1 477.3h1.0M461.7 510.3h1.0M466.2 481.3h1.0M462.5 475.7h1.0M460.8 474.8h1.0M471.2 500.4h1.0M469.3 497.8h1.0M461.6 503.4h1.0M466.2 485.4h1.0M458.1 492.6h1.0M459.8 489.9h1.0M456.7 473.6h1.0M468.0 498.7h1.0M464.9 490.2h1.0M465.1 482.8h1.0M467.3 509.7h1.0M462.1 476.6h1.0M464.4 474.7h1.0M471.9 491.9h1.0M466.0 494.9h1.0M462.5 485.0h1.0M460.3 514.0h1.0M464.7 504.4h1.0M470.1 489.8h1.0M462.4 488.7h1.0M465.8 482.4h1.0M468.0 490.3h1.0M461.5 500.4h1.0M469.8 483.4h1.0M463.7 491.1h1.0M466.4 501.3h1.0M463.9 483.0h1.0M462.1 502.2h1.0M471.4 494.9h1.0M468.8 485.1h1.0M459.6 483.1h1.0M475.7 506.2h1.0M460.6 484.6h1.0M463.0 479.1h1.0M466.6 481.2h1.0M463.5 499.1h1.0M463.4 503.4h1.0M462.4 505.4h1.0M461.8 486.6h1.0M458.8 496.4h1.0M467.0 493.0h1.0M469.9 499.7h1.0M465.7 475.2h1.0M463.7 496.7h1.0M459.8 508.5h1.0M465.6 508.9h1.0M459.6 512.1h1.0M469.6 494.3h1.0M463.1 510.2h1.0M460.6 490.5h1.0M468.7 492.0h1.0M461.3 480.5h1.0M462.5 506.4h1.0M474.9 482.3h1.0M459.7 499.5h1.0M463.7 488.3h1.0M463.8 507.2h1.0M467.3 484.7h1.0M466.3 479.7h1.0M468.7 470.9h1.0M462.7 502.6h1.0M471.0 498.4h1.0M456.8 490.7h1.0M468.0 499.7h1.0M465.9 486.7h1.0M457.0 487.7h1.0M465.0 485.6h1.0M461.1 497.0h1.0M463.1 494.8h1.0M468.5 485.1h1.0M468.2 480.6h1.0M467.8 497.2h1.0M466.3 500.7h1.0M465.2 474.1h1.0M470.9 495.2h1.0M465.2 493.4h1.0M465.9 490.4h1.0M459.2 480.1h1.0M471.2 499.5h1.0M460.3 510.2h1.0M465.5 480.8h1.0M461.4 485.7h1.0M468.8 501.0h1.0M463.4 490.2h1.0M461.7 494.0h1.0M460.4 502.4h1.0M464.0 503.1h1.0M470.4 496.1h1.0M460.8 495.5h1.0M461.0 504.5h1.0M463.1 490.9h1.0M462.4 506.9h1.0M466.4 492.2h1.0M467.8 489.9h1.0M461.2 492.3h1.0M463.5 504.6h1.0M461.7 481.2h1.0M469.6 502.5h1.0M463.0 494.2h1.0M458.2 510.9h1.0M463.9 498.4h1.0M466.9 495.5h1.0M465.4 491.0h1.0M464.1 490.3h1.0M474.0 493.6h1.0M465.0 470.4h1.0M464.3 499.0h1.0M467.1 476.0h1.0M464.2 510.1h1.0M463.7 490.7h1.0M466.7 491.9h1.0M462.4 485.8h1.0M457.8 494.8h1.0M466.6 499.4h1.0M461.5 497.4h1.0M460.4 475.1h1.0M466.9 479.0h1.0M459.0 489.3h1.0M463.1 509.7h1.0M468.4 515.6h1.0M465.1 475.0h1.0M459.5 495.8h1.0M459.1 497.6h1.0M468.5 499.3h1.0M457.9 505.0h1.0M471.1 504.1h1.0M473.6 484.1h1.0M463.9 502.2h1.0M468.3 509.2h1.0M463.8 485.3h1.0M463.6 485.0h1.0M464.8 489.2h1.0M467.4 485.2h1.0M468.0 484.4h1.0M469.2 506.2h1.0M464.3 490.5h1.0M465.8 497.8h1.0M460.5 500.6h1.0M457.3 480.1h1.0M459.8 495.0h1.0M468.6 486.5h1.0M463.2 496.5h1.0M465.8 499.3h1.0M459.5 496.3h1.0M468.2 501.1h1.0M470.1 477.0h1.0M469.1 477.1h1.0M460.1 495.1h1.0M473.5 506.0h1.0M463.9 493.9h1.0M468.7 479.4h1.0M463.1 486.4h1.0M469.1 499.0h1.0M465.7 506.3h1.0M463.5 482.9h1.0M468.0 472.8h1.0M465.5 492.7h1.0M458.2 495.0h1.0M461.1 507.9h1.0M467.4 502.8h1.0M468.3 492.9h1.0M468.7 499.6h1.0M466.6 504.7h1.0M472.1 474.5h1.0M462.7 476.9h1.0M459.6 500.5h1.0M460.7 490.6h1.0M462.3 503.6h1.0M470.7 494.2h1.0M461.8 486.7h1.0M463.7 475.1h1.0M459.8 495.0h1.0M465.4 494.8h1.0M465.8 484.9h1.0M464.0 481.9h1.0M465.4 471.0h1.0M466.5 495.5h1.0M462.9 494.6h1.0M468.4 493.6h1.0M471.9 506.1h1.0M464.9 490.8h1.0M460.0 481.2h1.0M465.3 494.3h1.0M465.9 511.2h1.0M466.1 497.3h1.0M463.6 481.0h1.0M462.7 491.9h1.0M467.2 500.5h1.0M460.6 491.8h1.0M467.4 477.4h1.0M463.6 477.1h1.0M461.9 505.6h1.0M460.6 502.9h1.0M463.9 475.5h1.0M465.3 495.5h1.0M463.5 506.2h1.0M463.3 501.0h1.0M464.5 487.2h1.0M466.0 504.6h1.0M470.0 506.0h1.0M458.0 478.4h1.0M463.5 506.0h1.0M457.3 494.5h1.0M460.0 501.6h1.0M468.5 490.0h1.0M469.7 501.1h1.0M463.9 508.8h1.0M472.7 492.1h1.0M465.5 496.7h1.0M467.7 488.6h1.0M463.7 506.0h1.0M464.1 507.5h1.0M465.6 511.8h1.0M470.2 480.5h1.0M467.2 490.4h1.0M462.3 502.6h1.0M468.6 498.8h1.0M468.8 510.9h1.0M465.9 499.9h1.0M466.4 509.6h1.0M461.3 492.4h1.0M460.0 487.0h1.0M465.9 489.3h1.0M461.7 490.6h1.0M468.9 515.8h1.0M465.1 485.2h1.0M465.3 486.4h1.0M465.9 500.7h1.0M472.0 485.0h1.0M464.1 484.1h1.0M468.7 482.8h1.0M469.5 512.9h1.0M458.1 505.1h1.0M473.3 494.4h1.0M464.4 515.3h1.0M463.8 492.2h1.0M461.1 500.4h1.0M469.7 484.7h1.0M467.8 498.8h1.0M470.6 492.2h1.0M461.7 495.8h1.0M466.4 490.3h1.0M461.0 500.3h1.0M458.6 480.6h1.0M464.2 478.4h1.0M466.5 475.6h1.0M463.9 497.9h1.0M469.8 484.1h1.0M465.7 506.4h1.0M461.5 497.4h1.0M468.9 505.4h1.0M464.4 497.2h1.0M461.9 499.3h1.0M466.3 487.6h1.0M473.8 500.4h1.0M461.5 493.7h1.0M466.5 481.9h1.0M461.2 501.5h1.0M464.4 492.6h1.0M468.6 490.4h1.0M458.9 481.1h1.0M464.0 491.2h1.0M463.2 483.7h1.0M457.9 490.6h1.0M466.2 496.3h1.0M460.2 486.6h1.0M467.3 492.2h1.0M464.2 493.4h1.0M463.8 485.9h1.0M468.8 497.0h1.0M465.9 490.4h1.0M457.4 488.2h1.0M466.0 490.4h1.0M464.9 510.6h1.0M466.7 504.2h1.0M463.4 489.6h1.0M459.3 509.5h1.0M468.9 492.5h1.0M466.4 496.0h1.0M469.8 498.9h1.0M464.2 481.7h1.0M463.7 506.4h1.0M461.9 490.6h1.0M467.0 510.9h1.0M462.7 502.2h1.0M463.1 474.1h1.0M463.0 481.5h1.0M459.3 515.0h1.0M458.8 489.8h1.0M469.2 493.2h1.0M456.8 493.3h1.0M464.4 507.9h1.0M461.4 476.3h1.0M463.0 480.9h1.0M465.3 500.3h1.0M464.3 492.6h1.0M459.8 477.9h1.0M465.7 508.6h1.0M464.3 496.0h1.0M461.3 472.3h1.0M469.7 472.2h1.0M466.5 502.4h1.0M469.6 492.5h1.0M468.1 490.3h1.0M467.4 507.7h1.0M464.4 473.9h1.0M469.9 486.2h1.0M462.4 504.0h1.0M467.9 498.6h1.0M462.3 501.0h1.0M465.1 489.1h1.0M461.5 498.3h1.0M461.6 507.5h1.0M457.6 482.0h1.0M465.2 474.3h1.0M471.7 477.6h1.0M462.1 488.5h1.0M465.2 508.4h1.0M462.9 487.4h1.0M469.5 492.9h1.0M467.5 493.6h1.0M462.5 486.2h1.0M460.7 484.3h1.0M465.2 492.5h1.0M467.6 494.2h1.0M466.1 483.4h1.0M458.2 504.2h1.0M471.4 489.8h1.0M467.9 483.3h1.0M461.0 497.3h1.0M467.8 499.4h1.0M468.8 494.0h1.0M463.9 494.0h1.0M461.1 489.0h1.0M458.1 480.1h1.0M467.5 487.0h1.0M467.5 492.3h1.0M464.2 499.5h1.0M469.0 489.6h1.0M465.4 515.0h1.0M466.8 487.0h1.0M461.3 487.9h1.0M469.0 470.3h1.0M466.9 488.3h1.0M467.0 495.1h1.0M458.4 487.6h1.0M456.8 491.4h1.0M461.5 503.1h1.0M457.4 496.1h1.0M460.7 487.5h1.0M457.9 513.3h1.0M463.6 493.9h1.0M473.4 473.9h1.0M464.1 482.7h1.0M463.4 488.4h1.0M466.5 501.2h1.0M464.8 506.0h1.0M463.2 478.8h1.0M457.9 502.3h1.0M463.1 498.3h1.0M467.3 483.0h1.0M469.5 501.1h1.0M470.9 500.8h1.0M460.1 499.4h1.0M465.0 477.2h1.0M467.9 490.2h1.0M466.1 511.1h1.0M469.6 488.4h1.0M467.3 504.4h1.0M465.1 505.0h1.0M466.7 488.1h1.0M469.9 490.4h1.0M462.7 488.8h1.0M457.6 504.7h1.0M459.8 472.9h1.0M463.4 501.2h1.0M465.8 497.2h1.0M463.4 482.5h1.0M465.6 501.6h1.0M464.3 503.7h1.0M465.1 479.0h1.0M462.4 492.0h1.0M461.3 490.5h1.0" stroke="#000" stroke-width="1.0" stroke-opacity="1" fill="none"/>
<path d="M469.9 464.1h1.0M470.3 467.1h1.0M463.9 464.5h1.0M469.8 460.1h1.0M463.3 472.6h1.0M469.4 468.6h1.0M463.9 462.7h1.0M467.6 466.9h1.0M469.6 456.3h1.0M469.6 457.0h1.0M462.1 460.6h1.0M463.8 471.4h1.0M463.2 465.1h1.0M471.4 451.9h1.0M469.3 477.3h1.0M470.0 458.8h1.0M465.7 465.1h1.0M463.2 456.7h1.0M470.7 457.9h1.0M470.3 456.4h1.0M462.8 447.9h1.0M463.4 461.3h1.0M469.5 453.8h1.0M466.0 472.0h1.0M469.3 474.4h1.0M465.5 453.3h1.0M466.1 467.7h1.0M461.8 461.8h1.0M463.3 458.5h1.0M465.2 459.5h1.0M466.2 460.3h1.0M461.0 459.1h1.0M458.2 475.9h1.0M471.6 463.2h1.0M466.9 468.8h1.0M467.3 457.7h1.0M462.4 469.7h1.0M464.9 467.0h1.0M464.4 470.2h1.0M465.4 465.7h1.0M468.4 449.8h1.0M469.7 473.4h1.0M464.1 452.5h1.0M467.6 457.8h1.0M462.0 475.0h1.0M465.6 456.4h1.0M460.8 466.7h1.0M467.4 466.8h1.0M461.4 459.2h1.0M465.9 461.2h1.0M466.3 461.6h1.0M465.8 465.3h1.0M468.6 473.1h1.0M465.8 449.6h1.0M471.8 453.3h1.0M467.0 472.5h1.0M468.6 473.3h1.0M468.2 452.4h1.0M469.0 461.7h1.0M470.4 459.0h1.0M469.5 454.9h1.0M464.9 463.3h1.0M470.7 458.3h1.0M467.4 471.9h1.0M458.7 475.0h1.0M465.7 465.5h1.0M473.9 463.6h1.0M469.0 472.9h1.0M472.0 472.7h1.0M463.6 466.7h1.0M460.2 455.3h1.0M464.8 461.8h1.0M463.7 458.6h1.0M472.9 454.7h1.0M468.2 455.1h1.0M467.3 458.0h1.0M459.1 449.7h1.0M470.8 472.8h1.0M464.9 462.8h1.0M467.4 453.0h1.0M464.2 452.3h1.0M463.7 464.0h1.0M464.7 476.3h1.0M468.6 459.9h1.0M467.0 460.8h1.0M462.8 474.8h1.0M465.3 459.9h1.0M471.8 462.0h1.0M468.8 456.0h1.0M464.4 470.4h1.0M473.1 447.7h1.0M471.4 461.8h1.0M464.1 471.4h1.0M465.5 459.9h1.0M465.1 462.4h1.0M463.9 471.7h1.0M472.7 457.5h1.0M463.3 463.0h1.0M462.9 464.7h1.0M466.6 463.9h1.0M463.0 466.1h1.0M460.9 461.2h1.0M465.4 464.3h1.0M469.4 462.6h1.0M461.9 466.9h1.0M465.4 469.5h1.0M472.7 474.8h1.0M465.9 457.0h1.0M466.9 462.6h1.0M463.0 453.1h1.0" stroke="#000" stroke-width="1.0" stroke-opacity="1" fill="none"/>
<rect x="407.50" y="412.00" width="105.00" height="105.20" fill="none" stroke="#000" stroke-width="1.3"/>
<line x1="404.3" y1="517.2" x2="407.5" y2="517.2" stroke="#000" stroke-width="0.8" />
<line x1="407.5" y1="517.2" x2="407.5" y2="520.4000000000001" stroke="#000" stroke-width="0.8" />
<line x1="405.7" y1="509.28291111403735" x2="407.5" y2="509.28291111403735" stroke="#000" stroke-width="0.8" />
<line x1="415.40203738617953" y1="517.2" x2="415.40203738617953" y2="519.0" stroke="#000" stroke-width="0.8" />
<line x1="405.7" y1="504.6517110008729" x2="407.5" y2="504.6517110008729" stroke="#000" stroke-width="0.8" />
<line x1="420.0244329363911" y1="517.2" x2="420.0244329363911" y2="519.0" stroke="#000" stroke-width="0.8" />
<line x1="405.7" y1="501.36582222807465" x2="407.5" y2="501.36582222807465" stroke="#000" stroke-width="0.8" />
<line x1="423.304074772359" y1="517.2" x2="423.304074772359" y2="519.0" stroke="#000" stroke-width="0.8" />
<line x1="405.7" y1="498.81708888596273" x2="407.5" y2="498.81708888596273" stroke="#000" stroke-width="0.8" />
<line x1="425.84796261382047" y1="517.2" x2="425.84796261382047" y2="519.0" stroke="#000" stroke-width="0.8" />
<line x1="405.7" y1="496.7346221149102" x2="407.5" y2="496.7346221149102" stroke="#000" stroke-width="0.8" />
<line x1="427.92647032257065" y1="517.2" x2="427.92647032257065" y2="519.0" stroke="#000" stroke-width="0.8" />
<line x1="405.7" y1="494.9739215476251" x2="407.5" y2="494.9739215476251" stroke="#000" stroke-width="0.8" />
<line x1="429.68382355037426" y1="517.2" x2="429.68382355037426" y2="519.0" stroke="#000" stroke-width="0.8" />
<line x1="405.7" y1="493.44873334211195" x2="407.5" y2="493.44873334211195" stroke="#000" stroke-width="0.8" />
<line x1="431.20611215853853" y1="517.2" x2="431.20611215853853" y2="519.0" stroke="#000" stroke-width="0.8" />
<line x1="405.7" y1="492.1034220017458" x2="407.5" y2="492.1034220017458" stroke="#000" stroke-width="0.8" />
<line x1="432.5488658727823" y1="517.2" x2="432.5488658727823" y2="519.0" stroke="#000" stroke-width="0.8" />
<line x1="404.3" y1="490.90000000000003" x2="407.5" y2="490.90000000000003" stroke="#000" stroke-width="0.8" />
<line x1="433.75" y1="517.2" x2="433.75" y2="520.4000000000001" stroke="#000" stroke-width="0.8" />
<line x1="405.7" y1="482.98291111403734" x2="407.5" y2="482.98291111403734" stroke="#000" stroke-width="0.8" />
<line x1="441.65203738617953" y1="517.2" x2="441.65203738617953" y2="519.0" stroke="#000" stroke-width="0.8" />
<line x1="405.7" y1="478.3517110008729" x2="407.5" y2="478.3517110008729" stroke="#000" stroke-width="0.8" />
<line x1="446.2744329363911" y1="517.2" x2="446.2744329363911" y2="519.0" stroke="#000" stroke-width="0.8" />
<line x1="405.7" y1="475.06582222807464" x2="407.5" y2="475.06582222807464" stroke="#000" stroke-width="0.8" />
<line x1="449.554074772359" y1="517.2" x2="449.554074772359" y2="519.0" stroke="#000" stroke-width="0.8" />
<line x1="405.7" y1="472.5170888859627" x2="407.5" y2="472.5170888859627" stroke="#000" stroke-width="0.8" />
<line x1="452.09796261382047" y1="517.2" x2="452.09796261382047" y2="519.0" stroke="#000" stroke-width="0.8" />
<line x1="405.7" y1="470.4346221149102" x2="407.5" y2="470.4346221149102" stroke="#000" stroke-width="0.8" />
<line x1="454.17647032257065" y1="517.2" x2="454.17647032257065" y2="519.0" stroke="#000" stroke-width="0.8" />
<line x1="405.7" y1="468.67392154762507" x2="407.5" y2="468.67392154762507" stroke="#000" stroke-width="0.8" />
<line x1="455.93382355037426" y1="517.2" x2="455.93382355037426" y2="519.0" stroke="#000" stroke-width="0.8" />
<line x1="405.7" y1="467.1487333421119" x2="407.5" y2="467.1487333421119" stroke="#000" stroke-width="0.8" />
<line x1="457.45611215853853" y1="517.2" x2="457.45611215853853" y2="519.0" stroke="#000" stroke-width="0.8" />
<line x1="405.7" y1="465.8034220017458" x2="407.5" y2="465.8034220017458" stroke="#000" stroke-width="0.8" />
<line x1="458.79886587278224" y1="517.2" x2="458.79886587278224" y2="519.0" stroke="#000" stroke-width="0.8" />
<line x1="404.3" y1="464.6" x2="407.5" y2="464.6" stroke="#000" stroke-width="0.8" />
<line x1="460.0" y1="517.2" x2="460.0" y2="520.4000000000001" stroke="#000" stroke-width="0.8" />
<line x1="405.7" y1="456.6829111140373" x2="407.5" y2="456.6829111140373" stroke="#000" stroke-width="0.8" />
<line x1="467.90203738617953" y1="517.2" x2="467.90203738617953" y2="519.0" stroke="#000" stroke-width="0.8" />
<line x1="405.7" y1="452.0517110008729" x2="407.5" y2="452.0517110008729" stroke="#000" stroke-width="0.8" />
<line x1="472.5244329363911" y1="517.2" x2="472.5244329363911" y2="519.0" stroke="#000" stroke-width="0.8" />
<line x1="405.7" y1="448.7658222280746" x2="407.5" y2="448.7658222280746" stroke="#000" stroke-width="0.8" />
<line x1="475.804074772359" y1="517.2" x2="475.804074772359" y2="519.0" stroke="#000" stroke-width="0.8" />
<line x1="405.7" y1="446.2170888859627" x2="407.5" y2="446.2170888859627" stroke="#000" stroke-width="0.8" />
<line x1="478.3479626138205" y1="517.2" x2="478.3479626138205" y2="519.0" stroke="#000" stroke-width="0.8" />
<line x1="405.7" y1="444.1346221149102" x2="407.5" y2="444.1346221149102" stroke="#000" stroke-width="0.8" />
<line x1="480.42647032257065" y1="517.2" x2="480.42647032257065" y2="519.0" stroke="#000" stroke-width="0.8" />
<line x1="405.7" y1="442.37392154762506" x2="407.5" y2="442.37392154762506" stroke="#000" stroke-width="0.8" />
<line x1="482.18382355037426" y1="517.2" x2="482.18382355037426" y2="519.0" stroke="#000" stroke-width="0.8" />
<line x1="405.7" y1="440.84873334211187" x2="407.5" y2="440.84873334211187" stroke="#000" stroke-width="0.8" />
<line x1="483.70611215853853" y1="517.2" x2="483.70611215853853" y2="519.0" stroke="#000" stroke-width="0.8" />
<line x1="405.7" y1="439.5034220017458" x2="407.5" y2="439.5034220017458" stroke="#000" stroke-width="0.8" />
<line x1="485.04886587278224" y1="517.2" x2="485.04886587278224" y2="519.0" stroke="#000" stroke-width="0.8" />
<line x1="404.3" y1="438.3" x2="407.5" y2="438.3" stroke="#000" stroke-width="0.8" />
<line x1="486.25" y1="517.2" x2="486.25" y2="520.4000000000001" stroke="#000" stroke-width="0.8" />
<line x1="405.7" y1="430.3829111140373" x2="407.5" y2="430.3829111140373" stroke="#000" stroke-width="0.8" />
<line x1="494.1520373861795" y1="517.2" x2="494.1520373861795" y2="519.0" stroke="#000" stroke-width="0.8" />
<line x1="405.7" y1="425.7517110008729" x2="407.5" y2="425.7517110008729" stroke="#000" stroke-width="0.8" />
<line x1="498.7744329363911" y1="517.2" x2="498.7744329363911" y2="519.0" stroke="#000" stroke-width="0.8" />
<line x1="405.7" y1="422.46582222807456" x2="407.5" y2="422.46582222807456" stroke="#000" stroke-width="0.8" />
<line x1="502.054074772359" y1="517.2" x2="502.054074772359" y2="519.0" stroke="#000" stroke-width="0.8" />
<line x1="405.7" y1="419.9170888859627" x2="407.5" y2="419.9170888859627" stroke="#000" stroke-width="0.8" />
<line x1="504.5979626138205" y1="517.2" x2="504.5979626138205" y2="519.0" stroke="#000" stroke-width="0.8" />
<line x1="405.7" y1="417.8346221149102" x2="407.5" y2="417.8346221149102" stroke="#000" stroke-width="0.8" />
<line x1="506.67647032257065" y1="517.2" x2="506.67647032257065" y2="519.0" stroke="#000" stroke-width="0.8" />
<line x1="405.7" y1="416.07392154762505" x2="407.5" y2="416.07392154762505" stroke="#000" stroke-width="0.8" />
<line x1="508.43382355037426" y1="517.2" x2="508.43382355037426" y2="519.0" stroke="#000" stroke-width="0.8" />
<line x1="405.7" y1="414.54873334211186" x2="407.5" y2="414.54873334211186" stroke="#000" stroke-width="0.8" />
<line x1="509.95611215853853" y1="517.2" x2="509.95611215853853" y2="519.0" stroke="#000" stroke-width="0.8" />
<line x1="405.7" y1="413.20342200174576" x2="407.5" y2="413.20342200174576" stroke="#000" stroke-width="0.8" />
<line x1="511.29886587278224" y1="517.2" x2="511.29886587278224" y2="519.0" stroke="#000" stroke-width="0.8" />
<text class="s" x="402.9" y="519.9" font-size="7.6" text-anchor="end">10<tspan font-size="4.6" dy="-2.9">0</tspan></text>
<text class="s" x="401.5" y="529.2" font-size="8">10<tspan font-size="4.8" dy="-3">0</tspan></text>
<text class="s" x="402.9" y="493.6" font-size="7.6" text-anchor="end">10<tspan font-size="4.6" dy="-2.9">1</tspan></text>
<text class="s" x="427.8" y="529.2" font-size="8">10<tspan font-size="4.8" dy="-3">1</tspan></text>
<text class="s" x="402.9" y="467.3" font-size="7.6" text-anchor="end">10<tspan font-size="4.6" dy="-2.9">2</tspan></text>
<text class="s" x="454.0" y="529.2" font-size="8">10<tspan font-size="4.8" dy="-3">2</tspan></text>
<text class="s" x="402.9" y="441.0" font-size="7.6" text-anchor="end">10<tspan font-size="4.6" dy="-2.9">3</tspan></text>
<text class="s" x="480.2" y="529.2" font-size="8">10<tspan font-size="4.8" dy="-3">3</tspan></text>
<rect x="452.50" y="437.50" width="26.50" height="39.00" fill="none" stroke="#000" stroke-width="1.6"/>
<text x="483" y="461.8" font-size="13.5" text-anchor="start" font-weight="normal" >20%</text>
<line x1="10.2" y1="284" x2="10.2" y2="319" stroke="#000" stroke-width="1.1" />
<line x1="10.2" y1="355" x2="10.2" y2="391.5" stroke="#000" stroke-width="1.1" />
<text transform="translate(15.4,336.6) rotate(-90)" font-size="12.8" text-anchor="middle" textLength="32" lengthAdjust="spacing">IFN-γ</text>
<line x1="10.2" y1="412" x2="10.2" y2="449.5" stroke="#000" stroke-width="1.1" />
<line x1="10.2" y1="481" x2="10.2" y2="517.5" stroke="#000" stroke-width="1.1" />
<text transform="translate(15.3,465) rotate(-90)" font-size="12.8" text-anchor="middle" textLength="28.6" lengthAdjust="spacing">IL-17</text>
<line x1="52.5" y1="599.0" x2="52.5" y2="769.3000000000001" stroke="#000" stroke-width="1.5" />
<line x1="51.8" y1="768.6" x2="257.7" y2="768.6" stroke="#000" stroke-width="1.5" />
<line x1="45.5" y1="768.6" x2="52.5" y2="768.6" stroke="#000" stroke-width="1.3" />
<text x="43.7" y="774.7" font-size="15.2" text-anchor="end" font-weight="normal" >0</text>
<line x1="45.5" y1="712.3000000000001" x2="52.5" y2="712.3000000000001" stroke="#000" stroke-width="1.3" />
<text x="43.7" y="718.4000000000001" font-size="15.2" text-anchor="end" font-weight="normal" >2</text>
<line x1="45.5" y1="656.0" x2="52.5" y2="656.0" stroke="#000" stroke-width="1.3" />
<text x="43.7" y="662.1" font-size="15.2" text-anchor="end" font-weight="normal" >4</text>
<line x1="45.5" y1="599.7" x2="52.5" y2="599.7" stroke="#000" stroke-width="1.3" />
<text x="43.7" y="605.8000000000001" font-size="15.2" text-anchor="end" font-weight="normal" >6</text>
<line x1="79.5" y1="768.6" x2="79.5" y2="761.6" stroke="#000" stroke-width="1.2" />
<line x1="134.5" y1="768.6" x2="134.5" y2="761.6" stroke="#000" stroke-width="1.2" />
<line x1="187.3" y1="768.6" x2="187.3" y2="761.6" stroke="#000" stroke-width="1.2" />
<line x1="241.8" y1="768.6" x2="241.8" y2="761.6" stroke="#000" stroke-width="1.2" />
<text x="79.5" y="785.6" font-size="13.8" text-anchor="middle" font-weight="normal" >D7</text>
<text x="134.5" y="785.6" font-size="13.8" text-anchor="middle" font-weight="normal" >D10</text>
<text x="187.3" y="785.6" font-size="13.8" text-anchor="middle" font-weight="normal" >D15</text>
<text x="241.8" y="785.6" font-size="13.8" text-anchor="middle" font-weight="normal" >D19</text>
<line x1="134.5" y1="665.8525000000001" x2="134.5" y2="705.2625" stroke="#000" stroke-width="1.2" />
<line x1="130.9" y1="665.8525000000001" x2="138.1" y2="665.8525000000001" stroke="#000" stroke-width="1.2" />
<line x1="130.9" y1="705.2625" x2="138.1" y2="705.2625" stroke="#000" stroke-width="1.2" />
<line x1="187.3" y1="612.6490000000001" x2="187.3" y2="727.2195" stroke="#000" stroke-width="1.2" />
<line x1="183.70000000000002" y1="612.6490000000001" x2="190.9" y2="612.6490000000001" stroke="#000" stroke-width="1.2" />
<line x1="183.70000000000002" y1="727.2195" x2="190.9" y2="727.2195" stroke="#000" stroke-width="1.2" />
<line x1="134.5" y1="724.4045" x2="134.5" y2="753.1175000000001" stroke="#000" stroke-width="1.2" />
<line x1="130.9" y1="724.4045" x2="138.1" y2="724.4045" stroke="#000" stroke-width="1.2" />
<line x1="130.9" y1="753.1175000000001" x2="138.1" y2="753.1175000000001" stroke="#000" stroke-width="1.2" />
<line x1="187.3" y1="686.6835000000001" x2="187.3" y2="718.493" stroke="#000" stroke-width="1.2" />
<line x1="183.70000000000002" y1="686.6835000000001" x2="190.9" y2="686.6835000000001" stroke="#000" stroke-width="1.2" />
<line x1="183.70000000000002" y1="718.493" x2="190.9" y2="718.493" stroke="#000" stroke-width="1.2" />
<polyline points="79.5,755.9 134.5,685.0 187.3,669.5 241.8,762.4" fill="none" stroke="#000" stroke-width="2.2" stroke-linejoin="miter"/>
<polyline points="79.5,768.0 134.5,739.0 187.3,703.0 241.8,766.9" fill="none" stroke="#000" stroke-width="2.2" stroke-dasharray="2.8 1.6"/>
<circle cx="79.5" cy="755.9" r="5.1" fill="#000"/>
<circle cx="134.5" cy="685.0" r="5.1" fill="#000"/>
<circle cx="187.3" cy="669.5" r="5.1" fill="#000"/>
<circle cx="241.8" cy="762.4" r="5.1" fill="#000"/>
<circle cx="79.5" cy="768.0" r="4.6" fill="#dfdfdf" stroke="#000" stroke-width="1"/>
<circle cx="134.5" cy="739.0" r="4.6" fill="#dfdfdf" stroke="#000" stroke-width="1"/>
<circle cx="187.3" cy="703.0" r="4.6" fill="#dfdfdf" stroke="#000" stroke-width="1"/>
<circle cx="241.8" cy="766.9" r="4.6" fill="#dfdfdf" stroke="#000" stroke-width="1"/>
<text transform="translate(16.5,682.4) rotate(-90)" font-size="13.8" text-anchor="middle">CD4<tspan font-size="7" dy="-3.2">+</tspan><tspan dy="3.2" font-size="14"> </tspan>cells (millions)</text>
<line x1="308.6" y1="598.8" x2="308.6" y2="769.2" stroke="#000" stroke-width="1.5" />
<line x1="307.90000000000003" y1="768.5" x2="513.4" y2="768.5" stroke="#000" stroke-width="1.5" />
<line x1="301.6" y1="768.5" x2="308.6" y2="768.5" stroke="#000" stroke-width="1.3" />
<text x="299.8" y="774.6" font-size="15.2" text-anchor="end" font-weight="normal" >0</text>
<line x1="301.6" y1="726.25" x2="308.6" y2="726.25" stroke="#000" stroke-width="1.3" />
<text x="299.8" y="732.35" font-size="15.2" text-anchor="end" font-weight="normal" >4</text>
<line x1="301.6" y1="684.0" x2="308.6" y2="684.0" stroke="#000" stroke-width="1.3" />
<text x="299.8" y="690.1" font-size="15.2" text-anchor="end" font-weight="normal" >8</text>
<line x1="301.6" y1="641.75" x2="308.6" y2="641.75" stroke="#000" stroke-width="1.3" />
<text x="299.8" y="647.85" font-size="15.2" text-anchor="end" font-weight="normal" >12</text>
<line x1="301.6" y1="599.5" x2="308.6" y2="599.5" stroke="#000" stroke-width="1.3" />
<text x="299.8" y="605.6" font-size="15.2" text-anchor="end" font-weight="normal" >16</text>
<line x1="336.8" y1="768.5" x2="336.8" y2="761.5" stroke="#000" stroke-width="1.2" />
<line x1="391" y1="768.5" x2="391" y2="761.5" stroke="#000" stroke-width="1.2" />
<line x1="444.4" y1="768.5" x2="444.4" y2="761.5" stroke="#000" stroke-width="1.2" />
<line x1="498.6" y1="768.5" x2="498.6" y2="761.5" stroke="#000" stroke-width="1.2" />
<text x="336.8" y="785.6" font-size="13.8" text-anchor="middle" font-weight="normal" >D7</text>
<text x="391" y="785.6" font-size="13.8" text-anchor="middle" font-weight="normal" >D10</text>
<text x="444.4" y="785.6" font-size="13.8" text-anchor="middle" font-weight="normal" >D15</text>
<text x="498.6" y="785.6" font-size="13.8" text-anchor="middle" font-weight="normal" >D19</text>
<line x1="391" y1="724.876875" x2="391" y2="752.339375" stroke="#000" stroke-width="1.2" />
<line x1="387.4" y1="724.876875" x2="394.6" y2="724.876875" stroke="#000" stroke-width="1.2" />
<line x1="387.4" y1="752.339375" x2="394.6" y2="752.339375" stroke="#000" stroke-width="1.2" />
<line x1="444.4" y1="601.6125" x2="444.4" y2="690.3375" stroke="#000" stroke-width="1.2" />
<line x1="440.79999999999995" y1="601.6125" x2="448.0" y2="601.6125" stroke="#000" stroke-width="1.2" />
<line x1="440.79999999999995" y1="690.3375" x2="448.0" y2="690.3375" stroke="#000" stroke-width="1.2" />
<line x1="391" y1="754.240625" x2="391" y2="766.3875" stroke="#000" stroke-width="1.2" />
<line x1="387.4" y1="754.240625" x2="394.6" y2="754.240625" stroke="#000" stroke-width="1.2" />
<line x1="387.4" y1="766.3875" x2="394.6" y2="766.3875" stroke="#000" stroke-width="1.2" />
<polyline points="336.8,745.1 391,738.6 444.4,646.0 498.6,763.2" fill="none" stroke="#000" stroke-width="2.2" stroke-linejoin="miter"/>
<polyline points="336.8,767.7 391,760.0 444.4,734.9 498.6,766.9" fill="none" stroke="#000" stroke-width="2.2" stroke-dasharray="2.8 1.6"/>
<circle cx="336.8" cy="745.1" r="5.1" fill="#000"/>
<circle cx="391" cy="738.6" r="5.1" fill="#000"/>
<circle cx="444.4" cy="646.0" r="5.1" fill="#000"/>
<circle cx="498.6" cy="763.2" r="5.1" fill="#000"/>
<circle cx="336.8" cy="767.7" r="4.6" fill="#dfdfdf" stroke="#000" stroke-width="1"/>
<circle cx="391" cy="760.0" r="4.6" fill="#dfdfdf" stroke="#000" stroke-width="1"/>
<circle cx="444.4" cy="734.9" r="4.6" fill="#dfdfdf" stroke="#000" stroke-width="1"/>
<circle cx="498.6" cy="766.9" r="4.6" fill="#dfdfdf" stroke="#000" stroke-width="1"/>
<text transform="translate(276.4,681.8) rotate(-90)" font-size="13.8" text-anchor="middle">CD8<tspan font-size="7" dy="-3.2">+</tspan><tspan dy="3.2" font-size="14"> </tspan>cells (millions)</text>
<line x1="88.8" y1="574.2" x2="105.8" y2="574.2" stroke="#000" stroke-width="1.8" />
<line x1="88.8" y1="591.5" x2="105.8" y2="591.5" stroke="#000" stroke-width="1.8" stroke-dasharray="2.8 1.5"/>
<text x="110.6" y="578.3" font-size="12.8" text-anchor="start" font-weight="normal" >IFN-γ positive cells</text>
<text x="110.6" y="595" font-size="12.8" text-anchor="start" font-weight="normal" >IL-17 positive cells</text>
</svg>
</body></html>
